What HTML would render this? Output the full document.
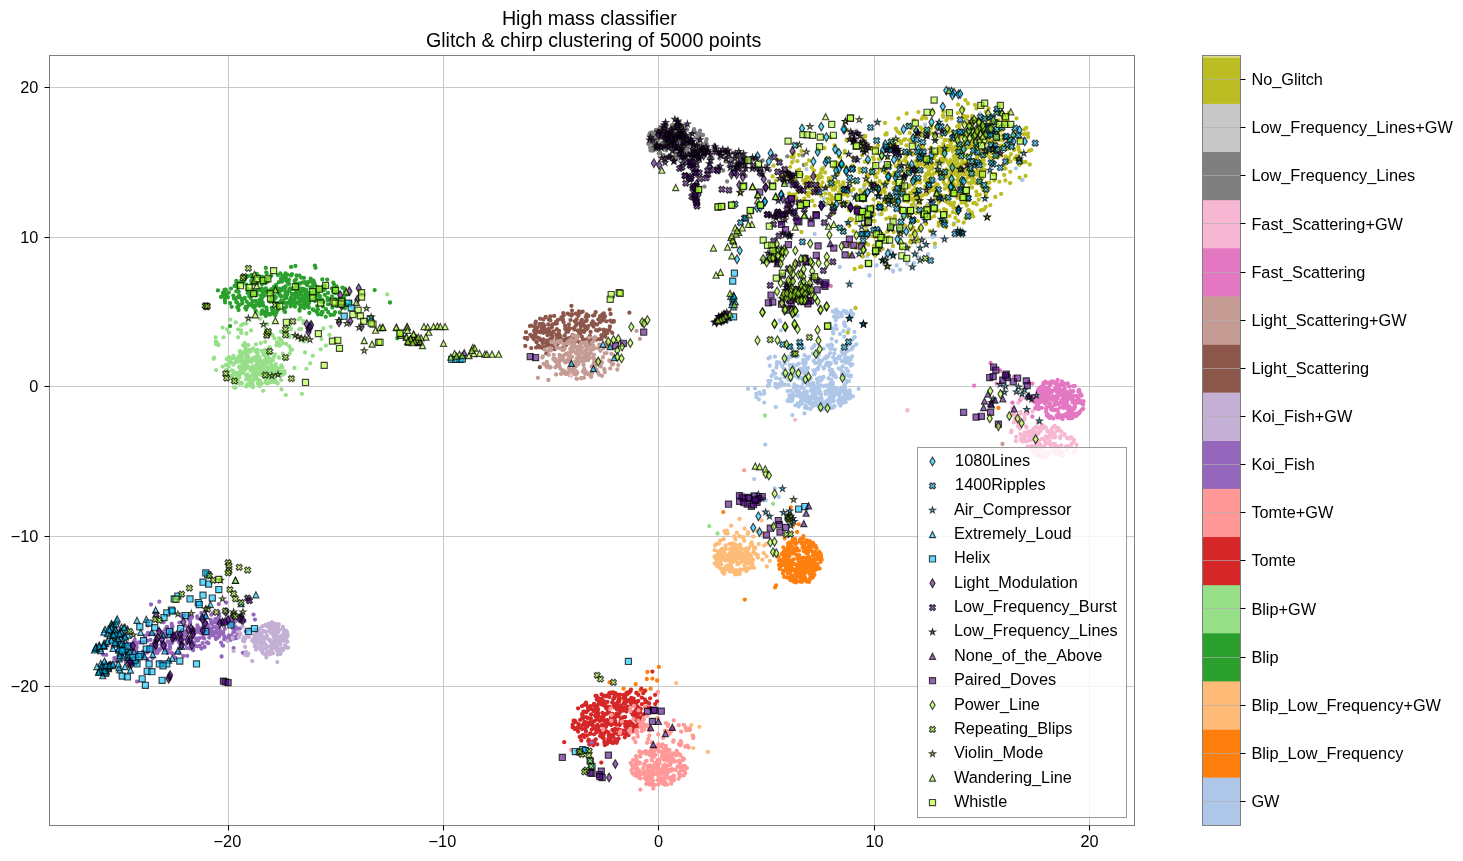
<!DOCTYPE html>
<html><head><meta charset="utf-8"><title>High mass classifier</title>
<style>html,body{margin:0;padding:0;background:#fff}svg{display:block;will-change:transform}text{font-family:"Liberation Sans",sans-serif;fill:#000}</style>
</head><body>
<svg width="1463" height="861" viewBox="0 0 1463 861">
<rect width="1463" height="861" fill="#fff"/>
<defs>
<path id="m0" d="M-0.00 4.31L2.59 -0.00L0.00 -4.31L-2.59 -0.00Z"/>
<path id="m1" d="M-1.52 3.05L0.00 1.52L1.52 3.05L3.05 1.52L1.52 -0.00L3.05 -1.52L1.52 -3.05L0.00 -1.52L-1.52 -3.05L-3.05 -1.52L-1.52 -0.00L-3.05 1.52Z"/>
<path id="m2" d="M0.00 -3.05L-0.69 -0.94L-2.90 -0.94L-1.11 0.36L-1.79 2.47L-0.00 1.17L1.79 2.47L1.11 0.36L2.90 -0.94L0.69 -0.94Z"/>
<path id="m3" d="M0.00 -3.05L-3.05 3.05L3.05 3.05Z"/>
<path id="m4" d="M-3.05 3.05L3.05 3.05L3.05 -3.05L-3.05 -3.05Z"/>
<clipPath id="ax"><rect x="49.5" y="55.5" width="1085.0" height="770.0"/></clipPath>
</defs>
<path d="M228.5 55.5V825.5M443.5 55.5V825.5M658.5 55.5V825.5M874.5 55.5V825.5M1089.5 55.5V825.5M49.5 87.5H1134.5M49.5 237.5H1134.5M49.5 386.5H1134.5M49.5 536.5H1134.5M49.5 686.5H1134.5" stroke="#c8c8c8" stroke-width="1" fill="none"/>
<g clip-path="url(#ax)" fill="none" stroke-linecap="round" stroke-width="4.3">
<path stroke="#aec7e8" d="M765.3 444.6h0M754.2 479.1h0M774.7 488.5h0M778.7 496.9h0M765.7 500.2h0M803.4 541.8h0M799.4 392.3h0M842.7 387.3h0M815.8 396.9h0M844 402.1h0M813.3 403.4h0M792.6 398.2h0M824.5 403.6h0M799.5 405.1h0M831.7 391.7h0M849.9 394.7h0M817.5 386.3h0M809.9 385.2h0M810.5 401h0M813.6 385.3h0M830.2 387.5h0M830.4 399.8h0M800.6 402.1h0M789.4 395.3h0M836.4 388.4h0M815.4 404.1h0M845.7 402h0M830.9 391.5h0M810.7 390.5h0M833.7 397h0M790.5 401.2h0M812.1 397.8h0M829.6 403.2h0M833.4 388.7h0M827.9 402.7h0M831.1 397.3h0M803.4 398.1h0M811.2 404h0M839.8 395h0M848.1 391.5h0M806.1 400.9h0M838.2 400.8h0M823 409h0M814.9 388.1h0M847.2 394.5h0M840.4 404.7h0M820.8 398.8h0M835.8 394.4h0M807.2 408.3h0M839.5 390.2h0M815.7 391.1h0M820.9 400.8h0M828.9 399.1h0M843.6 387.5h0M814.4 391.6h0M849.5 395.7h0M838.9 402.9h0M798.6 406.6h0M801.5 387.4h0M815.1 403.6h0M825.4 391.6h0M832.8 384h0M815.7 390.7h0M846 398.1h0M844.9 389.5h0M787.6 401h0M813.4 389h0M807.1 398.7h0M804.6 394.8h0M808 401.7h0M813 396h0M821 406.5h0M805.7 405.6h0M799.6 396.6h0M825.8 406.8h0M825.6 394.1h0M833 401.4h0M811.6 402.8h0M815.7 398.7h0M832.4 407h0M845.3 392.7h0M815.8 402.2h0M826.3 402h0M833.7 407.2h0M828.5 385.4h0M814.7 398.8h0M802.5 400.2h0M814.5 391.8h0M832.9 393.1h0M843.9 401.1h0M825 402.8h0M833.1 407.7h0M819 392.8h0M797.7 386.3h0M820.6 394.5h0M844.9 396.1h0M834.6 406h0M790 397.9h0M812.5 392.8h0M811.1 383.5h0M805.7 391.9h0M801.5 402.8h0M850.3 398.1h0M816 405.1h0M833.7 400.8h0M837.3 392.5h0M849.7 392.6h0M803.9 392.3h0M840.6 391.5h0M806.9 393.3h0M801.2 397.7h0M819.7 393.2h0M804.9 407.8h0M831.5 394.4h0M806.9 395.7h0M821.1 394.5h0M817.6 391.3h0M808.7 384.6h0M798.7 391h0M819.1 398.8h0M802 403.5h0M792.1 400.9h0M806.2 397.8h0M812.5 406.5h0M804.1 393.8h0M799.2 394.4h0M819.9 409h0M831.1 408h0M849.5 390.5h0M803.8 392.8h0M848 397.4h0M790.6 397.7h0M788.4 399.7h0M791.4 396.9h0M822.9 408.6h0M849.8 391.6h0M826.6 400.8h0M828.8 392.7h0M828.3 402.7h0M848.7 398.6h0M841.1 402.7h0M844.5 393.9h0M806.3 401.4h0M802 395.2h0M793.2 395.6h0M829.1 385.7h0M824.8 408.9h0M811.9 397.5h0M840.9 390.4h0M810.9 386.2h0M820.1 407h0M812.5 387.6h0M833.1 386.9h0M797.8 403.4h0M810 396.9h0M809.4 385.2h0M816.8 398h0M806.9 407.5h0M813.8 389.5h0M828.8 389.1h0M803.5 393.8h0M810.5 401.3h0M817 392.9h0M813.1 405.6h0M841.1 399.2h0M806.5 391.5h0M852.9 396.3h0M814.9 393.8h0M800.8 401.2h0M800.8 394h0M815 402.4h0M803.7 388h0M831.7 388.7h0M809.5 399.4h0M797.8 394h0M849.6 395.2h0M792.9 393.4h0M821.7 398.7h0M787.6 391.1h0M817 400.6h0M839.5 398h0M819.1 404.3h0M849 397.4h0M841.8 403.2h0M801.4 402.7h0M795.3 405.3h0M819.1 389.1h0M842.8 397.8h0M821.3 403.8h0M829.4 399.4h0M827.8 406.4h0M817.7 382.5h0M813.3 396.5h0M790.9 390.7h0M823.8 386.4h0M840.4 405.6h0M821.3 400.7h0M796.1 395.6h0M810.4 408.9h0M819 406h0M820.9 395.7h0M820.2 408.7h0M834.7 392.1h0M813.4 383.2h0M809.7 403.6h0M844.8 397h0M825.2 402.1h0M796 390.7h0M842.3 391.1h0M804 394.4h0M820 391.3h0M801.6 397h0M813.7 386h0M840.6 399.3h0M794 387.6h0M805.6 407.4h0M828.1 390.3h0M829.7 396.3h0M831.2 401.9h0M841.1 388.1h0M828.8 403.9h0M821.8 360.7h0M847.2 381h0M819.7 362.2h0M806.1 368.4h0M803.3 382.5h0M839.2 358.5h0M769.8 365.7h0M844.4 385.7h0M822.4 378.7h0M840.5 369.2h0M826.2 357.9h0M805.6 363.6h0M828.3 356.4h0M834.9 375.1h0M768.4 381h0M796.9 365.1h0M836.6 358.8h0M830.6 374.6h0M821 385.4h0M842.6 366.5h0M777.5 384.7h0M850.7 359.6h0M832.4 383.3h0M843.2 373.1h0M847.7 375.3h0M775.2 373.6h0M807.1 371.3h0M785.6 357.6h0M821.5 361h0M819.1 360.9h0M784.7 356.9h0M850.9 375.6h0M775.6 386.5h0M819.9 364.7h0M793.2 356.1h0M831.5 380h0M793 364.8h0M797.5 377.4h0M813.8 386.4h0M805 373.5h0M803.8 372h0M809.6 384.4h0M784.9 375.5h0M844.9 387.2h0M793.6 367.7h0M802 386.3h0M791.1 379.8h0M834.5 376.2h0M830.7 371.2h0M784.6 377.2h0M801.3 387.7h0M826.5 356.4h0M771.6 376.2h0M784.5 384.3h0M777 362.1h0M807.4 382.7h0M817.7 386.2h0M841.9 375.5h0M844.8 385h0M847 360.8h0M774.9 356.7h0M814 374.4h0M804.5 373.4h0M832.8 382.7h0M849.2 376.2h0M838.7 356.7h0M824.6 358.4h0M823.9 368.6h0M804.1 367h0M780.7 385.8h0M849 381.1h0M777.1 387.7h0M802.1 377.6h0M850.8 365.5h0M779.8 362.7h0M815.8 369.9h0M847.1 357.8h0M794.6 370.8h0M788.6 384.8h0M768.9 385.7h0M770.5 380.8h0M845.1 357.9h0M805.6 360.8h0M789.5 373.9h0M776.9 364.2h0M829.7 370.1h0M833.4 372.6h0M847.8 362h0M788.4 379.9h0M800.5 369h0M769.1 383.9h0M775.3 383.8h0M786.9 374.9h0M768.5 358.4h0M850.6 376.7h0M808 367.9h0M835.9 363h0M807 372.2h0M770 357.2h0M808.2 358.5h0M816.1 363.1h0M826.1 385.6h0M825.3 358.4h0M822.9 378.1h0M782.6 373.8h0M795 375.5h0M803 380.1h0M815.1 362.9h0M849.2 363.2h0M780.2 383.7h0M829.1 362.6h0M802.9 359.9h0M833.6 375.5h0M787.8 360.1h0M817.8 369.2h0M806.7 357.2h0M847 359.8h0M782.2 365.9h0M842.2 372.9h0M776.1 378.2h0M844.5 374.4h0M806.1 372.6h0M820.8 380.6h0M789 356.7h0M847.6 357.8h0M848.1 371.2h0M790.2 368.9h0M838.7 368.3h0M798.9 363.7h0M844.5 375.8h0M812.7 353.6h0M804.4 355.2h0M823.7 348.6h0M812 348.3h0M818.5 354.7h0M804 348.1h0M814.5 354h0M809 356.8h0M791.3 346h0M792.6 349.4h0M795.5 356.7h0M817.6 357h0M814.6 345.1h0M827.8 345.5h0M790.4 357.4h0M796.4 356.5h0M797.8 356.4h0M791.4 353.6h0M814 346.2h0M833.1 357.3h0M848.7 329.5h0M845.7 352.5h0M841.7 316h0M849.4 314.2h0M843.8 310.9h0M844.4 324.4h0M853.2 314.1h0M851.4 316.8h0M834.9 312.3h0M852.1 348.5h0M844.2 322.4h0M830.5 327.1h0M841.1 316.3h0M842.8 353.7h0M830.1 353.2h0M848.8 318.1h0M838 317.1h0M844.7 354.1h0M833.9 316.6h0M852.6 339.7h0M851.6 349.3h0M836.2 309.7h0M835.7 320.3h0M836.8 315.2h0M851.1 310.7h0M853.8 337.9h0M835 311.2h0M835.7 325.5h0M848.1 350.6h0M832.2 345.6h0M854.8 337.1h0M856.5 344.3h0M852.9 347h0M848.4 318.6h0M829.3 323.6h0M831.4 347.7h0M831.6 348.7h0M841.7 351.5h0M845.2 326.2h0M843.6 331h0M840 334h0M847.9 345.8h0M769.1 385.5h0M756.2 394h0M756.5 397.2h0M759.2 392.3h0M764 390.9h0M758.9 399.3h0M760.6 394.3h0M764.2 393.7h0M764.2 402.6h0M767.7 386.2h0M748.1 388.9h0M755 388.4h0M775.8 407.1h0M792.4 415.1h0M804.5 413.4h0M858.6 388.8h0M780.2 321.4h0M781 330.4h0M797.6 315.8h0M835.9 311.8h0M836.8 313.5h0M942.3 162.8h0M914.4 167.8h0M980.3 181h0M825.5 205.3h0M939.2 178.7h0M895.8 179.2h0M953.3 194.1h0M932.6 237h0M929.1 209.5h0M879.5 214.3h0M980 113.5h0M823.5 198h0M963 169.4h0M866.7 227.2h0M896.4 190.8h0M917.2 160.3h0M930.5 127.9h0M907.1 162.7h0M929.8 217.2h0M890.5 217.8h0M915.2 205.6h0M947.2 170.9h0M849.6 202.2h0M867.2 256.2h0M934.7 180.9h0M925.8 221.9h0M863.8 187.6h0M846.8 223h0M851.4 204.2h0M865.3 251.3h0M962.4 135h0M806.4 169.2h0M925 124.7h0M848 204.5h0M982.3 161.7h0M892.5 220.8h0M789.2 183.6h0M967.9 211.1h0M935.7 193.5h0M879.6 187h0M984.6 117.1h0M969.9 162.3h0M860.3 221.3h0M931.8 205.7h0M876.1 167.3h0M937.1 205.9h0M888.1 229.7h0M902.2 186.1h0M824.1 189.9h0M954.5 223.2h0M963 163.5h0M880 161.3h0M851.2 192.6h0M970.2 214.7h0M927.8 203.9h0M845 202.3h0M939.9 178h0M915 129.7h0M980.6 147.5h0M866.2 206.7h0M968.9 218.3h0M1022 180h0M934.9 235.4h0M934.9 247.1h0M890.5 250.6h0M876.6 265.4h0M893.1 271.5h0M900.1 269.7h0M896.6 265.4h0M869.6 275.5h0M914 262.8h0M928 254.1h0M907 263.6h0M886.1 256.7h0M917.5 256.7h0M814.6 234h0M839.8 267h0M869.4 275.5h0M838 312h0M842 316h0M846 313h0M836 318h0M1022.5 180h0M1016 168.4h0M814.6 234h0M839.9 267.1h0M869.5 275.5h0M876.4 265.4h0M893 270.6h0M900 269.7h0M779.7 320.3h0M789.3 286.3h0M848.5 358.5h0M843.2 353.8h0M831.2 344.3h0M840.4 356.6h0M834.6 360.5h0M845.5 357.4h0M845.5 362.7h0M833 332.7h0M855.8 344.6h0M836.7 329.1h0M841.9 361.2h0M832.8 311.4h0M832.9 328.7h0M840.9 313.1h0M846.5 311.6h0M843.6 361h0M834.3 353.7h0M849.7 316.7h0M852.4 364.3h0M836.3 362.6h0M830.2 348.6h0M834.9 349.6h0M831.7 339h0M836.4 341.5h0M844.3 336.6h0M830.8 363.5h0M832 369.8h0M854.4 332h0M833.4 333.4h0M852.1 356.3h0M784 368.8h0M833 373.6h0M784.9 363h0M803.2 363h0M772.1 375.4h0M819.7 377.7h0M826.1 365h0M805.5 362.8h0M789.5 364.9h0M846.4 368.7h0M830.2 383.4h0M795.4 387.7h0M781.5 381.9h0M780.1 378.8h0M776.4 367.4h0M830.9 372.1h0M807.8 385.2h0M814.8 373.6h0M826.9 362.8h0M773 370.9h0M823.4 376.9h0M831.1 372.7h0M794.3 384.5h0M843.4 378.8h0M836 377.2h0M813.7 360.7h0M799.6 378.3h0M826.8 363.4h0M813.5 370.3h0M801.6 370.1h0M843.2 372.1h0M828.5 378.3h0M823.4 367.6h0M781.3 382.9h0M829.2 366.3h0M816.9 379h0M810.7 378.5h0M818.1 367.9h0M825.5 385.7h0M846.4 382.5h0"/>
<path stroke="#ff7f0e" d="M658.9 666.9h0M647.4 672h0M646.8 679h0M652.4 678.6h0M657.1 680.5h0M635.7 684.2h0M623.6 688.7h0M645.5 690.5h0M650.6 688.7h0M620.8 699.1h0M605.4 706h0M583.1 715.8h0M640.3 690.5h0M793.6 542.1h0M803.1 538.3h0M788.8 572.4h0M803.9 547.2h0M789.1 551.1h0M784.1 562.1h0M791.7 579.9h0M792.9 553.6h0M821.7 559.8h0M799.9 539.8h0M808.1 565.7h0M802.6 564.9h0M803.2 560.1h0M796 582.4h0M801.1 560.8h0M802.2 571.4h0M803.7 579.4h0M821.2 557.1h0M796.9 554.8h0M812.3 551.5h0M817.2 554.9h0M816.8 569h0M804.2 574h0M810 573.7h0M794.1 581.5h0M809.1 581.9h0M799.4 576.9h0M790.3 577.9h0M810.5 576.2h0M791.5 575.3h0M803.8 545.8h0M793.5 541.4h0M815.7 569.7h0M796.4 581h0M787.8 573.7h0M804.6 559h0M786.2 563.3h0M786.4 559.3h0M800.8 565h0M817.5 566.1h0M781.1 565.8h0M785.9 568.9h0M811.8 546.2h0M797 548.4h0M781.8 564.1h0M815.3 564.4h0M803 557.7h0M803.2 580h0M784.3 565h0M785.1 557.8h0M788.5 557.1h0M783.4 547.3h0M807.7 552.1h0M802.8 577.3h0M806.3 559.8h0M792.6 564.3h0M806.1 553h0M795.1 540.2h0M794.7 550.6h0M807.3 581.4h0M810.2 549.3h0M812.5 570h0M796 570.8h0M810 569.6h0M797.6 572.2h0M810.5 545.4h0M807.7 550.3h0M809.8 541.1h0M802.2 564.7h0M798.5 560.8h0M791.1 547.6h0M818.1 554.2h0M792.9 563.3h0M786.6 550.8h0M787.2 577.7h0M809.4 544.4h0M815.6 546h0M813.4 555.9h0M812.9 555.1h0M806.6 564.9h0M799 550.6h0M780.3 566.9h0M815.2 552h0M783.1 570.6h0M807.6 566.7h0M788.9 557.2h0M804.5 563.7h0M796.6 576.6h0M808.7 560.2h0M813.3 560h0M795.5 544.1h0M779.3 564.6h0M820.6 561.8h0M791.6 577h0M799.2 564.6h0M782 554h0M785.1 557.1h0M795.8 548.1h0M792.8 540.4h0M790.1 552.4h0M788.5 544.2h0M814.4 574.9h0M812.6 565.8h0M793.6 576.9h0M789.5 545.4h0M812 564h0M793.6 548.9h0M800.5 541.6h0M808.8 544.5h0M783.5 551.6h0M786.6 560.8h0M792.9 569h0M805.4 547.6h0M813.1 542.9h0M784.1 557h0M805.2 542.9h0M788.8 563.8h0M806.7 541.8h0M806.8 540.3h0M816.6 548.4h0M788.4 555h0M809.1 556.8h0M814.7 552.4h0M793.8 577h0M803.5 569.5h0M799.4 558.5h0M783 573.6h0M814.3 546.7h0M814.2 562h0M802.5 566.7h0M809.9 574h0M812.9 567.4h0M817.5 564.1h0M811.3 561.2h0M810.9 567.9h0M817.2 564.4h0M783.8 570.8h0M790 560.8h0M796 574.6h0M780.8 561.2h0M814.3 570.9h0M808.1 559.9h0M798.8 574h0M802 542.2h0M798.7 565.4h0M821 558.4h0M804.2 580.3h0M812.1 563.4h0M797 566.6h0M818.7 568.3h0M806.5 561h0M816.8 559.4h0M799.8 581.4h0M804.6 562.7h0M807.9 541.6h0M802 560h0M820.5 553.7h0M810.5 549.2h0M783.1 559.9h0M809.1 580h0M779.5 568.8h0M804.6 568.7h0M799.2 555.3h0M788.1 543.4h0M789.6 564h0M803.8 545.5h0M791.1 542.8h0M809.8 579h0M787.5 571.5h0M792.7 539.4h0M779 565h0M803.7 551.2h0M820.3 556.7h0M816 558.8h0M791 560.8h0M788.4 568.5h0M788.3 555.8h0M789.9 542.5h0M820.6 558.7h0M793.5 552.4h0M803.3 547.8h0M803.4 560.4h0M797.5 558.3h0M806 550.3h0M793.1 563.4h0M780.1 565.8h0M784.3 576.9h0M806.8 571.5h0M800.3 566.2h0M809.8 558.6h0M795.2 579.1h0M800.7 574.2h0M796.7 543h0M790.5 552h0M789.5 568.8h0M794.1 570.2h0M809.9 579.5h0M810.8 567.1h0M805.1 562.8h0M795.6 579.2h0M782.3 559.7h0M788.4 561.7h0M793 540.8h0M803.1 557.9h0M778.6 556.7h0M794.3 576.4h0M805.2 559.4h0M805.5 572.7h0M788 547h0M806.9 581.6h0M785.6 553.1h0M820.1 558.7h0M811.7 574.2h0M808.1 553h0M801.5 563.2h0M801.5 543.6h0M788.7 571.6h0M785.3 560.2h0M795.8 564.3h0M814.9 552.5h0M779 560.4h0M785.4 550.2h0M793.5 559.4h0M785.8 566.6h0M802.1 581.3h0M790.6 579.7h0M805.6 550.1h0M785.1 562h0M782.8 565.1h0M795.5 550.7h0M804.4 559h0M801.7 581.9h0M806.8 551.4h0M807.7 547.8h0M800.9 578.4h0M801.1 563h0M821 555.1h0M798.5 570.8h0M817.4 568.5h0M812.8 577.6h0M797.2 568.2h0M817.4 565.7h0M790.3 571.6h0M789.5 555.8h0M802.6 547.6h0M810.7 547.1h0M812.7 546.4h0M819.4 551.9h0M789.7 567h0M804 543.6h0M789.3 549.1h0M808.8 563.1h0M804.5 574h0M801.7 568h0M803.1 577.2h0M801.7 569.4h0M794.9 571.8h0M805.2 578h0M800.2 567.2h0M800.6 565.7h0M788.3 545.3h0M794.6 581.7h0M809.7 570.9h0M813.4 552.1h0M791.1 567.8h0M817.7 558.4h0M796.6 554.9h0M802.7 572.1h0M808.1 569.9h0M806.8 551.9h0M794.7 582.1h0M819.7 568.6h0M791.7 546.2h0M805.7 561.7h0M810.7 566.7h0M801 539.4h0M796.3 577.6h0M801 538.9h0M789.6 554.3h0M816.1 568.2h0M808 556.8h0M790.3 580h0M794.9 539h0M788.9 546.9h0M787.8 572.2h0M814.9 545.3h0M809.6 565.3h0M793.5 581.4h0M805 558.2h0M804.2 574.2h0M723.3 512.1h0M744.8 599.6h0M775.1 587.4h0M776.2 585.3h0M790.8 507.3h0M798.8 524.3h0M792.9 525.7h0M803.4 536.2h0M797.1 532h0M784.6 538.3h0M998.4 408h0M609.5 682.3h0"/>
<path stroke="#ffbb78" d="M676.2 683.1h0M691.4 725.1h0M699.4 726.8h0M692.4 735.3h0M693.3 748.1h0M707.8 752h0M725.9 567.7h0M751.9 562.8h0M725 557.6h0M730.1 552.4h0M740.1 554.9h0M720.2 552.3h0M721.1 564.2h0M744.5 565.5h0M716.7 565.8h0M749.8 557.7h0M728.3 557.7h0M735.1 544.3h0M748.8 555.1h0M735.1 574.4h0M732.8 571.6h0M734.5 544.2h0M745.3 561.8h0M728.1 569.2h0M738.5 549.2h0M738.6 552.3h0M739.8 570.2h0M753.2 560h0M750.5 556.5h0M725.7 559.8h0M716.6 559.8h0M731.4 556.4h0M735.2 554h0M726.7 567.7h0M718.8 557.2h0M735.4 554.5h0M723.6 568.6h0M720.2 555.6h0M723.5 573h0M744.2 556.8h0M752.5 564.6h0M733 552h0M715.8 558.5h0M724.2 549.9h0M737 572.3h0M745.8 557.3h0M728.2 560.6h0M730.9 549.9h0M745.1 565.6h0M730 571.6h0M737.6 558.1h0M747.4 561.1h0M722.4 571.7h0M739.7 574h0M727.6 568.9h0M724 552.2h0M746.1 548.6h0M714.5 556.5h0M741.7 555.9h0M730.1 548.8h0M747.6 555.5h0M741.4 569.9h0M740.8 554.5h0M734.2 546.2h0M748.1 555.8h0M747.9 563h0M739.1 562.9h0M751.5 560.7h0M745.7 560.2h0M734.6 572.5h0M722.7 555.6h0M732.4 560.8h0M746.3 571h0M735 548.6h0M738.1 564.1h0M746.9 559.1h0M731 566.1h0M752 564.6h0M739.9 569.5h0M742 561.3h0M736.5 574.3h0M725.9 549h0M728 565.6h0M749.3 560.9h0M729.9 565.5h0M724.5 571.7h0M732.5 570h0M733 545.8h0M737.5 563.3h0M724.2 557.5h0M746.9 561.8h0M715.8 563.5h0M734.8 555.5h0M723.9 573.8h0M736.2 561.3h0M726.4 557.7h0M747.8 558.5h0M731.2 548.7h0M720.7 562.3h0M728.2 557.1h0M724.6 570.7h0M720.5 568.5h0M741.3 548.5h0M747.9 549.7h0M722.4 557.8h0M734 550.5h0M738.9 553.2h0M720.2 551h0M739.4 557.7h0M717.8 551.7h0M715.2 556.1h0M732.4 548.8h0M724.6 553.2h0M744 553.7h0M738.1 546h0M714.9 556.4h0M731.6 553.8h0M747.7 551.1h0M717.9 566.6h0M727.8 568.4h0M740.5 551.6h0M735.7 560.9h0M724.4 558.9h0M747.6 563.4h0M730.3 548.9h0M748.8 553.9h0M751.2 556.7h0M726 566.5h0M740.1 553.6h0M729.1 554.5h0M736 570.1h0M741 562.1h0M721 552.9h0M730.8 563.7h0M745.3 551h0M738.9 558.2h0M717.8 554.2h0M720.1 550.6h0M744.4 568.9h0M723.9 573.5h0M738.1 551.6h0M721.3 560.1h0M730.6 566.3h0M719.6 557.7h0M721.4 559.8h0M714.7 563.5h0M719.5 562.6h0M732.7 559.6h0M741.5 557.8h0M745.5 550.8h0M716.3 556.4h0M748.6 563.3h0M747.6 548.7h0M722.3 548.7h0M746.2 569.6h0M745.7 551h0M749 562.4h0M754.3 549.7h0M766.2 543.9h0M749.3 557.1h0M762.4 559.7h0M723.7 539.2h0M729.4 554.6h0M740.1 536.5h0M729.5 543.8h0M733 544.7h0M735.5 539.3h0M750.2 558.6h0M743.5 537.2h0M727.8 555.9h0M739.4 536.2h0M717.3 543.8h0M757.9 557.5h0M743.2 556.3h0M725.7 557.4h0M755.2 548h0M719.2 543.4h0M757.7 555h0M715.1 545.4h0M749.2 547.4h0M750.8 543.6h0M727.7 533.5h0M753.4 551.9h0M737.2 550.1h0M732.7 562h0M750 567.9h0M753.1 536.6h0M729.8 559.8h0M741.9 548.8h0M744.6 528.7h0M753.9 567.8h0M740.2 544.6h0M738.2 556.2h0M732.8 543.3h0M720.7 558.7h0M762.9 533.7h0M748.1 568.7h0M751.7 542.5h0M755.4 554h0M763.8 553.2h0M755 547.5h0M720.7 560.6h0M725.6 545.5h0M750.8 555.4h0M752 544.8h0M714.6 550.1h0M744.2 540.7h0M724.5 531.1h0M744.6 553.8h0M725.5 533.3h0M742.4 559.6h0M726.9 530.6h0M715.4 545h0M766.6 556.4h0M735.8 557.5h0M745.8 551.8h0M732.3 568.4h0M748.3 532.2h0M754.1 548.4h0M746 562.3h0M757.2 530.8h0M746.8 552.3h0M737.4 564.2h0M740.2 550h0M734.2 536.4h0M764.2 545.6h0M724.9 548.9h0M720.3 540.5h0M758.8 544.1h0M736.8 532.6h0M733.3 559.1h0M747.7 533.9h0M732.4 559.3h0M750 555.9h0M740.2 555.4h0M725.6 560.4h0M739.6 519h0M731.2 525.7h0M761.6 520.5h0M769.9 560.9h0M766.8 566.5h0"/>
<path stroke="#2ca02c" d="M281.4 290.3h0M228.8 292.6h0M302.9 296.3h0M282.5 275.9h0M319 299.3h0M288 279.6h0M306.1 293.6h0M266.4 289.6h0M284.6 302.8h0M253.6 307.2h0M310.4 287.5h0M227.9 297.2h0M255.5 283.8h0M271.2 289.1h0M291.7 300.4h0M296.5 275.4h0M290.1 288.5h0M290.5 305.1h0M225.8 289.6h0M270.7 296.9h0M269.2 277.5h0M320 296.1h0M249.8 294h0M281 278.4h0M266.7 273.4h0M285 298.1h0M289 280h0M275.9 312.6h0M285.7 277h0M239.1 295.4h0M283.4 301.4h0M268.1 279.3h0M281.9 281.7h0M261 280.5h0M299.9 290.2h0M270.9 314h0M276.5 312.8h0M288.2 302.7h0M236.2 291.3h0M252.4 301.1h0M252.3 305.8h0M244.8 298h0M266.5 311.5h0M300.9 293.3h0M240 297.6h0M265.9 312.3h0M242.9 299.2h0M314.4 283.5h0M280.7 301.4h0M244 280.8h0M252.5 283.9h0M266.4 307.7h0M233.9 298.4h0M306.2 289.9h0M255.5 305.9h0M271.7 293.4h0M279.1 288.7h0M246 308.9h0M306.9 291.8h0M242.8 282.2h0M223.3 295.6h0M262.5 276.9h0M263.2 296.3h0M265.5 283h0M266.8 310.5h0M292.1 288.9h0M224.5 290h0M275.3 315.2h0M230.1 303.2h0M297.8 284.2h0M287.3 274.7h0M255.8 295.3h0M256.7 303.8h0M249 304.9h0M314 290.3h0M297.9 302.7h0M284.7 288.8h0M289 283.9h0M276.7 305.5h0M257.2 303.7h0M255 291.1h0M281.5 280.8h0M302.4 288.6h0M315.3 291.5h0M264.1 313.3h0M284.9 308h0M239.5 296.2h0M231 288.6h0M245.5 277.8h0M303.8 304h0M244.7 279.5h0M314.1 282.4h0M279.3 291.8h0M315.3 285.4h0M293.6 288.2h0M304.1 289.3h0M314.3 298.4h0M307.6 283.5h0M270 301.7h0M255.5 310.4h0M260.9 295.7h0M299.1 289.6h0M236.4 283.2h0M253.5 305.7h0M245.9 306.7h0M306.3 282.4h0M291.1 275.6h0M300.4 307.4h0M272.1 295.5h0M250.8 304.6h0M279.3 307.8h0M262.6 292.6h0M278.4 309.3h0M237.9 287.6h0M313.2 284.8h0M299.5 275.7h0M285.2 297.7h0M278.3 303.2h0M238.4 304.3h0M261.8 288.6h0M255.6 300.9h0M272.2 310.2h0M261.7 301.2h0M285.1 312h0M301.1 277.6h0M269.4 290.9h0M242.3 303.3h0M257.8 276h0M223 293h0M247.7 293.1h0M259.6 300.6h0M225.7 297.1h0M319.2 290.5h0M276.1 285h0M286.5 281.1h0M302 305.9h0M226.4 295.1h0M259.6 300.6h0M306.2 302.1h0M237.3 307.2h0M304.4 300h0M274.1 302h0M274.3 290.6h0M261.9 284.3h0M257.2 276h0M280 295.6h0M273.9 295.3h0M300.4 294.7h0M281.1 296.5h0M286.3 298.1h0M278.1 293.1h0M299.2 283.5h0M284.2 310.9h0M271.7 307.8h0M288 291.7h0M247.2 289.8h0M247.1 307h0M224.9 300.1h0M265.8 315.9h0M252 289.6h0M271.3 292.2h0M227 293.6h0M291.9 274.2h0M297 302.5h0M237.1 283.6h0M318 291.1h0M295 306.7h0M225.7 296.3h0M267.5 292.1h0M259.6 303.6h0M296 290.8h0M256.5 295.2h0M225.1 298.4h0M277.9 291.9h0M312 294.4h0M279.8 289.9h0M292 302.4h0M249.9 304.2h0M252.5 295.3h0M237.5 297.5h0M306.5 296.6h0M261.5 305h0M246.2 309.5h0M289.5 291.2h0M289.4 289h0M247.4 288.6h0M298.6 287.8h0M285.5 286.5h0M238.6 310h0M305.9 306.1h0M260.4 290.4h0M259.6 305.8h0M294.4 293.8h0M304 291.2h0M296.1 291.1h0M238.6 291.7h0M236.3 281h0M257.2 283.2h0M307 285h0M235.3 298.6h0M234.6 285.9h0M273.7 298.6h0M274.7 312.6h0M223.9 292.7h0M277.5 310.3h0M296.8 295.2h0M245.3 308h0M271.3 275.8h0M265.9 311.4h0M283.1 287.8h0M256.8 273.8h0M243.6 277.4h0M296 284.6h0M305.8 300.2h0M275.8 297.2h0M313.4 280.7h0M309 281.8h0M306.6 300.9h0M277.9 275.1h0M291.9 294.2h0M289.6 302h0M290.1 299.9h0M262.3 310.3h0M261.9 298.2h0M311.5 281.6h0M242.1 300.6h0M295.1 303.1h0M270.2 300.4h0M312.6 293.3h0M316.1 295.9h0M237.1 302.4h0M249.1 294h0M272.7 313.3h0M259.6 299.7h0M308.3 304.7h0M251.4 281h0M252.5 301.6h0M290.7 306.3h0M233.3 295.6h0M278.5 303.9h0M260.7 313.8h0M294.4 302.8h0M280.3 273.4h0M264.4 313.9h0M285.4 291.8h0M239.8 304.8h0M287.1 303.1h0M259.5 276.3h0M267.8 278.5h0M295.5 283.5h0M304.4 308.1h0M274.4 289.5h0M294.6 280.9h0M263.3 305.5h0M264.4 295.3h0M240.3 282.2h0M273.6 310h0M303.9 277.9h0M259.6 278.7h0M288.7 283.9h0M225.1 302.4h0M256.8 293.7h0M275.5 298h0M256.1 311.6h0M267.8 281.5h0M299.5 289.8h0M299.4 309.8h0M297.8 296.8h0M315 301h0M236.2 302.1h0M278.8 282.2h0M273.8 298.5h0M249.2 296.2h0M223.1 293.6h0M287.5 282h0M281.6 300.6h0M297.6 294.2h0M224.9 294.8h0M260.8 300.8h0M261.2 312.9h0M274.1 286.7h0M251.5 275h0M302.7 300.7h0M263.5 293.1h0M285.5 273.3h0M295.7 286.4h0M314.1 292.6h0M283.9 279.2h0M285.1 295.1h0M265.8 288.4h0M257.5 290h0M289.4 291h0M265.2 291h0M280.5 295.4h0M248.1 276.1h0M271.8 299.9h0M288.5 280.2h0M287.2 294.8h0M262.7 302.8h0M252.2 277.7h0M299.6 310.7h0M251.6 283.2h0M271 292.8h0M266.2 272.3h0M278.5 290.9h0M246.8 301.7h0M294.7 305.4h0M269.7 314.7h0M237.9 307.8h0M308 298.4h0M263.8 281.5h0M314 300.2h0M315.5 299.7h0M313.9 284.1h0M285.8 276.3h0M271.9 300.1h0M258.3 304h0M287 280.3h0M246.5 284.6h0M268.5 313.9h0M250.6 297.9h0M296.1 279.3h0M301.1 293h0M315.4 291.6h0M253.2 291h0M286.2 306.8h0M276.2 287.8h0M291 297.7h0M231.7 306.8h0M248.1 289.7h0M321.5 288.6h0M344.6 288.7h0M297.6 297.6h0M319.3 290.6h0M328 304.3h0M315.6 296.9h0M301.2 301h0M310.8 299.8h0M328.2 312.2h0M304.7 282.9h0M311.3 279.9h0M316.7 292.6h0M322.8 287.1h0M303.8 298.7h0M333.9 290.1h0M306.2 290.4h0M337.5 291.3h0M299.2 304.1h0M318.6 287.5h0M326 309.2h0M336.5 306h0M332 296.4h0M304.6 306.9h0M338.7 303.8h0M303 282.3h0M347.4 294.2h0M324.8 289.5h0M335.7 299.2h0M346.8 294.5h0M300.7 299.1h0M322 299.6h0M342.3 307.1h0M317.9 309.4h0M306.3 282.7h0M344.7 292.1h0M350.4 302.2h0M334.1 284.6h0M327.2 279.6h0M317.9 288h0M332.3 307.5h0M327.7 300.2h0M322.3 279.4h0M316.1 291.6h0M305.9 306.4h0M308.8 307.6h0M347.5 305.3h0M339.7 300h0M328.1 292.9h0M339.6 298.5h0M324.8 294.9h0M306.8 298.5h0M336.8 287.1h0M323.4 302.2h0M310.6 278.7h0M321.7 312.2h0M309.1 302.7h0M342.4 287.7h0M312.7 299.8h0M335.4 293.2h0M300.3 283.5h0M317.1 306.2h0M318 314.4h0M329.4 299.2h0M304 289.2h0M336.3 286.4h0M322.8 306.6h0M305.9 297.2h0M343.5 299.6h0M303.3 304.8h0M332.2 296.7h0M331.9 288.4h0M292.2 294.5h0M312.6 288.5h0M344.9 308.3h0M309.9 295.4h0M325 285.3h0M322.6 312h0M342.5 305.7h0M345.9 304.5h0M333.9 314.7h0M321.6 314.5h0M333.3 282.7h0M294.5 298.9h0M306.7 293.4h0M309.4 313h0M313.9 310.3h0M309.1 293h0M322.8 290.4h0M330.6 315h0M299.9 301.2h0M318.2 293.8h0M344 297.4h0M320.8 301.5h0M307.1 303.4h0M303.1 289.1h0M335 312.2h0M314.4 292.2h0M327.4 298.2h0M316.8 312h0M295.3 296.4h0M339.7 312.5h0M305.4 294.4h0M344 298.4h0M298.7 290.3h0M325.8 316.8h0M312.8 309.4h0M304.5 282.1h0M333 291.1h0M309.3 298.7h0M306.8 296.5h0M374.7 290.1h0M390 302.3h0M217.9 290.4h0M221 297h0M230.1 326.1h0M295.4 266h0M291.1 266.9h0M314.9 265.7h0M315.5 267.8h0M265.8 267.9h0M390 302.5h0M397.2 338.3h0"/>
<path stroke="#98df8a" d="M273.6 379.9h0M260.2 372h0M233.2 381.4h0M268 377h0M256.5 357.8h0M231.9 377.5h0M264.9 374h0M247.7 362.6h0M257.5 359.2h0M238.2 379.8h0M262.8 368.2h0M242.3 358.1h0M254.4 359.4h0M271.1 359.3h0M251.6 361.8h0M231.9 358.6h0M237.6 383.2h0M254.6 378.1h0M270.1 372.3h0M263.9 355h0M229.6 362h0M252.5 371.9h0M271.7 378.8h0M247.4 384.5h0M255.3 351.3h0M258.2 379.8h0M280.4 373.5h0M237.8 377.3h0M247.7 374.5h0M248.9 359h0M232.2 363.1h0M232 370.3h0M281.2 365.5h0M268.4 354.9h0M263.2 373.9h0M254.2 379.4h0M230.4 376h0M272.2 373.4h0M254.7 359.6h0M257.4 349.8h0M248.7 379.8h0M267.5 362.4h0M233.7 363.7h0M256.6 377.7h0M243.1 361.6h0M242.5 354.6h0M248.5 351.6h0M272.6 365.9h0M263.7 364.4h0M236.4 374.5h0M236.9 372.8h0M273.4 369.8h0M241.7 372.3h0M265.9 382.8h0M263.4 373.4h0M256.1 365.1h0M279.2 370.1h0M272.1 379.7h0M246.8 360.6h0M243.2 365h0M233.3 374.1h0M264.5 351h0M255.1 376.9h0M259.9 381h0M239.1 367.2h0M274.6 378h0M246.4 356.4h0M270.7 363.6h0M263.3 354h0M270.1 358.9h0M265.5 371.5h0M237 373.4h0M278.8 357.4h0M268.9 353.9h0M236.2 360.7h0M240.1 355.5h0M252.9 374.5h0M252.2 379.6h0M280.6 375.3h0M264.1 363.6h0M246.6 386.2h0M282.3 367.2h0M279.2 368.7h0M259.5 357.5h0M245.8 367.2h0M269.3 370.5h0M240.4 354.2h0M248.3 356.7h0M245.4 352h0M249.6 360.3h0M241.8 352.6h0M257.1 350.6h0M235.1 378.9h0M266.5 365.9h0M240.5 368.9h0M253.2 372.2h0M260 367.8h0M249.2 383.8h0M234.5 372.7h0M245.4 352.5h0M258.6 358.9h0M247 377.7h0M282.4 371.9h0M226.7 359.1h0M246.6 365h0M250.5 351.6h0M252.5 381.7h0M254.7 367.1h0M257.6 353.6h0M263.9 360.8h0M254.7 357.3h0M239.8 351.5h0M229.2 362.6h0M257.9 365h0M257.8 383.2h0M252.6 366.5h0M261.6 350.8h0M257.6 353.9h0M270.5 378.7h0M252.7 369.8h0M261.2 366h0M257.3 354.8h0M264.3 377.2h0M226.4 369.8h0M259.8 359.2h0M265.9 359.1h0M244.4 367.3h0M271.1 375.7h0M259.8 386.2h0M268.8 369.4h0M267.8 382.4h0M264.6 370.6h0M245 351.1h0M247.5 355.5h0M244.7 370.1h0M273.9 356.7h0M271.6 382.1h0M257.7 374.2h0M246.7 364.2h0M239.7 366.4h0M269.5 377.2h0M279.1 357.8h0M233.4 355.9h0M241 361.6h0M250.5 370.2h0M235.7 359.2h0M274.6 374.1h0M249.5 376.3h0M238.3 357.3h0M229 357.1h0M243.4 366.9h0M269.5 371.3h0M241.7 383.6h0M265.2 367.3h0M263.4 365.8h0M259 361.5h0M278.7 374.4h0M262.9 370.7h0M255.9 372.9h0M265.3 355h0M261.6 383.7h0M258.1 384.1h0M252.7 380h0M250.9 350h0M243.2 366.8h0M266.7 358.7h0M269.9 373.1h0M275.1 372.3h0M261.1 361.7h0M262.4 372.2h0M247.3 349.6h0M241.3 362h0M259.6 380.5h0M252.1 386.1h0M253 358.2h0M271.7 369.5h0M275.7 364.2h0M260.8 369.2h0M256.1 370h0M238.6 356.6h0M267.5 375.2h0M261.7 367.9h0M239.8 371.9h0M277 374.5h0M267.6 382.1h0M233.4 364.6h0M263.3 362h0M252.8 385.2h0M243.5 372.7h0M229.9 361.2h0M247.5 362.5h0M249 349.9h0M241.8 382.7h0M239.4 377.4h0M267.7 359.4h0M273 360.2h0M232.6 375.5h0M276.5 367.7h0M265.5 381.9h0M257.6 363.5h0M270.1 361.6h0M229.6 361.6h0M247 356.7h0M282.3 374.9h0M266.1 356.8h0M247.4 358.9h0M228.4 359.6h0M237.2 362.2h0M265.9 379.5h0M267.9 355.8h0M226 364.8h0M243.8 363h0M267.9 383.5h0M238.2 357.9h0M255.3 378.9h0M255.3 357.6h0M284.2 371.2h0M275.4 381h0M259.4 381.2h0M239.9 374.2h0M275 354.4h0M257.2 368.1h0M248.5 366.8h0M274.3 370.9h0M237.2 377.7h0M253.4 369.1h0M260.3 374.5h0M246 368.6h0M246.1 375.4h0M253.1 375.4h0M231.8 376.7h0M238.1 337.3h0M281.1 380.1h0M243.4 370.2h0M277.6 383.4h0M265.1 341.8h0M258.2 313.5h0M245.2 344.3h0M248.4 351.6h0M265 350.2h0M250.1 385.6h0M246.4 333.5h0M270.9 362.8h0M227.1 329.3h0M254.4 358.5h0M282.8 353.7h0M274.4 338.3h0M248.9 367.8h0M292 349.7h0M241.2 330.3h0M241.2 333h0M235.8 322.4h0M290.8 350.2h0M255.2 370.9h0M266.9 350.9h0M234.1 387.3h0M274.8 366.6h0M279.1 338.3h0M275.3 367.5h0M214.2 357.6h0M265.9 329.4h0M245.9 386.3h0M246.4 323.6h0M244.6 343.2h0M241.2 325.4h0M274.7 382h0M243.1 324.1h0M266.1 330.8h0M256.2 357h0M286.1 343.8h0M277.1 344.5h0M242 372.6h0M276.5 345.3h0M277.1 342.2h0M270.1 367.5h0M251.1 330.4h0M279.7 345.7h0M256 344.3h0M265.4 366.1h0M228.7 366.5h0M215.6 337.3h0M233 370.9h0M228.4 371.6h0M284.6 373.5h0M289.7 353.6h0M239.8 383.7h0M222.7 366.6h0M223.5 337.3h0M269.6 347.2h0M265.1 359.8h0M246.3 359.7h0M260.8 343.1h0M267.1 324.1h0M277 372.2h0M248.4 345.1h0M284.5 371.5h0M278.3 343.1h0M250.1 381.3h0M243.1 345.3h0M213.7 358.8h0M240.1 351.2h0M256.3 369.9h0M233.9 373.2h0M246 379.6h0M229.1 332.6h0M216.1 370.1h0M245.4 347.9h0M218.4 344.5h0M238.1 329.3h0M289.4 346.5h0M218.4 345.2h0M215.7 341.6h0M222.6 327.6h0M216.5 341.6h0M239 359.7h0M252.8 381.3h0M216 344h0M252.9 387.2h0M230.2 319.6h0M272.5 335.1h0M253.2 348.4h0M260.1 318.8h0M257.1 372.5h0M285.3 358.8h0M254.7 360.5h0M310.7 323h0M280.9 331.5h0M289.8 336h0M300.2 318.1h0M300.3 340.1h0M285 331.7h0M266.4 331.6h0M321.5 339.1h0M303.5 323h0M290.4 327.2h0M304 341.5h0M285.5 333.5h0M282.6 343.1h0M330.8 326.8h0M291 329.5h0M323.4 328.4h0M298.8 319.3h0M303.3 321.2h0M289.3 337h0M301.1 329h0M281.3 340.2h0M299.1 329.3h0M387.2 294.4h0M329.4 334.9h0M325.9 345.5h0M320.7 349.3h0M312.8 355.8h0M305 352.5h0M310.2 363.3h0M306.4 368.8h0M294.5 368h0M301.9 393.8h0M285.8 395.1h0M281.5 389.4h0M263.2 390.8h0M235.3 387.7h0M773.1 503.8h0M709.3 526.2h0M717.6 533.5h0M765 415.5h0"/>
<path stroke="#d62728" d="M616.8 706.8h0M583.1 718.3h0M614.8 729.9h0M639.6 720.8h0M624 703.3h0M623.8 722.1h0M594.5 741.3h0M609.6 706.8h0M615 728.8h0M609.3 693.2h0M617.1 741.3h0M606.8 708.8h0M602.5 713h0M607.1 743.8h0M600.1 735.9h0M593 741.5h0M587.9 718h0M612.2 714h0M595.9 720.1h0M590.2 733.5h0M588.8 739.6h0M628.5 735.2h0M594.6 710.4h0M585.8 726.3h0M625.4 699.1h0M578.5 726h0M633.8 703.7h0M582.4 735.6h0M582.5 725.1h0M625.4 734.4h0M607.4 701.9h0M637.6 713.3h0M621.4 730.4h0M605.1 727.1h0M617.1 695.1h0M595.6 716.3h0M603.8 738.4h0M628.4 700.3h0M614.6 698.1h0M632.6 714.5h0M616.6 742.8h0M598 709.5h0M619.1 701.5h0M598.8 698.5h0M626.9 694.5h0M620.5 723.4h0M612.4 717.5h0M581.2 736.2h0M634.2 718.5h0M591.1 709.2h0M631.3 698h0M581.3 740.5h0M587.3 717.8h0M594 734.3h0M624.8 730.3h0M625.2 724h0M597.3 705.1h0M617.7 708.5h0M591.9 742.5h0M625.3 726.2h0M615.8 693.4h0M611.8 741.9h0M604.1 701.5h0M596.1 713.3h0M606.5 721.6h0M589.8 723.6h0M591.4 741.9h0M628.6 726h0M618.7 738.6h0M597.4 718.8h0M605.8 696.4h0M639.9 723h0M609.5 721.7h0M618.5 715.9h0M637.5 706.6h0M625.7 722.9h0M596.6 732.4h0M638.9 717.2h0M575 729.2h0M578.1 708.3h0M590.6 722.4h0M590.6 706.1h0M611.3 725.1h0M624.4 703.8h0M603.3 695.6h0M618 729.3h0M585.9 731.4h0M635 712.7h0M609.2 712.7h0M618.3 707h0M586.8 723.2h0M592.3 744h0M609.3 696.9h0M595.8 739.3h0M623 717.4h0M584.6 704.7h0M596.4 729.1h0M636.5 709h0M590 723.4h0M637 726.9h0M606.9 713.7h0M616.3 713.9h0M635.5 727.4h0M604.2 729.1h0M582.1 729h0M597.4 707.1h0M594 703.9h0M584.1 711.7h0M617.9 701.8h0M599.6 702.9h0M636.6 712.7h0M619.6 712.9h0M614.5 696.8h0M603.6 716.5h0M606.4 695.7h0M612.2 702.5h0M635.4 716.6h0M596.9 715.1h0M634.3 730.9h0M613.1 743.1h0M613.9 693.8h0M575.6 721.9h0M604.3 742h0M609.3 721.2h0M585.4 728.5h0M620.5 721.8h0M602.2 724.9h0M619.4 697.5h0M589.3 744.5h0M572.6 727.3h0M624.9 708h0M599.8 730.6h0M608.4 738.9h0M598.5 726.3h0M588.2 740.9h0M636.4 703.1h0M633.6 712.2h0M631.8 731.7h0M606.7 708h0M639 709h0M591.8 729.6h0M593.9 705.4h0M640.4 717.3h0M602.3 737.6h0M608.5 742.3h0M592.1 723h0M601.3 717.3h0M601.6 694.3h0M638.2 723.8h0M615.3 740.2h0M602.8 701.8h0M615.1 707.6h0M605.6 723.7h0M639 717.6h0M633.6 730h0M607.5 706.7h0M630.1 727.5h0M617.6 733.9h0M620.5 731.8h0M590.1 733.9h0M587.8 710.5h0M613.3 721.6h0M592.8 725.7h0M619.4 709.6h0M586.4 726.2h0M587.1 726.7h0M595.5 695.8h0M573.6 720.7h0M583.1 734.8h0M613.9 703.5h0M627.3 727.8h0M618.4 732.8h0M626.4 711.5h0M611.6 742.5h0M636.5 720.6h0M627.3 731.9h0M624.1 708h0M619.8 730h0M586.9 722.4h0M597.7 699.9h0M636.6 713.1h0M607.9 742.5h0M598.8 701.7h0M608.4 732.4h0M594.1 742.3h0M580.2 719.9h0M610.2 692.6h0M603.5 734.8h0M616.1 724.7h0M638.8 712.8h0M607.1 719.8h0M598.3 713.2h0M626.1 702h0M579 727.7h0M619.7 725.1h0M602.3 717.7h0M630.6 722.6h0M632.6 728.1h0M635 730.7h0M621.2 708h0M591.1 714.4h0M635.6 710.9h0M631.2 701h0M596.3 731.3h0M614.2 723.7h0M596.6 710.9h0M590.8 723.2h0M586.5 712.1h0M595.2 726.8h0M610.4 724.3h0M640.8 708.9h0M588 707.6h0M603.4 720.5h0M584.3 736.3h0M595.1 715.6h0M586.5 725.8h0M625.4 703.2h0M596.8 699.5h0M633.7 698.6h0M612.4 729.9h0M601.9 717.4h0M617 709.5h0M604.8 705h0M597.9 729.5h0M600.8 704h0M585.9 717.2h0M604.8 745.1h0M596.6 695.9h0M627.6 722.4h0M625.7 722h0M624.8 737.3h0M628.8 730.2h0M623.6 695h0M614.6 733.4h0M610.9 717.1h0M625.1 717h0M621.2 719.5h0M586.8 735.6h0M584.4 712.1h0M598.4 715.8h0M634.7 725.7h0M578.6 724.2h0M620.1 730.1h0M613.1 734.4h0M612.6 735.2h0M610 740h0M618.5 701.7h0M610.5 693.5h0M627.1 729.9h0M595 708.6h0M617.6 739.2h0M632.8 712.7h0M620.8 718.9h0M600.9 699.2h0M586 702.7h0M584 723.1h0M628.7 726.7h0M607.7 712.5h0M599.9 721h0M590.9 718.3h0M613.8 692.6h0M606 726.8h0M604 733.4h0M632.6 723.8h0M597.3 744.3h0M612.8 692.5h0M583.5 711.6h0M607.9 723.7h0M608.7 735.6h0M582 706.2h0M613.8 705.1h0M605.6 720.3h0M639.8 708.5h0M634.9 701.6h0M623.8 698.1h0M596.1 715.1h0M636.3 715.3h0M597.4 724.8h0M606.3 731.5h0M611.3 719.4h0M596.7 728.9h0M574.6 728.2h0M577.5 727.3h0M608.1 740.3h0M613.6 737.5h0M609.6 707.3h0M615.2 720.9h0M590.5 722h0M574.9 720.7h0M622.5 731h0M615.1 717.3h0M589.8 724.4h0M584.3 722h0M616.9 724.5h0M617.1 716h0M583.4 724.3h0M639.5 711.3h0M595.5 728.8h0M604.7 702.6h0M618 695.4h0M582.4 717.1h0M582.1 714.2h0M630.4 728.8h0M576.2 728.3h0M609 723.8h0M613.2 699.1h0M601.7 725.4h0M596.1 715.4h0M605.8 714h0M596 726.6h0M633 700.2h0M593.8 721.5h0M607.4 722.2h0M614.2 706.7h0M586.5 705h0M631.5 712.6h0M611.5 737.1h0M601.9 698.9h0M593.8 711h0M578.1 731.6h0M627.5 706.7h0M600.9 733.1h0M598.1 709.5h0M593.3 745.3h0M610.4 741.7h0M618.6 734.5h0M630 721.6h0M629.6 726.4h0M609.9 721.2h0M606.3 725.9h0M631.4 705.4h0M627.6 730.6h0M579.7 737h0M621.9 733.8h0M584.3 737h0M632.7 714.5h0M608.8 734.8h0M611.8 735.2h0M572.7 724.7h0M640.4 710h0M620.4 707.1h0M632.4 712.8h0M641.9 704.2h0M643.2 693.2h0M650.1 698.3h0M627.2 708.7h0M623.9 722.6h0M631 689.6h0M616.3 704.1h0M626.4 709.3h0M646.5 707.3h0M636.3 692.9h0M650.1 707.9h0M605.7 707.4h0M625.3 698.3h0M646.8 702h0M629.3 692.7h0M603.1 704.9h0M618.8 699.5h0M627.5 707.7h0M624.5 703.5h0M630.7 702.7h0M644.8 690.8h0M630.5 691.2h0M649.1 703.5h0M644.8 699.3h0M626.5 693h0M639.9 712.7h0M622.8 710.7h0M621 705.5h0M641.8 697.7h0M655.2 694.9h0M638.4 694.9h0M624.3 702.1h0M643.4 714.4h0M628.5 692.2h0M620 694.6h0M638.3 701h0M617.1 705h0M645.4 702.4h0M564.2 742.2h0M601.3 762.6h0M652.4 671.6h0M641.3 688.7h0M636.6 693h0M657.1 701.3h0M655.2 704.1h0"/>
<path stroke="#ff9896" d="M636.6 775.7h0M671 762.6h0M647.5 783.3h0M649.8 765.3h0M660.6 773.2h0M674.1 780h0M647.8 781h0M639.5 770.6h0M658.9 751.4h0M646.1 771.4h0M666.2 749.2h0M674.4 761.5h0M679.9 776.1h0M651.2 750h0M657.4 780.1h0M658.2 767.6h0M680.1 776h0M636.1 756.2h0M666.9 760.4h0M646.3 783.9h0M657.2 763.3h0M668.5 752.3h0M634.4 775.2h0M652.2 785h0M662.1 769.2h0M683.9 758.9h0M648.8 781.6h0M646.3 751.7h0M637.5 768.6h0M666.2 760h0M648.2 780.3h0M672.8 753.9h0M671.2 762.1h0M670.1 755.8h0M647.1 782h0M651 782.7h0M644 771.8h0M664 751.7h0M643.3 752.6h0M658.3 784.4h0M652 768h0M660.2 777h0M664.2 758.6h0M671.8 757.8h0M652.5 773.4h0M669.4 765h0M634.1 766.1h0M644.3 774.3h0M672.1 769h0M653.9 772.7h0M668.9 758.7h0M654 750.4h0M679.1 760.7h0M684.5 770.3h0M665.4 750.8h0M630.8 763h0M663.3 765.9h0M659.8 751.3h0M647.1 766.1h0M651.6 760h0M666 765.9h0M680.3 775.4h0M660.5 770.3h0M640.9 774.2h0M655.1 774h0M635.6 761.2h0M646.5 760.9h0M656.2 763.2h0M686.9 768.1h0M667.8 760.6h0M665.5 777.9h0M668.6 770.9h0M663.5 759.6h0M662.3 779.1h0M658.3 770.5h0M658.1 768.3h0M662.3 781h0M652.4 756.9h0M671.2 783.7h0M678.7 753.6h0M657.1 766.6h0M662 752.7h0M670.7 762.1h0M664.9 764.6h0M640.2 756.7h0M654.3 755.9h0M658.4 776.3h0M649.1 777.8h0M648.4 767h0M646.2 779.6h0M643.2 768.1h0M632.4 773.1h0M637.2 769.4h0M637.7 776.5h0M667 784.7h0M657 762.1h0M663.1 783.5h0M667.4 777.4h0M661.7 779.6h0M638.2 763.6h0M680.9 769.7h0M644.8 752.4h0M655.1 774.2h0M652.9 780.9h0M646.3 753.8h0M661.9 756.3h0M665.1 771.5h0M643 752.4h0M664.7 767.3h0M681.3 766.3h0M664.3 780.8h0M639.7 774.6h0M632.8 773.4h0M649.3 784.6h0M666.2 760.2h0M683 766.4h0M671.3 781.7h0M673.7 775.7h0M660.5 782.6h0M656.5 768.7h0M677.4 767h0M646.9 775.7h0M636.6 759.7h0M664.7 775.7h0M654.7 784.9h0M637.5 773.9h0M636 772.6h0M633.1 760.1h0M672.7 776.6h0M640 763h0M658.1 765.4h0M666.6 767h0M633.5 767h0M680.2 763.1h0M636 772.8h0M673.4 759.6h0M657.4 760.2h0M653.3 771.3h0M685.2 773.3h0M652 782.4h0M667.3 770.7h0M648 773.3h0M659.3 759.7h0M644.1 764.2h0M637.7 762.8h0M663.9 755.7h0M669.2 751.2h0M659.6 763h0M658.7 764h0M640.4 778.4h0M651.2 783.5h0M636.2 765.2h0M664.3 774.7h0M678.9 773h0M662.2 771.5h0M649.8 755.1h0M675.4 761.3h0M655.2 763.1h0M654.3 751h0M683.6 775.4h0M653.3 771.9h0M640.5 754.2h0M652.6 767.5h0M649.8 781.7h0M683 760h0M660.6 780.1h0M647.6 751.8h0M631.5 770.2h0M679.5 764.2h0M680.9 767.2h0M645.5 751.1h0M667.2 759.2h0M663 751.3h0M682.6 770.1h0M649 780.7h0M636 768.5h0M647.3 771.3h0M664.3 784.6h0M680.6 770.8h0M645.7 761.5h0M670.3 764.8h0M634.8 765.2h0M658.3 769.1h0M669.5 778.5h0M670.4 764.3h0M680.4 755.5h0M679.9 775h0M667.4 756.1h0M652.3 753.2h0M651.9 778.9h0M652.6 766h0M648.3 776.5h0M644.6 778.1h0M639.8 763.5h0M669.5 749.9h0M652.1 777h0M674 776.2h0M672.6 760.4h0M649.7 783.7h0M665.4 784.6h0M669.5 756.4h0M647.8 768.9h0M668.8 756.7h0M684.7 765.8h0M667.5 776.5h0M653.8 749.2h0M639.3 777.8h0M651.4 770.7h0M645.4 777h0M632.2 765.5h0M657.4 748.7h0M663.8 771.8h0M652.2 770.1h0M664.4 779.4h0M671.7 777.3h0M671.5 770.7h0M683.1 758.4h0M651.3 773.7h0M635.2 767.9h0M665.6 782.7h0M654.9 767.6h0M664.5 767.1h0M638.1 762.2h0M657.9 772.6h0M649.7 771h0M678.6 778.8h0M655.7 754.8h0M675.6 769.9h0M685.3 773h0M671.9 758.3h0M651.9 760.4h0M643 772.8h0M650.6 755.4h0M633.1 767.5h0M650.3 783.2h0M667.3 772.7h0M644 774h0M664.3 749h0M668 772.4h0M670.1 770h0M669.7 757.6h0M678.8 725.2h0M658.9 746.4h0M653 748.1h0M639.4 751.4h0M678.9 744.1h0M653.5 757.2h0M672.6 753.3h0M666.9 731h0M649.7 730.6h0M679.8 744.5h0M671.5 731h0M641.7 722.5h0M653.1 757.3h0M633.5 738.4h0M689.7 728.4h0M680.8 741.1h0M662.6 744.4h0M688.6 747.6h0M688.4 729.7h0M655.7 749.3h0M671.2 729.1h0M641.6 752.8h0M667.8 726.1h0M651.7 742.4h0M647 742.8h0M635.4 742h0M637.3 732.2h0M648.2 739.2h0M661.3 746.6h0M680.2 745.4h0M681.3 743.4h0M658.2 734.3h0M669.6 733.8h0M683.8 724.8h0M644.1 729.6h0M663.2 737.9h0M636.3 730h0M644.2 726.6h0M686.1 730.3h0M643.3 723.9h0M665.9 745.8h0M647.8 726.5h0M656.2 747.9h0M665.8 723.1h0M649.3 735.6h0M689.9 730h0M657.6 718.2h0M646.2 725h0M676.7 751h0M693.2 736.2h0M672.5 754.6h0M668 724.3h0M673.4 728.4h0M666.1 755.3h0M685.3 746.5h0M688 746.8h0M672.7 758.3h0M674.4 754h0M679.8 754.6h0M681.2 731.7h0M687.5 745.7h0M658.4 744.2h0M676.3 755.3h0M664.9 730.9h0M673.1 741.8h0M637.8 736.5h0M641.9 731.2h0M651.1 753.8h0M658.1 745.7h0M673.8 720.4h0M648.6 727.4h0M685.5 727.3h0M693.3 738h0M673.6 740.5h0M619.7 733.2h0M611.4 720.8h0M638.6 710.3h0M647.5 715.5h0M644 719.5h0M638.3 720.9h0M641.8 728.8h0M633.5 719.1h0M635.7 731.6h0M640.8 727.2h0M630.4 728.9h0M621.9 721.6h0M611.4 715h0M630.3 707.8h0M620.4 731.3h0M637 732.9h0M643.7 728.5h0M640.1 725.1h0M645 706.9h0M630.4 732.5h0M640.6 722.9h0M628.9 730.6h0M630.5 711h0M643.8 718.4h0M634 706h0M571.2 750h0M610.6 708.7h0M603.2 729.2h0M658 692h0M640.3 789.6h0M653.3 788.6h0M744.2 470.3h0"/>
<path stroke="#9467bd" d="M151.7 649.4h0M169.9 648.7h0M227.2 638.6h0M167 627h0M116.8 651.3h0M122.8 636.9h0M161.3 632h0M204.6 647h0M169 642h0M121.9 654.3h0M149.1 634.5h0M117.4 642.6h0M177.3 639.5h0M186.7 635.1h0M147.3 652.6h0M179.4 622.6h0M231 618.2h0M205.7 615.1h0M133.9 643.9h0M155.1 652.7h0M120.8 654.6h0M142.8 651.6h0M182.4 630.2h0M253.5 614.6h0M211.3 614.7h0M172.6 639h0M180.7 632.7h0M154.9 634.7h0M170.1 647h0M255 619.6h0M213.7 632.4h0M203.6 634.9h0M167.2 636.8h0M193.1 649.3h0M208.3 643.2h0M133.2 652.2h0M192.6 637.6h0M103 654.6h0M136.6 652h0M167.7 641.5h0M158.9 630.3h0M161.1 648.5h0M191.4 644.6h0M143.5 656.7h0M180.7 638.1h0M221.1 623.5h0M188.8 640h0M203 637.6h0M224.7 628.8h0M178.8 640.6h0M147.8 625.5h0M152.4 645.2h0M197.7 631.9h0M209.2 637.6h0M213.5 627.2h0M181.7 634.3h0M152.7 658h0M136.3 648.7h0M182 616.2h0M204.3 626.5h0M186.4 631.9h0M126.9 653.9h0M185.6 644.5h0M191.8 617.7h0M219.6 632.9h0M207.3 633.5h0M156.5 648.6h0M168.6 629.7h0M171.4 652.8h0M231.2 625.2h0M164.2 648.1h0M144.8 636h0M211.3 623h0M198 631.8h0M208.7 629.6h0M110.4 663.2h0M165.4 649.3h0M187 648.1h0M163.6 622.3h0M169.8 644.6h0M166.6 636.3h0M230.2 621h0M216.4 627.8h0M127.2 643.2h0M169.4 642.7h0M147.9 632.8h0M143.1 642.5h0M147.4 640.7h0M244.6 620.9h0M151.1 645h0M235.6 626.9h0M172.5 626.2h0M119.7 650.9h0M171.7 624h0M132.9 649.9h0M178.9 642.3h0M192.8 642.4h0M236.1 629.1h0M175.4 658h0M240 628.4h0M152.3 648.5h0M106.2 654.9h0M215.2 626.9h0M235.6 620.9h0M182.5 633.3h0M198.1 631.4h0M225.5 639h0M190 623.5h0M202.7 643.1h0M203.3 633h0M215.9 639h0M208.1 633.4h0M161.5 644.4h0M197.5 618h0M206.3 630.1h0M232.7 628.2h0M174.3 639.1h0M202.8 631.8h0M197.4 625.3h0M135.6 644.4h0M128.8 644.4h0M188.5 619.3h0M139.5 655.5h0M161.9 642.1h0M134.8 640.2h0M173.8 654.1h0M191.4 618h0M198 640.5h0M201.1 619.5h0M183.2 656h0M148.7 649.1h0M151.1 633.4h0M167.8 650.1h0M218.2 617.8h0M161.7 633.9h0M109.9 662.8h0M237.9 634.4h0M167.5 653h0M217.3 623.2h0M179.3 633.8h0M193.2 650.2h0M145.5 635.8h0M210.9 628.8h0M112.6 646.9h0M150.5 639.9h0M194.3 642.3h0M175.5 639.8h0M157.5 653.1h0M226.6 621.3h0M160.3 662.2h0M210.7 620h0M121.6 651.1h0M221 620.3h0M171.2 635.1h0M207 642.5h0M136.7 646.9h0M172.6 633.5h0M141.7 655.9h0M188.3 641.6h0M232.7 618.7h0M198.9 628h0M178.9 640.7h0M171.8 625.4h0M233.8 623.2h0M182 642.8h0M219 636.5h0M169.7 646.3h0M128.2 653.5h0M211.5 622.5h0M176 639.4h0M189.8 648.4h0M147.2 659.2h0M136.4 643.5h0M154.2 643.8h0M165.3 646h0M187.2 655.8h0M194.1 630.9h0M195.8 638.3h0M172 629.1h0M153.9 646.4h0M211.4 632.8h0M179.7 642.6h0M164.9 644h0M233.3 632.4h0M227.4 620.2h0M185.9 626.1h0M212 624.1h0M134.3 645.7h0M184.5 615.3h0M134.6 659.5h0M184.4 635.5h0M129.4 666.6h0M218.5 632.8h0M144.1 652.9h0M219.9 622.7h0M171.3 635.3h0M201.3 628.9h0M166.5 627.5h0M125.9 661.5h0M237.7 628.7h0M228.8 618.1h0M180.2 640.6h0M179.4 653h0M133.6 645.1h0M167.1 634.2h0M205.2 611.3h0M222.5 633.4h0M195.4 645.8h0M207.3 633.1h0M198 627.4h0M157.8 649.3h0M165.6 650.1h0M207.9 625.1h0M194.3 634h0M179.6 648.1h0M183.6 638.5h0M116 661.3h0M131 647.8h0M165.1 629.9h0M194.6 629.5h0M190.2 621.9h0M224.3 639.2h0M129.9 644.5h0M159.6 650.1h0M114.4 658.2h0M172 632.3h0M201.4 613h0M132.6 643.7h0M205.6 626.8h0M154.5 649.2h0M163.8 636.1h0M172.4 642.8h0M191.4 632.8h0M177 652.6h0M210.8 635h0M164.7 634h0M192 631.5h0M164.4 648.3h0M139.2 642.5h0M209.8 628.3h0M225.9 621.8h0M226.5 623.2h0M236.3 638.2h0M223 645.7h0M221.3 624.1h0M239.4 633.9h0M234.4 631.9h0M233.6 621.8h0M197.2 616.4h0M227.6 610.9h0M189.5 616.3h0M219.7 634.9h0M204.1 638.4h0M221.1 642.6h0M230.5 623.7h0M219.3 628.9h0M223.3 632.6h0M216.8 637.7h0M217.3 637.9h0M216.9 629h0M230.2 640.1h0M235 636.9h0M213.3 632.5h0M218.8 613.1h0M199.7 645.9h0M214.7 632.2h0M233.3 638.7h0M213.6 635.4h0M229 635.4h0M206.4 632.5h0M218.4 633.5h0M200.8 633.2h0M216.4 632.9h0M219.3 616.2h0M229.1 638h0M196.1 629.5h0M203.5 625.9h0M231.1 635.7h0M245.7 631.3h0M199.3 631.5h0M219.8 634.7h0M218 621.7h0M213.9 622.3h0M208 633.3h0M197.5 646.3h0M199.4 638.2h0M205.7 617.4h0M220.9 631.4h0M211.6 629h0M205.6 633.8h0M207.6 629.7h0M231.3 616.3h0M206.1 622.6h0M202.6 615.9h0M210.3 630.8h0M212.7 613.3h0M224.4 636.2h0M215.3 619.2h0M201.4 648.5h0M239.8 633.8h0M151 604.5h0M159.3 601.7h0M222.5 645.3h0M221.6 656.5h0M233.6 648.1h0M242.9 652.8h0M137 681.6h0M218.8 604.1h0M226.2 602.6h0M591.7 742.7h0"/>
<path stroke="#c5b0d5" d="M288 647.7h0M269.5 640h0M271.2 624.9h0M261.9 645.1h0M267.5 625.1h0M277.5 629h0M277.5 625.6h0M272.9 646.4h0M286.1 630.6h0M261.2 634.7h0M277.8 654.6h0M273.6 631.2h0M270.8 646h0M265.8 648.7h0M257.8 647.3h0M252.9 639.4h0M277.1 650.8h0M277.1 632h0M278.8 624.3h0M265.6 654.4h0M283.1 637.8h0M285 645.2h0M277.4 645.9h0M272.3 627.8h0M271.5 650.9h0M273.3 648h0M276 640.7h0M267 647h0M286 647.2h0M260.4 628.2h0M283.1 640.4h0M254.7 646.5h0M276.2 635.7h0M256.3 634h0M263.1 653.6h0M274.3 642.6h0M287.8 635.3h0M287.4 641.8h0M258.5 640h0M262.3 649h0M272.7 626.7h0M260.3 633.5h0M274.6 638.6h0M282.4 636.6h0M268.5 623.6h0M257.7 641.9h0M262.4 638.2h0M286.7 631.7h0M270 628.8h0M270.9 632.9h0M284.3 635h0M265.9 644.9h0M278.1 627.8h0M271.4 625.5h0M265.3 644.9h0M271.3 630.5h0M282.1 648.4h0M279.2 640.9h0M283 628.5h0M286.8 637.8h0M264.3 642.8h0M260.1 648.6h0M273 653.1h0M281.2 636h0M270 654.3h0M263.7 631h0M275.9 629.4h0M260.1 643.1h0M284.5 636.5h0M270.7 640.3h0M273.4 626.6h0M272.3 645.5h0M262.6 640.9h0M265.6 624.8h0M270.8 648h0M278.3 628h0M279.3 636.9h0M266.4 657.4h0M252.2 640.7h0M281.3 641h0M256.1 649.7h0M256.2 630.2h0M275.2 646.4h0M282 638.5h0M274.4 646.4h0M262.6 639.7h0M284.3 640.7h0M267.1 651.8h0M275.1 629h0M264.5 644h0M279.4 630h0M278.8 624.2h0M261.1 644.1h0M279.6 652.2h0M274.1 632.5h0M285.3 632.7h0M271.5 653.3h0M287.1 647.8h0M273.6 636.3h0M259.3 631h0M270.3 651.2h0M276.2 649.2h0M260.6 640.2h0M287.1 632.5h0M275.4 647.3h0M268.4 626.2h0M271 642.4h0M255.4 630.4h0M255.2 645.4h0M256.8 634.1h0M279.7 649.4h0M278.1 632.2h0M283 638.9h0M255.9 640.3h0M260.2 647.1h0M275.5 623.6h0M276 648.4h0M286.8 647.1h0M268.9 630.9h0M264.7 638.2h0M266.9 635.7h0M280 641.6h0M282.8 627h0M262.7 626.2h0M283.2 649.8h0M265.7 632h0M279.1 639h0M270.5 650.3h0M285.3 635h0M277.8 638.3h0M278.3 629.4h0M260.1 640.7h0M255.6 645.1h0M261.4 650.8h0M272.5 633.8h0M276.8 647.7h0M254.5 636.7h0M254 635.1h0M282.9 634.8h0M285.4 631.2h0M263 640.8h0M261.6 633.7h0M267 626.4h0M268.5 639.3h0M268.2 652.4h0M280.4 653.9h0M263.6 637.1h0M269.5 640.6h0M269.1 654.1h0M262.5 651.9h0M279.4 642.2h0M261.3 636.7h0M280.4 644.6h0M274.8 642.8h0M273.2 624.8h0M277.3 644.9h0M265.8 625.2h0M256 640.9h0M271.2 645.2h0M256.4 633.4h0M264.5 639.1h0M283.8 632.4h0M275.5 639h0M257.2 642.9h0M263 648.7h0M259.6 633.5h0M283.3 650h0M255.2 637.4h0M273.8 641.9h0M269.9 646.6h0M272 622.2h0M272.5 628.6h0M254.1 642.3h0M284.3 637.1h0M280.5 652.7h0M249.6 629.6h0M259.1 637.1h0M245 639.3h0M238.9 637h0M247.5 636.4h0M232.5 638h0M242.6 626.6h0M248.9 636.9h0M248.4 653.7h0M245.1 646.9h0M239 637.3h0M227.5 641.1h0M244.8 654.8h0M245.9 651.9h0M240.5 634.5h0M243.2 639.9h0M233.6 650.9h0M244 637.4h0M244.2 641.5h0M247.6 655.4h0M252.2 661.1h0M277.3 662.1h0M242.9 640.7h0M239.2 632.3h0"/>
<path stroke="#8c564b" d="M531.9 336.6h0M538.1 331.3h0M587.6 328.2h0M578.6 315.1h0M535.5 329.3h0M604.2 333.2h0M575.7 325.8h0M563.6 322.1h0M598.3 319.4h0M550.3 316.5h0M549.1 332.4h0M578.9 311.5h0M542.8 348h0M558.9 333.4h0M547.4 345.4h0M558.3 341.7h0M584.4 326h0M549.6 332.2h0M543.3 332.8h0M566.5 331.9h0M553.8 345.8h0M575.1 341.7h0M594.3 323.7h0M563.2 313.2h0M524.8 337.8h0M544.3 326h0M581.9 320h0M547.1 343.4h0M565.7 341.9h0M527 337.8h0M547.5 335.2h0M576.7 323.8h0M573.5 328.4h0M580.5 323.1h0M565 325.7h0M526 332.2h0M588.9 341.5h0M600.7 320.3h0M595.7 312.1h0M534.4 332h0M569.1 314.3h0M583.2 324.3h0M563.2 339.9h0M537.2 327.5h0M610.3 320.6h0M575 338.8h0M588.9 337.7h0M591.7 324.3h0M585.9 321.2h0M603.6 329.7h0M529.9 326.1h0M540.1 318.7h0M561.3 317.4h0M565.3 328.9h0M548.3 329.1h0M540 324.2h0M535.8 321.7h0M584 331.9h0M591.2 342.7h0M562.3 348.3h0M580.9 326.4h0M527.2 339h0M542.4 324h0M611.3 321.5h0M601.4 335.2h0M585.1 342.6h0M563.6 348.2h0M604.1 317.8h0M562.9 319.4h0M589.8 335.8h0M612.3 332.9h0M581.8 336.6h0M592.8 321.5h0M556.3 334.8h0M586.7 320.2h0M588.4 316h0M588.3 326.1h0M541.5 330.4h0M566.5 344.8h0M542.4 332.4h0M600.1 316.1h0M600.2 322h0M550.6 338.6h0M531.2 336.1h0M578.4 315.8h0M546.9 340.3h0M572 336.8h0M563.8 349.4h0M552.4 333.1h0M573.4 340.9h0M571.5 315.6h0M545.7 317h0M591.5 323.3h0M569 324.3h0M533.7 339h0M590.7 344.4h0M574.3 341.8h0M603.8 313.4h0M552.6 324.4h0M605.4 336.8h0M568.7 330.2h0M572 314.4h0M582.7 311.6h0M581.4 320.6h0M605 316.4h0M535.2 335.9h0M556.5 322.8h0M577.6 330.6h0M548.8 319.6h0M542.8 332.3h0M579.3 342.2h0M570.6 337.8h0M568.3 328.1h0M572.6 334.9h0M551.4 344.8h0M559.8 335.6h0M570.5 320.1h0M584 341.7h0M590.6 331.9h0M584 339.9h0M561.9 319.6h0M609.2 330.4h0M542.8 329.4h0M546.7 332.6h0M539.1 347.3h0M560.5 337.1h0M534.1 330.8h0M604.1 331.3h0M559.6 340.9h0M536.7 342.2h0M596.7 339.5h0M539.1 331.8h0M562 340.6h0M583.2 330.7h0M601.5 338.9h0M550.3 349.2h0M556.8 323.5h0M576.6 319.5h0M533.6 335.8h0M609.5 330h0M535.4 323.4h0M602.3 316.8h0M606.4 330.5h0M550.8 344.4h0M574.5 329.6h0M541.4 327.5h0M601.8 335.8h0M592.1 323.7h0M552.5 337h0M548.3 324.5h0M555.6 343.8h0M568.2 331.6h0M609.9 326.3h0M594.4 315.2h0M568.5 338.5h0M571.3 338.7h0M559.3 337h0M582.8 339.2h0M554.7 349.2h0M566 341.7h0M613.8 321.7h0M582.4 323.2h0M566.7 338.9h0M585.7 316.9h0M586.2 329.6h0M556.9 329.2h0M593.1 315.6h0M576.6 339.6h0M591.9 340.6h0M574.7 321.3h0M555.3 323.7h0M612.9 321.8h0M590.2 339.4h0M579.3 333.7h0M597.7 330.6h0M564.7 335.5h0M580.2 330h0M543.2 324.1h0M582.3 331.4h0M551.1 334.6h0M559 330.9h0M582.3 331.4h0M557.9 320h0M587.3 327.5h0M551.8 338.7h0M540.5 332.3h0M557.3 337.1h0M585.3 327.3h0M579 323.5h0M613.8 321h0M551.1 339.3h0M559.1 342.7h0M609.9 326.8h0M607.2 333.2h0M606.3 321.3h0M531.1 325.7h0M539.4 338.3h0M580.2 334.7h0M602.3 320.5h0M599.6 329.4h0M543.3 319.4h0M552 327.1h0M563.7 315.4h0M569.7 328.5h0M556.2 321.6h0M545 329.5h0M558.6 333.5h0M581.4 312.3h0M599.8 339.1h0M566.6 339.2h0M575.8 313.7h0M602.4 314.4h0M550.4 320.3h0M596.1 330.2h0M586.7 314.4h0M597.2 324.4h0M537.2 337.5h0M542.5 343.1h0M556.7 339.4h0M539.7 324.2h0M586.9 339.5h0M594.5 337.7h0M593.5 326.6h0M530.3 334.8h0M553.6 331.4h0M543.2 339.5h0M556.8 345.7h0M531.2 348.1h0M544.7 346.6h0M552.2 325.6h0M549.7 342.7h0M546.7 342.8h0M548.2 343.6h0M540.1 339.8h0M552.3 343.1h0M536.3 341.8h0M542 347.6h0M538.3 345.6h0M533.3 338.2h0M533.6 338.5h0M534.2 326.8h0M550.3 341.6h0M543 342.8h0M569.4 340.9h0M540.5 346.9h0M525.3 346h0M535.7 333.5h0M546.3 353.4h0M536.1 347.6h0M549.5 328.9h0M571.4 305.8h0M572 310.6h0M609.7 309.6h0M629.4 312.7h0M610.6 314h0M539.8 367.2h0M567.6 313.6h0M554.2 315.9h0"/>
<path stroke="#c49c94" d="M559.7 355.3h0M560.8 341h0M595.4 365.1h0M560.2 360.7h0M550.7 367.3h0M573.8 365.5h0M591.9 373.6h0M593.9 347.7h0M577.5 351.3h0M550.9 350.4h0M573.8 373.6h0M570.9 352.4h0M557 364.6h0M602.9 357.2h0M555.3 344.3h0M570.2 349.2h0M604.8 353.3h0M595.4 337.5h0M581.4 358.1h0M565.1 373.7h0M598.5 360.4h0M601.2 363.1h0M559.5 359.4h0M584.3 370.9h0M602 362.6h0M552.7 341.9h0M609.1 347.3h0M594.6 338.2h0M613.2 364.1h0M571.3 369.6h0M610.2 361.5h0M546.7 366.9h0M588.7 354.3h0M589.2 374.3h0M574.6 340.9h0M562.4 357.2h0M548.7 354.9h0M593.4 341.5h0M566.7 373.1h0M577 358.2h0M575.2 336h0M591.6 366.6h0M604.3 369.1h0M566.5 361.2h0M555.4 367.3h0M575.4 361.3h0M577.3 372.9h0M599.9 345.2h0M559 364h0M566.5 374.1h0M583.8 342.8h0M582.4 353.3h0M576.1 353.5h0M585.2 356h0M593 365.5h0M543.5 363.8h0M585.7 345.9h0M611.5 353.8h0M587.6 373.4h0M576.8 338.9h0M585.2 373.9h0M565.4 362.5h0M578.2 336.6h0M581 343.5h0M612.3 364.5h0M577.9 359.2h0M589.3 355.5h0M566.6 353.9h0M549.9 348.3h0M577.6 363.4h0M555.2 361.2h0M574.5 372.1h0M595.1 368.6h0M573.8 368h0M544.8 349.7h0M553.7 354.9h0M563.6 355.7h0M562.7 370.3h0M567.5 359.6h0M599.4 344.4h0M590.7 353h0M606.5 344.6h0M578.9 362.4h0M564.8 348.3h0M579.8 347.6h0M564.9 371.3h0M555.1 358.9h0M593.2 345.8h0M570.9 343.5h0M573.7 340.4h0M594 362.1h0M597.3 360.8h0M571.3 347.3h0M566.2 353.6h0M592 371.9h0M614.6 357.6h0M581.3 377.8h0M551.3 341.9h0M570.7 362h0M559.5 342.2h0M583.2 361.3h0M557.8 341.2h0M604.4 369.9h0M598.1 348.1h0M576.5 378.8h0M602.9 357.4h0M586.5 342.1h0M569 367.9h0M549.4 367.6h0M595.1 369.6h0M585.5 371.4h0M558.9 365.1h0M569.7 375.2h0M569.1 356.8h0M574.8 374h0M569.7 359h0M594.1 358.7h0M572.2 356.9h0M556.6 347.9h0M607.6 344.3h0M574.5 347.8h0M588.1 360.1h0M560.4 368.6h0M578.3 354.4h0M573.8 344.9h0M601 361.7h0M587.2 358h0M542.4 357.5h0M556.8 361.2h0M596.4 369.5h0M576.9 363.6h0M556.1 374.5h0M581.4 348.6h0M576.5 371.4h0M581.4 351.6h0M585.4 350.3h0M578.3 364.3h0M591.5 346.6h0M586.7 359.8h0M559.5 366.7h0M600.5 366.4h0M571.2 364.9h0M571.2 375.6h0M578.7 351.7h0M591.8 342.9h0M561 373.9h0M562.6 371.3h0M579.9 356.8h0M582.8 361.5h0M571.1 357.7h0M567.7 353.1h0M563.4 344.1h0M599.2 374.7h0M569 368.6h0M597.9 372.5h0M578.8 346.3h0M572.7 335.5h0M587.8 345.3h0M564 360.8h0M593.2 358h0M587.3 353.1h0M585.5 360.4h0M583.9 377.8h0M609.2 360.5h0M567.6 361.7h0M568.1 341.4h0M600.5 350.8h0M569.5 355.5h0M610.2 368.4h0M590.8 350.4h0M600.8 366.4h0M584.2 369h0M582.8 371.6h0M606.5 342.6h0M550.3 367.2h0M587.6 348.7h0M548.6 350.7h0M553.3 359h0M582 347.3h0M584.7 372.5h0M575.7 366.8h0M606.8 346.6h0M562.6 350.2h0M570.2 361.2h0M553.9 342.3h0M577.9 348.7h0M570.6 339.3h0M542.9 356.3h0M555.3 344h0M581.1 378.3h0M559.6 358.2h0M594.4 348.4h0M603.4 348.2h0M589.6 357.9h0M577 378.8h0M575.8 374.5h0M563.6 372.7h0M568.7 372.4h0M572.9 371.8h0M562.8 358.5h0M578.6 363.4h0M575.8 346.7h0M583.3 357.6h0M606.5 353.1h0M583.6 365h0M606.6 344h0M573.2 351.1h0M593.2 349.2h0M545.9 365h0M564.9 372.1h0M560 348.3h0M588.7 374.4h0M557.8 363.3h0M564.8 354.9h0M604.8 372.2h0M589.2 337.6h0M546.9 361.8h0M559.5 354.8h0M566.7 343.3h0M586 353.6h0M582.1 359.8h0M591.2 376.9h0M594.8 366.6h0M594 354.8h0M547.7 365.1h0M636.5 330.9h0M639.9 338.9h0M618.3 365.1h0M617.3 369.5h0M602 375.8h0M537.9 377.8h0M548.4 380h0M1002.5 444h0"/>
<path stroke="#e377c2" d="M1051.2 383.1h0M1074 400.6h0M1048.7 399h0M1057.3 392.8h0M1056.4 409.7h0M1063.1 396h0M1072.5 402.4h0M1056 396.5h0M1032.3 400.7h0M1072.2 417.8h0M1072.9 396.9h0M1046.7 407.7h0M1068 394.1h0M1065.8 402.9h0M1037 406.4h0M1063.3 392.3h0M1070.1 418.4h0M1072.9 408.4h0M1051.2 409.7h0M1056.8 385.9h0M1036.9 405.3h0M1044.8 387.5h0M1056 391.1h0M1078 413.7h0M1065.4 414.3h0M1049.9 403.1h0M1060 417.3h0M1057.4 397.3h0M1051.4 409.6h0M1048.9 388.9h0M1057.7 398.1h0M1061.1 390h0M1073.3 386.1h0M1050.1 385.2h0M1049.5 405.8h0M1064.8 402.5h0M1046.9 413.6h0M1056.1 387.7h0M1067 400.8h0M1082.2 409.5h0M1060 407.5h0M1071.9 416.1h0M1070 414.3h0M1058.9 403.4h0M1043.4 397.1h0M1038.2 408.1h0M1078.5 401.3h0M1066 402.4h0M1065.7 394.3h0M1043.4 391.2h0M1057.2 404.2h0M1064.7 391.6h0M1078.3 399.5h0M1062.5 401.1h0M1080.8 401.3h0M1074.3 408.7h0M1071.8 416h0M1039.3 407.6h0M1068.1 411.9h0M1056.9 402.7h0M1050.6 392.5h0M1066.7 394.7h0M1056.7 415.5h0M1072.3 391.7h0M1068.8 398.9h0M1054.9 403.1h0M1054.6 383.1h0M1069 417.9h0M1051.2 417h0M1069.6 386.6h0M1067.2 404.6h0M1060.2 394.2h0M1080.5 402.7h0M1060.9 385.3h0M1064 392.3h0M1074.9 407.1h0M1077.8 414.3h0M1049.9 399h0M1040.9 390.4h0M1061.8 381.3h0M1053.9 410.3h0M1083.2 408.8h0M1046.5 402.3h0M1067.9 394.9h0M1053.3 400.2h0M1067.4 407.3h0M1048.1 387.6h0M1046.6 388.8h0M1032.6 396.5h0M1070.9 398.7h0M1065.8 399h0M1074.8 405.6h0M1070.6 390.9h0M1056 397.7h0M1056 383.4h0M1053.3 418.5h0M1066.6 391.6h0M1077.5 402.7h0M1043.7 382.9h0M1074.3 414h0M1049.9 385.7h0M1065.2 398h0M1065.1 394h0M1043.3 394.9h0M1062.1 415.5h0M1063.6 408.1h0M1052.9 396.3h0M1076.3 416h0M1034.6 401h0M1078.5 397.5h0M1037.9 390.7h0M1046.8 415.4h0M1062.6 419h0M1058.5 393h0M1067.9 406.5h0M1072.5 418h0M1046.1 390h0M1066.7 402.5h0M1070.4 414.6h0M1074.2 396h0M1052 390.6h0M1068.7 408.9h0M1068.9 386.4h0M1070.1 396.9h0M1071.6 417.3h0M1048.7 396.5h0M1034.4 397.5h0M1046.4 401.3h0M1045.1 381.6h0M1056.9 397.6h0M1063.4 407.5h0M1054.5 401.1h0M1043.1 384.4h0M1059.7 389.2h0M1048.4 388.8h0M1048.5 393.1h0M1047.5 391.5h0M1083.5 401.3h0M1040.9 387.8h0M1070.6 407.9h0M1058 397.2h0M1054.8 404.9h0M1071.3 395.3h0M1069.2 406.5h0M1064 385.3h0M1037.9 399.3h0M1065.8 396.2h0M1058.6 413.8h0M1064.6 383.7h0M1056.8 403.7h0M1059.5 388.9h0M1048.9 406.2h0M1047.2 415.2h0M1042.7 391.7h0M1038.2 389.9h0M1062.9 417h0M1053.2 381.6h0M1045.2 397.6h0M1037.1 405.3h0M1074.3 413.6h0M1061.2 400.6h0M1064.6 388.2h0M1068.2 415.2h0M1077 395.9h0M1083.1 404.5h0M1046 397.1h0M1036.6 396.7h0M1060.6 384.8h0M1045.6 388.6h0M1038.4 406.6h0M1057.8 411.1h0M1041 388.5h0M1075.6 402.8h0M1071.8 396.6h0M1051.6 406.9h0M1071.9 411.7h0M1081.5 395.7h0M1049 394.5h0M1077.9 413.1h0M1054.5 404.1h0M1074.7 386h0M1072.3 409.1h0M1041.9 401.6h0M1074.6 415.1h0M1065.3 397.8h0M1062.5 403.4h0M1082.2 401.2h0M1048.9 393.8h0M1042.9 400.6h0M1038.7 409.2h0M1058.5 384.4h0M1038.8 389h0M1035.2 408.2h0M1047.5 395.3h0M1042.6 392.3h0M1056.4 401.7h0M1080.8 394.3h0M1067.8 383.4h0M1036.1 402.9h0M1051.8 392.2h0M1037.6 392.2h0M1071 391.3h0M1046.1 408.8h0M1041.2 400h0M1057 398h0M1050.1 403.6h0M1062.7 399.2h0M1038 390.4h0M1036.6 408.3h0M1067 399.5h0M1046.7 383h0M1067.1 396.4h0M1064.6 404.4h0M1055 410h0M1048.8 382.7h0M1062.8 404h0M1065.9 395.7h0M1034.5 401.7h0M1064.7 401h0M1051.8 381.5h0M1073.5 416.4h0M1041.9 407.8h0M1046.4 392.8h0M1046 411.5h0M1066.6 416.3h0M1065.9 397.2h0M1051.4 398.6h0M1047.4 389.7h0M1040.5 391.7h0M1036.1 408.6h0M1067.7 384h0M1058.1 416.3h0M1078.3 391.5h0M1055.1 388.2h0M1080 411.5h0M1055.7 382.3h0M1045 403.5h0M1073.2 391.2h0M1046.6 407.4h0M1064.2 390.4h0M1079.2 413.3h0M1040.7 387.1h0M1070.1 412.6h0M1079.5 391.8h0M1048.3 416.9h0M1061.3 395h0M1059.7 394.5h0M1049.7 418h0M1049.2 403.5h0M1072.6 401.1h0M1038.9 397.7h0M1066.7 407.8h0M1079 389.8h0M1057.7 386.5h0M1059.9 384.7h0M1068.2 418.2h0M1041.9 396.1h0M1048.8 415.5h0M1057.6 379.9h0M1059.7 417.6h0M1077.5 399.3h0M1057.4 417.4h0M1055.7 397.1h0M1032.1 397.6h0M1078.6 398.4h0M1057.3 395.6h0M1041.1 400.3h0M1039 403.2h0M1052.2 407.8h0M1061.5 394h0M990.6 363h0M974.1 385.7h0M996.7 383.6h0M1012.4 402.7h0M1020.2 400.1h0M1000.2 370.5h0M1014.1 376.6h0M1028.9 381.8h0M1032.4 383.6h0M1027.2 413.2h0M1032.4 416.7h0M870 185h0M881 205h0M818 259h0M830.8 286h0"/>
<path stroke="#f7b6d2" d="M570.8 375.3h0M1037.3 435h0M1071.3 437.2h0M1040.3 445.5h0M1027.5 446.7h0M1035.8 427.1h0M1029.5 431.6h0M1059 448.6h0M1058.9 429.2h0M1064.6 434.2h0M1055.5 448.8h0M1045.2 457.9h0M1058.2 430.7h0M1061.4 431.7h0M1040.9 447.3h0M1046 436.4h0M1038.9 450.1h0M1057.8 428.1h0M1035.8 436h0M1027.9 431.9h0M1045.5 443.1h0M1073.9 440h0M1022.5 441.5h0M1052 443.8h0M1067.3 450.3h0M1048.9 453.7h0M1039.7 455.8h0M1038.5 433.3h0M1054.7 433.2h0M1054.6 435.4h0M1049.8 436.5h0M1066.2 446.4h0M1068.8 446.1h0M1042.6 455.7h0M1031 431.7h0M1063.6 455.8h0M1054.7 452h0M1025.2 433.4h0M1042.3 438.7h0M1040.1 456.2h0M1040.8 445.2h0M1049.7 432h0M1049.7 441.1h0M1036.1 447.7h0M1046.2 438.2h0M1025.6 435.7h0M1047.3 431.2h0M1029 432.9h0M1056.9 429.5h0M1062.4 452.3h0M1044.4 446.6h0M1060.3 438.1h0M1075.9 449.3h0M1028.3 440.6h0M1039.3 440.3h0M1038.3 427.6h0M1051.4 429.3h0M1076.5 444.8h0M1041.6 447.9h0M1052.5 437.2h0M1044.8 452.4h0M1054.5 449.5h0M1020.7 439.9h0M1070.8 446.7h0M1042.3 424.9h0M1067.8 438.4h0M1033.2 451.6h0M1073.3 452.3h0M1024.5 432.7h0M1054.8 426h0M1049.9 436.4h0M1044.5 440.2h0M1053.4 437.5h0M1029.6 446.7h0M1045.9 427.6h0M1050.3 451.9h0M1037.4 444h0M1073.8 441.4h0M1039.9 454.5h0M1056.9 453.5h0M1021.2 438.2h0M1040.3 447.4h0M1030.2 431.4h0M1038.9 442h0M1031 440.3h0M1047.2 438.2h0M1049.8 435.8h0M1069.5 438.5h0M1044.1 457h0M1039.3 448.8h0M1036 455.1h0M1036 432.5h0M1059.1 451.6h0M1043.2 428.2h0M1073.9 452.3h0M1036.7 453.3h0M1032.7 450.5h0M1053.2 427.2h0M1060.3 438.1h0M1060.1 453.8h0M1049.7 433.2h0M1067.1 438h0M1060.3 436.2h0M1047.8 453.9h0M1033.3 437.1h0M1034.6 433.2h0M1060.3 456.1h0M1040.7 455.3h0M1035.3 451.8h0M1040.5 430.9h0M1032.2 445.9h0M1051.2 436.8h0M1061.7 452.2h0M1033.1 432.2h0M1029.6 439.7h0M1064.3 434.8h0M1025.9 441.4h0M1037.1 427.9h0M1055.5 437.1h0M1049.5 432.9h0M1075.5 449.8h0M1049.2 443.4h0M1024.4 437.9h0M1036.8 433h0M1028.8 436.7h0M1038.4 432.2h0M1025.8 435.2h0M1051.8 431h0M1044.1 426.5h0M1038.9 444.1h0M1061.3 445.3h0M1057.9 427.8h0M1033.5 428.8h0M1040.3 451.8h0M1034.5 448.9h0M1054.3 447.7h0M1059.8 452.7h0M1041.8 425.3h0M1029.5 434.7h0M1040.7 430.6h0M1035.7 442.4h0M1033.1 436.2h0M1073.5 440.5h0M1031.6 432.6h0M1036.1 445.2h0M1031.5 435.8h0M1040.9 427.5h0M1054.9 444h0M1050.6 445.4h0M1046.2 457.1h0M1064.3 435h0M1037.9 443.1h0M1033.3 452.2h0M1035.1 447.8h0M1046.9 443h0M1041.7 456.2h0M1056.1 453.7h0M1071.8 443.6h0M1057.7 446.4h0M1051.9 433.2h0M1034.9 432.7h0M1020 428.5h0M1018.6 417h0M1025.7 413.7h0M1024.7 415.1h0M1013.2 413.2h0M1037.7 422.6h0M1017.4 421.8h0M1014.2 415.1h0M1018.3 402.7h0M1020.2 424.4h0M1024.7 418.4h0M1032.7 411.5h0M1033.2 429.8h0M1024 435.4h0M1013.8 422.4h0M1020.4 412.1h0M1018.6 424h0M1026 426.3h0M1015.2 418.9h0M1020.7 413.2h0M1021.8 398.3h0M1010.1 414.8h0M1018.1 426.4h0M1016.2 436.9h0M1012.3 408.3h0M1014.3 413.5h0M1018.8 415.1h0M1026.4 427.6h0M1011.1 432.2h0M1024.3 419.8h0M907.3 410.6h0M1011.5 430.6h0M1015.9 441.1h0M1020.2 434.1h0M795 419.8h0M907.4 410.2h0"/>
<path stroke="#7f7f7f" d="M694.2 129.2h0M685.1 128.9h0M687.7 152.8h0M694.7 152.9h0M667.9 156.1h0M682.3 144.1h0M689.6 140.5h0M673.2 143.3h0M698.4 134.8h0M669.1 141.8h0M657.8 141.1h0M705.5 147.9h0M666.2 150.4h0M665.7 131.6h0M660.2 127h0M680.1 154.6h0M697.1 145.6h0M663.4 155.1h0M685.5 126.1h0M675.5 133.6h0M680.6 129.1h0M673.5 129h0M655.2 139.5h0M702.9 146.8h0M682.5 150.9h0M662.4 130.3h0M667.8 147.1h0M682.9 158h0M677.4 140.1h0M684.3 128.4h0M664.7 148h0M682.9 157.5h0M669.1 139.8h0M696.6 146.2h0M669.7 142.5h0M689.5 142.8h0M677 129.7h0M669.8 155.2h0M673.6 151.7h0M675.7 135.5h0M697.1 134.2h0M661.5 144.7h0M676.1 154.4h0M706 141.6h0M688.5 137.4h0M682.9 129.8h0M684.2 130.9h0M654.8 148.4h0M672.5 130.6h0M675.8 155.6h0M653.1 148h0M671.2 128h0M666.8 131.7h0M678.4 125.7h0M659 132.4h0M703.8 149.9h0M669 144.4h0M684.5 130.7h0M657.7 145.6h0M649.8 140.7h0M658.3 144.4h0M676.4 158.7h0M685.6 141.8h0M685.8 126.7h0M706.6 139.2h0M656 149.7h0M671.9 135.5h0M653.2 133.1h0M657.8 135.5h0M655.6 138.9h0M679.6 128.1h0M660.7 127.9h0M683.4 135h0M706.1 149.6h0M674.7 134.2h0M693.6 154.8h0M676.5 130.6h0M676.1 125.3h0M666.9 142.4h0M694 144.7h0M686.5 139.4h0M689.1 144.8h0M656.3 132h0M683.3 148.5h0M672.8 125.1h0M673 156.7h0M686.2 142.6h0M692.9 152h0M699.9 136.5h0M661.4 127.1h0M698.8 153.2h0M695.5 149.9h0M690.8 144.8h0M691 134h0M682.5 125.6h0M686.2 136.8h0M668.2 139.6h0M699.1 138h0M659.6 130.5h0M660.3 152.9h0M705.1 149.7h0M693.2 145.5h0M681.4 135.8h0M675.1 149.3h0M686.5 143.1h0M658.7 153.6h0M679 136.8h0M699.7 131.3h0M696.3 138.1h0M678.9 130.7h0M655.2 133.4h0M698.7 143h0M698.9 140.8h0M671.6 147.1h0M676.4 156.7h0M686.8 137.5h0M698.3 145.2h0M683.6 138.6h0M687.2 154.1h0M649.9 133.2h0M687.9 146.1h0M696 154.4h0M666.9 157.1h0M674.7 142.9h0M685.5 145.9h0M685.2 135.6h0M700.9 134.4h0M679.8 157.1h0M695 132.2h0M706.7 144.1h0M678.6 152.2h0M670.7 136.3h0M678.9 154.6h0M672.2 125.2h0M693.6 144.5h0M687.1 129.7h0M686.9 149.7h0M680.8 150.5h0M684.9 142.4h0M703.1 135h0M686.3 139.9h0M703.5 144.4h0M654 137.2h0M680.6 136.4h0M666.8 138.4h0M666.2 133.2h0M703.1 135.1h0M676.2 157.2h0M674.8 131.6h0M707.9 146.6h0M761.3 161.5h0M726.3 157.7h0M729.6 157.2h0M766.3 168.8h0M729.9 156.5h0M709.2 158.4h0M744.5 159h0M713.5 151.9h0M743.4 158.7h0M745.8 166.8h0M744.8 165.5h0M736.3 156.5h0M714.6 145.5h0M725.9 161.7h0M736.4 154.3h0M753.2 158.8h0M714.9 149.2h0M722.9 156.5h0M714.4 145.4h0M742.5 163.4h0M742.6 166.3h0M733.4 170h0M731.2 158.7h0M758.3 168.1h0M732 159.1h0M712.4 158.2h0M730.3 161.4h0M758.2 170.3h0M739.2 163.3h0M735 169.8h0M700.8 148.8h0M719.4 158.6h0M731.4 159.7h0M769.9 170.3h0M751.2 161.7h0M724 151.4h0M762.7 160.5h0M723.3 170.5h0M742.1 162.1h0M732.6 152.7h0M740.7 167.4h0M719.5 153.4h0M765.9 165.6h0M745.8 176.1h0M719.6 155.8h0M700.1 130.6h0M704.5 186.7h0M727.1 181.5h0M690.5 179.8h0M787.2 156.3h0M803.8 165h0M822.1 169.3h0M762.8 175.4h0M768.9 181.5h0M802.9 155.4h0M649.3 134.7h0M649.8 140.2h0M659.7 138.7h0M658.3 133.4h0M656.7 141.7h0M650.1 147.7h0M652.9 150.7h0M660.1 137.9h0M650.7 134.6h0M652.6 132.9h0M657.4 140.9h0M654.1 144.8h0M649.8 137.4h0M662.2 138.1h0M648.3 143.9h0M652.1 143.8h0M658 147.5h0M650.5 150.4h0M662.3 143h0M658.1 146.3h0M651.9 132.4h0M649.9 136.9h0M656 130h0M659 138.8h0M659.4 131.8h0M657.4 143.2h0M655.9 143.7h0M653.9 143.9h0"/>
<path stroke="#c7c7c7" d="M793.3 160.3h0M650.5 139.7h0"/>
<path stroke="#bcbd22" d="M855.6 307.9h0M847.8 332.7h0M965 171.3h0M968.3 168.8h0M991.3 153h0M983.6 160.8h0M956.8 149.8h0M919.4 164.7h0M970.2 187.3h0M926.3 174h0M954.2 155.5h0M1002.4 130.1h0M932.2 167.4h0M1002.8 140.3h0M976.4 108.5h0M993.8 123.6h0M925.1 176.9h0M916.6 179.7h0M944.8 188.7h0M997.9 157.5h0M888.3 163.7h0M950.5 160.1h0M971.6 142h0M933.4 190.1h0M999.5 105h0M987.1 182.8h0M951.8 167.5h0M947.6 198.4h0M993.6 174.2h0M943.4 149.9h0M925.8 180.9h0M953.5 205h0M948 145.9h0M946.4 174.6h0M968.7 123.2h0M935.8 164.1h0M937.5 171.2h0M927.3 174.8h0M967.4 174.6h0M967.5 165.9h0M953.4 150.4h0M928.3 133.3h0M972.8 146.2h0M1028 133.4h0M966.3 123.4h0M969.2 175.9h0M976.4 174.7h0M955.2 158.3h0M1007.8 148.7h0M982.4 149.8h0M988 138.5h0M998.2 120.5h0M921.6 129h0M939.4 173.8h0M962.1 183.4h0M944.8 133.1h0M950.9 143.5h0M948.9 128.3h0M943.4 111.4h0M971.1 144.7h0M953.6 134.9h0M967.5 155.2h0M914.4 200.6h0M967 163.1h0M921.9 145.9h0M959.1 127.4h0M954.1 202.6h0M963.1 163.2h0M1019.4 164.8h0M920.3 182.7h0M1007.5 161.3h0M939.8 152h0M975.8 147.9h0M950.5 142.2h0M961.1 145.9h0M971.1 132.2h0M926.7 157.4h0M971.4 176.8h0M932.7 111h0M994.9 150.5h0M988 187.7h0M932.1 187.1h0M981.5 185.2h0M974.9 121h0M941.1 195.2h0M923.1 163.9h0M1010.1 183.1h0M961.5 202.6h0M988.7 142.8h0M979.2 133.5h0M916.4 199h0M972.4 132.6h0M960.3 169.4h0M979.5 121.5h0M1001.2 130.4h0M931.7 164.5h0M983 175.2h0M933 188.4h0M970 124.5h0M967.6 194.2h0M1002.7 118.8h0M963.5 162.8h0M977 158h0M1006.8 116h0M974.3 160.2h0M953.6 156.8h0M974.6 133.6h0M925.9 164.5h0M991.6 161.8h0M948.6 177.3h0M1024.5 129.5h0M1000.8 148.2h0M984.3 118.3h0M1019 139.6h0M950.3 190.6h0M1031.2 150h0M955.6 146.3h0M1003.8 138.4h0M943 153.3h0M956.4 170.4h0M945.7 159.7h0M966.1 162.8h0M978.7 128.1h0M962 150.8h0M959.5 149.1h0M1028.2 137h0M1007.2 120.2h0M943.4 181.9h0M972.4 182.6h0M905.1 139.2h0M957.8 113.1h0M953.1 147.7h0M944.3 174.3h0M951.6 118h0M953.1 183.1h0M931 174.7h0M1014.1 149.2h0M910.2 192.8h0M907.9 125h0M962.9 109.4h0M972.2 181h0M986.9 137.6h0M1002.4 135.5h0M1008.4 161h0M948.3 202.9h0M963.4 153.6h0M971.5 140.7h0M956.9 169.1h0M950.2 170.5h0M988.4 125h0M960.9 167h0M972.6 164.1h0M961.8 143.7h0M962.4 160.4h0M945.8 149.6h0M933.5 153.1h0M1019.9 152.2h0M930.9 128.7h0M987.1 153.3h0M926.6 174.2h0M989.3 157.1h0M954.2 169.3h0M970 171.1h0M982.8 159.3h0M965.3 144.2h0M984.5 164.7h0M957.6 163.9h0M910.3 151.6h0M957.1 154.8h0M981.4 106.5h0M1004.2 164.9h0M965.4 142h0M980.7 142.2h0M1005.4 180.5h0M966.3 118.6h0M1029 150.8h0M1023.6 134.1h0M1019.6 177.6h0M959.2 137.8h0M1016.5 118.4h0M1004.1 119.3h0M954.2 164.4h0M972.2 128.3h0M984.7 118.8h0M941.3 148h0M976.1 150.9h0M976.7 146.9h0M1011 154.2h0M954.8 160.4h0M992.5 158h0M984 134.4h0M958.2 157.1h0M976.2 119.2h0M929.7 158h0M965.7 134.6h0M945.5 140h0M961.8 136h0M971.6 153.6h0M1010.3 171.8h0M1005.7 156.6h0M1004.2 175h0M920.3 170.2h0M944.8 184.2h0M994.3 180.6h0M972.2 144h0M955.3 137h0M895.9 183.2h0M948.9 147.7h0M928.9 171.1h0M934.2 173.2h0M957 147.1h0M915.4 183.5h0M998.3 132.8h0M953.8 173h0M992.2 127.7h0M1026.4 134h0M973.1 122.3h0M959.9 155.5h0M988.4 127.7h0M950 189.3h0M982 168.6h0M966.3 135.2h0M1009.1 145.7h0M1008.3 125.8h0M963.8 116h0M961.3 148.7h0M972.2 187.5h0M995.2 154.3h0M1008.9 113h0M981.1 124.8h0M961.3 151.1h0M899.9 133.2h0M930.2 182.1h0M883.9 168.5h0M956.3 175h0M957.1 126.4h0M949.4 165.2h0M1009.8 137.7h0M961.4 146.2h0M955 165.3h0M1014.6 158.7h0M958.1 104.7h0M940.6 158.9h0M965.6 118.3h0M966.1 169.6h0M945 152.6h0M936.7 127.1h0M952.5 151.3h0M986.7 120.1h0M915.4 161.4h0M941.4 177h0M931.6 125.5h0M988.7 138.1h0M978.1 155.6h0M996.6 112.2h0M990.9 141h0M968.7 146.9h0M952.9 162.4h0M975.5 164.2h0M925.1 166.4h0M979.4 175.4h0M950 203.3h0M925 160.3h0M933 133.4h0M921 156.2h0M951.9 141.1h0M976.6 195.4h0M958.7 167.7h0M943.7 148.8h0M983.7 169.4h0M943.3 144h0M951.6 118.5h0M1009 157.7h0M1018.3 146.8h0M944.1 154.8h0M937.2 172.4h0M1005.5 168.7h0M942.9 158.9h0M992.5 163.1h0M994.3 131.3h0M962.6 185.8h0M945.8 176.6h0M995.4 141.8h0M942.5 147.4h0M948.7 112.7h0M939.2 147.1h0M961.5 163.2h0M1014.1 134.6h0M1001.4 155.6h0M980.4 162.1h0M945.1 196h0M999.6 140h0M964.4 174.3h0M936.6 184.4h0M979.2 181.1h0M975 104.8h0M916.7 160.3h0M1025.6 162h0M964.2 163.7h0M1022.8 162.3h0M964.8 149.7h0M1018.7 157.8h0M955.6 174.2h0M942.2 154.2h0M982.9 157.9h0M965.4 202.1h0M976.2 146.8h0M990.3 123.3h0M902.9 171.1h0M948.1 150.2h0M951.1 173.7h0M1007.5 118.6h0M1010.2 140.8h0M911.4 141.1h0M981.6 172.6h0M914.2 120.1h0M1015.6 158.8h0M971.6 177.6h0M951.1 148.4h0M999.6 113.3h0M970.4 183.1h0M1016.5 156.1h0M940.3 175.3h0M957.7 180h0M994.9 157.1h0M964.9 156.2h0M981.2 139.2h0M971.6 123.8h0M909.8 133h0M972.9 170.8h0M965.4 100.2h0M984.7 144.3h0M840.3 157.4h0M918.4 112.1h0M908.7 247.5h0M895.6 144.1h0M873.7 245.8h0M842.9 194.7h0M832.3 213.4h0M880.9 233.6h0M846 194.2h0M945.6 159.5h0M907.8 201.6h0M921.8 118.8h0M954.8 187.7h0M907.6 216.1h0M946.6 201.8h0M848.7 209.9h0M917.4 192.7h0M846.7 201.9h0M847.1 194.5h0M913.3 204.3h0M935.4 211.5h0M887 147.8h0M893.1 174.9h0M812.4 200.9h0M927.6 215.3h0M873.1 148.1h0M884.2 168h0M936 127.7h0M930.9 167.6h0M904.2 160.6h0M919 180.6h0M873.9 159.3h0M846.5 140.4h0M915.1 171.4h0M942.9 115.4h0M972.2 176.1h0M881.6 214h0M821.6 169.6h0M913.9 233.2h0M918.3 230.4h0M877.5 172.9h0M959.7 197.3h0M910.3 235.7h0M858.7 243.7h0M881.4 204.8h0M903.6 194.2h0M938.6 225.7h0M961.1 167.9h0M887.4 158h0M983.2 190h0M871.7 207.7h0M956 141.2h0M909.7 185.5h0M885.7 198.3h0M878.7 202.8h0M898.4 118.5h0M865.5 190.9h0M835.8 165h0M826.5 186.9h0M906.3 194.8h0M950.9 161.9h0M929.3 133h0M907.8 197.2h0M847.2 202h0M868.4 254.2h0M925.2 180.1h0M934.9 199.1h0M840.2 163.9h0M815 175.8h0M946.1 210.1h0M946.4 120.3h0M910.8 229h0M971.1 147.5h0M873.9 184.7h0M925.3 207.7h0M933.9 158.1h0M948.2 132.1h0M941.4 221.7h0M951.6 184h0M878.3 194.9h0M855.2 181.9h0M866.2 243.3h0M835 189.5h0M961.6 178.6h0M930.8 217.9h0M850.7 218.6h0M982.3 174h0M916.9 130.6h0M926.5 194.3h0M868.8 174.6h0M840.1 185.4h0M886 181.8h0M980.9 170.7h0M902.6 217.7h0M911.8 179.9h0M884.8 192.1h0M888.5 180.7h0M913.8 232.6h0M849.4 226.1h0M932.1 175h0M913.3 227.9h0M889.4 217.7h0M927.1 187.7h0M920.6 213.6h0M951.9 131.3h0M938.1 151.1h0M863.3 213h0M886.6 133.1h0M967.2 147.7h0M935.8 191.3h0M928.5 183h0M915.1 188.2h0M899.2 232.8h0M911.8 199.5h0M867.1 181.4h0M890 143.6h0M959.1 153.6h0M879.7 181.2h0M912.6 205.1h0M923 157.5h0M848.9 206.8h0M884.9 170.2h0M941.1 136.8h0M872.5 236.2h0M879.3 191.9h0M845.7 167.2h0M844.7 150.8h0M934.1 187h0M981 154.4h0M887.1 231.9h0M887.9 231.3h0M853.7 143.1h0M879.1 187.1h0M915.4 167.3h0M912.1 193.7h0M845.5 171.5h0M844.5 153.1h0M909 208.9h0M875.1 176.1h0M853.5 231.2h0M873.5 199.5h0M908.5 199.7h0M885.9 209.5h0M885.7 171.7h0M940.2 171.9h0M904.6 190.5h0M875.5 183h0M866.6 175.4h0M884.1 167.4h0M868.2 244.6h0M872.4 205.9h0M886.5 134.5h0M916.4 212.9h0M853.6 189.2h0M867.8 176.2h0M873 183.8h0M886.4 195.6h0M923.1 195.3h0M888.2 165.4h0M926.6 205.8h0M897.1 176.3h0M925.1 186.3h0M917.9 165.5h0M906.4 145.4h0M890.6 165.7h0M895.9 128.7h0M884.3 202.2h0M882.5 183.9h0M861.3 195.8h0M951.6 147.4h0M828.7 181.4h0M886.2 218.8h0M894.3 218.4h0M944.6 139.9h0M902.3 177.4h0M945.8 199h0M898.9 149.9h0M880.2 193.5h0M884.9 172.8h0M911.8 199h0M899.8 161.2h0M864.8 161.8h0M871.9 221.2h0M884.4 188.5h0M934.1 154.5h0M878 145.7h0M932.1 169h0M938.6 199.7h0M900.4 207.5h0M827.4 198.9h0M938.6 222.6h0M972.1 214.2h0M869.7 148.6h0M934.1 216.2h0M936.3 194.7h0M868.7 161.9h0M923.1 147.4h0M973.8 178.7h0M925.4 179.4h0M812.6 193.1h0M921.7 135.7h0M862.9 256.5h0M947.6 185.4h0M848.9 244.8h0M917.1 162.7h0M917.1 189.7h0M901.3 188.8h0M929 179.7h0M885 208.3h0M881.5 239.9h0M906.7 113.5h0M882.5 191.5h0M899.5 206.5h0M971.8 212.4h0M905.6 158.1h0M869.4 184h0M941.9 151.7h0M883.4 209.9h0M960.1 143.8h0M899.1 163.2h0M925.9 137h0M917.8 195.9h0M893.8 232.1h0M977.1 157.9h0M913 190.4h0M957.2 194.6h0M899 186.8h0M860.4 195.3h0M917.6 241.3h0M888.8 236.8h0M923.2 116.3h0M910.8 240.4h0M860.2 190.1h0M887.3 157.1h0M944.1 177.3h0M896 166.1h0M936.9 161.2h0M859.1 198.9h0M831.2 195.7h0M856.7 206.2h0M914.5 197.3h0M885.3 134.6h0M847.6 130.3h0M930.9 190.4h0M912 128.2h0M837 171h0M839.6 157.1h0M917 208h0M908.9 187.2h0M909.6 172.6h0M797.1 170.7h0M775.8 180.6h0M838.3 199.3h0M817.9 183.8h0M808.6 196.2h0M819 178.2h0M806.8 193.9h0M804.3 198.3h0M794.9 196.9h0M835.1 162.4h0M843.7 183.8h0M827.8 203.3h0M823.1 168.1h0M837 198.1h0M804.5 183.6h0M805.9 179.6h0M839.1 156.8h0M809.9 181.3h0M839.3 196.3h0M831.2 200.2h0M843.1 188.6h0M833.8 198.1h0M796.7 171.8h0M842.7 193.4h0M859.7 172.1h0M852.3 165.7h0M809.7 177.7h0M797.4 161.2h0M786.3 176.9h0M795.4 186.6h0M821 195.7h0M817.8 183.7h0M828.7 178.2h0M808.7 192.8h0M794.7 194.6h0M814.6 205.6h0M830.8 185.6h0M838.4 181.8h0M827.1 158.7h0M797.9 174.8h0M832.9 189.7h0M852.9 157.7h0M795.6 179.2h0M831.5 180.6h0M806.1 164.2h0M809.2 186.4h0M825.3 193.6h0M837.6 174.8h0M809.9 188.3h0M787.3 171.2h0M830.2 178.4h0M833.5 167h0M838.9 192.4h0M812.1 200.9h0M864.5 185h0M840.4 198.4h0M831.1 182.5h0M831.7 198h0M829.4 194h0M807.5 187.3h0M860 267.1h0M934.9 243.6h0M999.4 181.7h0M1001.1 193.9h0M973.3 216.6h0M963.7 222.7h0M1025.6 176h0M801.5 232h0M854.6 269h0M861.6 266.8h0M855.5 308h0M856 248h0M850 255h0M887.6 174.7h0M906.4 155.2h0M925.6 136.7h0M930.4 178.6h0M843.9 229.7h0M967.5 160.8h0M958.2 184.3h0M911.7 204.8h0M985.9 111.7h0M928 159.1h0M909.6 167.8h0M899.5 189.7h0M894.2 199.4h0M879.8 169.7h0M976 183.3h0M953.8 186.5h0M915.3 144.6h0M949.4 181.2h0M943.2 162.1h0M898.4 160.5h0M971.5 131h0M936 155.1h0M861.4 192.7h0M847.6 195.8h0M903.9 153h0M901.6 189.8h0M901.1 143.3h0M913.2 154.4h0M872.2 188.1h0M907.7 211.5h0M917.9 161.2h0M883 234.5h0M863.3 198.4h0M917.9 221.2h0M904.2 200.8h0M926 224h0M950.7 193.5h0M903 181.2h0M920.4 197.2h0M893 246h0M874.4 214.4h0M930.9 147.8h0M865.2 197.5h0M947.4 118.2h0M895.5 146.3h0M893.3 189h0M894.9 216.4h0M985.9 196.2h0M907.6 166.8h0M965.8 198h0M894 188.1h0M917.3 208h0M957.5 197.8h0M939.1 202.3h0M900.5 141.4h0M929.7 158.3h0M874.9 237.2h0M945.2 170.8h0M890 175.3h0M949.8 190.7h0M965 203h0M910.1 242.3h0M948.5 187.7h0M962.7 116.2h0M964.5 142.9h0M928.3 192.8h0M948.1 162.7h0M957 207.8h0M949.6 215.9h0M885 122.9h0M913.9 180.6h0M897.4 131.3h0M850.8 190.6h0M915.9 172h0M980.3 173.5h0M927.5 167h0M852.6 219.5h0M909.4 196.5h0M1004.4 145.1h0M1005.4 123.9h0M878.9 159.1h0M935.5 188.8h0M957.9 176.6h0M963 187.2h0M925.4 187.8h0M893.6 183h0M972.1 116h0M980.9 183.9h0M827.4 157.7h0M897.6 201.8h0M909.6 209.7h0M892.7 141h0M951.6 194.9h0M903.6 176.9h0M865.2 230.6h0M996.7 151.4h0M837.3 163h0M898.8 140.3h0M877.2 152.9h0M909.2 140.1h0M981 210.1h0M967.9 103.5h0M981.3 169.4h0M954.1 184.5h0M958.4 180.9h0M929.1 174h0M904.9 225.7h0M910.7 170.7h0M966.3 178.8h0M914.2 181.7h0M818 179.5h0M905.1 195.4h0M921 134h0M898.7 195.4h0M948.6 140.1h0M862.1 155.3h0M918.6 190.2h0M960.3 153.6h0M962.1 164.7h0M913.2 136.7h0M994.9 141.6h0M982.5 178.2h0M896.8 166.8h0M945.5 147.5h0M871.7 169.3h0M872.1 173.3h0M985.7 155.2h0M974.9 172.4h0M907.6 170.7h0M873.5 208.3h0M855.3 182.6h0M968.7 209.9h0M903.7 190.2h0M935.7 209.5h0M920 228h0M789.1 193.4h0M915.9 182.3h0M920.5 127.4h0M865.9 226.1h0M875.1 255.8h0M946.4 169.4h0M916.3 193.3h0M947.4 129.8h0M924.5 131.1h0M882.7 249.1h0M967.4 116.7h0M875.3 164.4h0M1029.8 164.5h0M824.4 148h0M940.5 162.4h0M877.7 251.4h0M931.7 163.3h0M840 197.1h0M937.3 168.3h0M876.5 177.3h0M904 139.9h0M863.4 233.6h0M917.7 166.6h0M865.3 135.9h0M864.2 137.7h0M879.1 191.4h0M900.1 192.4h0M830.2 137.4h0M906.5 161.8h0M937.9 184.6h0M832.5 203.6h0M849.4 139.5h0M861 266.3h0M966.8 205.5h0M981.9 186.7h0M843.3 165.8h0M875.9 184.2h0M907.9 174.3h0M912.7 167.7h0M869.2 209h0M963.6 108.8h0M957.2 160.6h0M988.6 108.4h0M773.5 165.7h0M984.5 170.7h0M895.3 198.1h0M937.4 153.4h0M840.2 203.1h0M926.5 130.3h0M796.4 197.9h0M920.4 160.3h0M840.4 188.8h0M901.7 248.7h0M874.4 148.1h0M954.4 134h0M1013.9 132.8h0M802.6 201.2h0M886.4 183.5h0M859.5 169h0M834.5 145.5h0M917.2 237.6h0M960.3 135.6h0M809 160.4h0M943.3 116.8h0M930 231h0M1014.1 150h0M953.5 180.1h0M936.1 140.4h0M968.5 177.1h0M818.4 175.6h0M944.7 147.9h0M963.6 194.4h0M822.6 182.3h0M821.8 177.1h0M857.9 198.5h0M917.8 152.3h0M825.1 172.5h0M888.3 178.4h0M875.3 187.8h0M1018.8 149.7h0M953.4 207.8h0M983.8 209.5h0M840.1 165.8h0M919.7 196.3h0M1000.7 145.7h0M1010.5 161.6h0M951.4 176.2h0M1026.2 127.9h0M995.4 174.5h0M926.1 118.3h0M955.2 167h0M919.7 203.4h0M959.6 123.7h0M894.4 172.6h0M864.1 225.4h0M772.6 176.5h0M876.6 147.9h0M892.7 200.5h0M874.5 220.8h0M792.5 194.7h0M873 157.3h0M818.3 150.6h0M856 222.8h0M832.2 183.9h0M917.1 134h0M968.1 200.3h0M955.4 217.9h0M946.5 221.2h0M960.2 174.1h0M976.7 204.4h0M953.9 207.1h0M974.9 202.8h0M965.5 218.5h0M952.9 212.2h0M989.3 188.7h0M962.1 201.1h0M940.6 219.5h0M950.7 204.9h0M955.7 193.9h0M946.2 212.2h0M946 227.3h0M975.4 182.6h0M949.4 180.7h0M989.4 182.5h0M939 210.6h0M985.8 193.4h0M980.7 177.3h0M981 210.3h0M985.7 207h0M968.5 182.8h0M995.3 197h0M973.3 203.2h0M958.3 221.1h0M953.6 224.5h0M944 209.2h0M928.6 207.4h0M961.4 192.1h0M950.3 203.2h0M990.3 205.2h0M966.8 216.7h0M977.6 171h0M979.9 194.7h0M976.3 191.7h0M978.8 199.7h0M956.7 213.3h0M791.3 156.9h0M811.7 167.3h0M838.3 173.3h0M810.9 182.7h0M803 180.4h0M797.7 192.4h0M821 185.7h0M828.2 157.9h0M820.8 172.9h0M831.1 186.9h0M813.7 170.4h0M843.3 182.5h0M792 162.4h0M799 155h0M821.1 187.2h0M793.6 157h0M835.6 183h0M835.7 187h0M790.2 166.8h0M815.7 189.2h0M785.8 175.8h0M806.6 177.1h0M814.1 170.6h0M778.1 159.9h0M801.9 174.9h0M781.9 176.9h0M805.7 180.9h0M799.3 169.6h0M801.5 151h0M793.9 153.2h0"/>
</g>
<g clip-path="url(#ax)" stroke="#000" stroke-opacity=".72" fill-opacity=".6" stroke-width="1.15" stroke-linejoin="miter">
<g fill="#00bfff"><use href="#m0" x="758.4" y="516.3"/><use href="#m0" x="753.2" y="527.8"/><use href="#m0" x="759.5" y="532"/><use href="#m0" x="757.6" y="156.3"/><use href="#m0" x="770.7" y="153.3"/><use href="#m0" x="768.9" y="161.5"/><use href="#m0" x="802" y="128.4"/><use href="#m0" x="821.2" y="126.6"/><use href="#m0" x="844.7" y="129.2"/><use href="#m0" x="813.4" y="161.5"/><use href="#m0" x="817.7" y="151.9"/><use href="#m0" x="826.4" y="137.1"/><use href="#m0" x="825.6" y="162.4"/><use href="#m0" x="835.2" y="149.3"/><use href="#m0" x="841.3" y="164.1"/><use href="#m0" x="846.5" y="170.2"/><use href="#m0" x="781.1" y="194.6"/><use href="#m0" x="764.6" y="201.6"/><use href="#m0" x="760.2" y="207.7"/><use href="#m0" x="946.3" y="90.6"/><use href="#m0" x="951.5" y="91.8"/><use href="#m0" x="954.1" y="92.7"/><use href="#m0" x="958.5" y="94.4"/><use href="#m0" x="960.2" y="94"/><use href="#m0" x="952.4" y="95.3"/><use href="#m0" x="942.8" y="106.6"/><use href="#m0" x="931.5" y="122.3"/><use href="#m0" x="937.6" y="126.6"/><use href="#m0" x="1019.5" y="130.1"/><use href="#m0" x="1013.4" y="135.3"/><use href="#m0" x="1013.4" y="141.4"/><use href="#m0" x="1024.7" y="141.4"/><use href="#m0" x="963.7" y="149.3"/><use href="#m0" x="952.4" y="167.6"/><use href="#m0" x="951.5" y="178.9"/><use href="#m0" x="951.5" y="186.7"/><use href="#m0" x="962" y="180.6"/><use href="#m0" x="958.5" y="209.4"/><use href="#m0" x="914.1" y="178.9"/><use href="#m0" x="931.5" y="155.4"/><use href="#m0" x="913.2" y="138"/><use href="#m0" x="885.3" y="144.1"/><use href="#m0" x="894" y="159.7"/><use href="#m0" x="881.8" y="155.4"/><use href="#m0" x="867.9" y="159.7"/><use href="#m0" x="843.5" y="129.2"/><use href="#m0" x="841.7" y="164.1"/><use href="#m0" x="846.1" y="171.1"/><use href="#m0" x="888.8" y="176.3"/><use href="#m0" x="878.3" y="189.4"/><use href="#m0" x="898.4" y="200.7"/><use href="#m0" x="878.3" y="188.7"/><use href="#m0" x="950.6" y="187"/><use href="#m0" x="958.4" y="210.5"/><use href="#m0" x="898.3" y="201.8"/><use href="#m0" x="906.2" y="231.4"/><use href="#m0" x="897.5" y="239.2"/><use href="#m0" x="867.8" y="234"/><use href="#m0" x="781.5" y="194.8"/><use href="#m0" x="764.9" y="201.8"/><use href="#m0" x="757.1" y="207.9"/><use href="#m0" x="739.7" y="250.6"/><use href="#m0" x="737" y="259.3"/><use href="#m0" x="898.8" y="156.2"/><use href="#m0" x="879.9" y="233.3"/><use href="#m0" x="888" y="176.8"/><use href="#m0" x="867.4" y="192.2"/><use href="#m0" x="916.2" y="131.1"/><use href="#m0" x="838.9" y="152.9"/><use href="#m0" x="890.6" y="198.8"/><use href="#m0" x="863" y="197.9"/><use href="#m0" x="903.8" y="215.7"/><use href="#m0" x="904.6" y="176.9"/><use href="#m0" x="838.8" y="169.2"/><use href="#m0" x="913" y="181.2"/><use href="#m0" x="890" y="196.8"/><use href="#m0" x="864.4" y="195.2"/><use href="#m0" x="963.7" y="181.5"/><use href="#m0" x="836.2" y="170.4"/><use href="#m0" x="856.8" y="197.1"/><use href="#m0" x="903.6" y="129.2"/><use href="#m0" x="836.4" y="204.4"/><use href="#m0" x="882.8" y="150.4"/><use href="#m0" x="944.6" y="153.4"/><use href="#m0" x="887.9" y="253.5"/><use href="#m0" x="895.6" y="177.3"/><use href="#m0" x="911.6" y="164.4"/><use href="#m0" x="918.5" y="149"/></g>
<g fill="#00bfff"><use href="#m1" x="782.8" y="344.5"/><use href="#m1" x="789.7" y="346.6"/><use href="#m1" x="799.7" y="342.3"/><use href="#m1" x="800.2" y="346.6"/><use href="#m1" x="848.5" y="341.9"/><use href="#m1" x="844.3" y="347.2"/><use href="#m1" x="795.1" y="145.3"/><use href="#m1" x="844.7" y="189.4"/><use href="#m1" x="852.6" y="168.4"/><use href="#m1" x="735" y="204.2"/><use href="#m1" x="744.5" y="218.1"/><use href="#m1" x="870.5" y="127.5"/><use href="#m1" x="908.8" y="126.1"/><use href="#m1" x="876.6" y="140.6"/><use href="#m1" x="887.9" y="149.3"/><use href="#m1" x="886.2" y="146.7"/><use href="#m1" x="905.3" y="151.9"/><use href="#m1" x="917.5" y="151.9"/><use href="#m1" x="922.8" y="142.3"/><use href="#m1" x="926.3" y="135.3"/><use href="#m1" x="960.2" y="119.7"/><use href="#m1" x="962" y="132.7"/><use href="#m1" x="980.3" y="117"/><use href="#m1" x="984.6" y="118.8"/><use href="#m1" x="989.9" y="117"/><use href="#m1" x="1005.5" y="137.1"/><use href="#m1" x="1007.3" y="144.9"/><use href="#m1" x="1011.6" y="146.7"/><use href="#m1" x="1035.2" y="143.2"/><use href="#m1" x="1005.5" y="161.5"/><use href="#m1" x="1019.5" y="161.5"/><use href="#m1" x="1000.3" y="167.6"/><use href="#m1" x="993.3" y="164.1"/><use href="#m1" x="977.7" y="162.4"/><use href="#m1" x="979.4" y="165"/><use href="#m1" x="968.9" y="157.1"/><use href="#m1" x="958.5" y="151.9"/><use href="#m1" x="969.8" y="168.4"/><use href="#m1" x="971.6" y="173.7"/><use href="#m1" x="979.4" y="181.5"/><use href="#m1" x="941.9" y="177.2"/><use href="#m1" x="928.9" y="185"/><use href="#m1" x="920.2" y="170.2"/><use href="#m1" x="919.3" y="158.9"/><use href="#m1" x="923.6" y="151.9"/><use href="#m1" x="916.7" y="139.7"/><use href="#m1" x="908.8" y="172.8"/><use href="#m1" x="897.5" y="174.5"/><use href="#m1" x="895.8" y="192"/><use href="#m1" x="897.5" y="188.5"/><use href="#m1" x="902.7" y="193.7"/><use href="#m1" x="880.1" y="207.7"/><use href="#m1" x="872.2" y="171.9"/><use href="#m1" x="864.4" y="170.2"/><use href="#m1" x="852.2" y="169.3"/><use href="#m1" x="844.4" y="189.4"/><use href="#m1" x="856.6" y="180.6"/><use href="#m1" x="968.1" y="198.1"/><use href="#m1" x="995.1" y="122.3"/><use href="#m1" x="996.8" y="129.2"/><use href="#m1" x="1002" y="127.5"/><use href="#m1" x="991.6" y="131"/><use href="#m1" x="1009.9" y="139.7"/><use href="#m1" x="1003.8" y="148.4"/><use href="#m1" x="1018.5" y="135.3"/><use href="#m1" x="982.2" y="126.3"/><use href="#m1" x="973.5" y="150.6"/><use href="#m1" x="983.5" y="127.9"/><use href="#m1" x="977.3" y="152.4"/><use href="#m1" x="984.5" y="126"/><use href="#m1" x="1014.9" y="128.2"/><use href="#m1" x="954.9" y="132.8"/><use href="#m1" x="988.5" y="125.9"/><use href="#m1" x="983.1" y="155"/><use href="#m1" x="995.2" y="134.3"/><use href="#m1" x="960.2" y="131.8"/><use href="#m1" x="988" y="135.8"/><use href="#m1" x="1006.4" y="136.3"/><use href="#m1" x="996.8" y="137.7"/><use href="#m1" x="995.1" y="145.7"/><use href="#m1" x="972" y="161.3"/><use href="#m1" x="992.5" y="118.4"/><use href="#m1" x="997" y="149.4"/><use href="#m1" x="976.3" y="144.3"/><use href="#m1" x="989.6" y="149.4"/><use href="#m1" x="988.2" y="127.7"/><use href="#m1" x="996.2" y="136.5"/><use href="#m1" x="986.1" y="129.2"/><use href="#m1" x="959.4" y="144.4"/><use href="#m1" x="952.6" y="138.1"/><use href="#m1" x="991" y="144.7"/><use href="#m1" x="996.7" y="112.6"/><use href="#m1" x="997.1" y="109"/><use href="#m1" x="990.3" y="134.6"/><use href="#m1" x="896.9" y="196.6"/><use href="#m1" x="879.2" y="207"/><use href="#m1" x="913.1" y="219.7"/><use href="#m1" x="900.9" y="221.8"/><use href="#m1" x="943.6" y="222.3"/><use href="#m1" x="955" y="233.7"/><use href="#m1" x="961.9" y="233.7"/><use href="#m1" x="930.6" y="260.5"/><use href="#m1" x="968" y="198.3"/><use href="#m1" x="928.8" y="185.2"/><use href="#m1" x="862.6" y="234"/><use href="#m1" x="912.3" y="220.9"/><use href="#m1" x="959.3" y="232.3"/><use href="#m1" x="745.8" y="218.3"/><use href="#m1" x="740.5" y="222.7"/><use href="#m1" x="802.4" y="241.9"/><use href="#m1" x="843.3" y="231.4"/><use href="#m1" x="839.9" y="227.9"/><use href="#m1" x="861.6" y="234"/><use href="#m1" x="844.2" y="189.6"/><use href="#m1" x="879.9" y="207"/><use href="#m1" x="866.9" y="234"/><use href="#m1" x="846.8" y="190.5"/><use href="#m1" x="968.9" y="130.7"/><use href="#m1" x="819.3" y="192"/><use href="#m1" x="875.1" y="252.3"/><use href="#m1" x="932.5" y="203.4"/><use href="#m1" x="995.6" y="155.6"/><use href="#m1" x="960.6" y="190"/><use href="#m1" x="865" y="216"/><use href="#m1" x="944.8" y="172"/><use href="#m1" x="863.2" y="240.8"/><use href="#m1" x="869.9" y="214.9"/><use href="#m1" x="831.2" y="183.2"/><use href="#m1" x="943.8" y="133.1"/><use href="#m1" x="833.7" y="208.3"/><use href="#m1" x="891.2" y="149.9"/><use href="#m1" x="938.4" y="189.5"/><use href="#m1" x="944.7" y="224.6"/><use href="#m1" x="900.1" y="229.7"/><use href="#m1" x="891.1" y="141.8"/><use href="#m1" x="827.9" y="160.1"/><use href="#m1" x="822.1" y="203.9"/><use href="#m1" x="913.1" y="170.4"/><use href="#m1" x="941.1" y="126.6"/><use href="#m1" x="876.7" y="229.4"/><use href="#m1" x="961.3" y="156"/><use href="#m1" x="849.8" y="177.8"/><use href="#m1" x="968" y="216.1"/><use href="#m1" x="874.5" y="187.4"/><use href="#m1" x="873.7" y="230.2"/><use href="#m1" x="918.9" y="190.5"/><use href="#m1" x="890.7" y="228.4"/><use href="#m1" x="948.1" y="197.5"/><use href="#m1" x="888.3" y="166.7"/><use href="#m1" x="931.9" y="180.2"/><use href="#m1" x="986" y="189.4"/><use href="#m1" x="967.2" y="142.6"/><use href="#m1" x="896.6" y="208.7"/><use href="#m1" x="918.1" y="178"/><use href="#m1" x="930.1" y="160.8"/><use href="#m1" x="899.9" y="168.9"/><use href="#m1" x="920.3" y="157.3"/><use href="#m1" x="991.2" y="162.5"/><use href="#m1" x="919.7" y="210.1"/><use href="#m1" x="939.2" y="197.4"/><use href="#m1" x="927" y="129.9"/><use href="#m1" x="984" y="185"/></g>
<g fill="#00bfff"><use href="#m2" x="782.5" y="488.7"/><use href="#m2" x="783.5" y="512.6"/><use href="#m2" x="789.8" y="511.1"/><use href="#m2" x="794" y="521.6"/><use href="#m2" x="769.5" y="516.3"/><use href="#m2" x="765.7" y="512.1"/><use href="#m2" x="758.4" y="494.4"/><use href="#m2" x="761.6" y="498.6"/><use href="#m2" x="788.7" y="515.3"/><use href="#m2" x="792.9" y="518.4"/><use href="#m2" x="790.8" y="525.7"/><use href="#m2" x="1000.2" y="384.4"/><use href="#m2" x="1005.4" y="386.2"/><use href="#m2" x="1004.5" y="392.3"/><use href="#m2" x="1018.5" y="387"/><use href="#m2" x="1016.4" y="391.9"/><use href="#m2" x="1022" y="394"/><use href="#m2" x="1024.6" y="389.7"/><use href="#m2" x="1028.9" y="397.5"/><use href="#m2" x="1031.6" y="399.2"/><use href="#m2" x="1036.4" y="395.4"/><use href="#m2" x="1026.7" y="409.4"/><use href="#m2" x="1039.4" y="421"/><use href="#m2" x="993.2" y="399.2"/><use href="#m2" x="991.5" y="402.7"/><use href="#m2" x="1029.3" y="396.1"/><use href="#m2" x="849.5" y="318.2"/><use href="#m2" x="863.4" y="324.3"/><use href="#m2" x="877.5" y="122.3"/><use href="#m2" x="918.4" y="133.6"/><use href="#m2" x="953.3" y="136.2"/><use href="#m2" x="935" y="140.6"/><use href="#m2" x="944.5" y="148.4"/><use href="#m2" x="916.7" y="193.7"/><use href="#m2" x="888.8" y="204.2"/><use href="#m2" x="878.3" y="195.5"/><use href="#m2" x="871.4" y="190.2"/><use href="#m2" x="937.6" y="169.3"/><use href="#m2" x="960.2" y="169.3"/><use href="#m2" x="989.9" y="170.2"/><use href="#m2" x="1019.5" y="158.9"/><use href="#m2" x="939.3" y="163.2"/><use href="#m2" x="883.6" y="169.3"/><use href="#m2" x="857.4" y="159.7"/><use href="#m2" x="878.3" y="196.6"/><use href="#m2" x="916.6" y="193.9"/><use href="#m2" x="944.5" y="239.2"/><use href="#m2" x="960.2" y="231.4"/><use href="#m2" x="926.2" y="244.5"/><use href="#m2" x="920.1" y="248"/><use href="#m2" x="914.9" y="254.1"/><use href="#m2" x="920.1" y="260.2"/><use href="#m2" x="893.1" y="254.9"/><use href="#m2" x="882.7" y="260.2"/><use href="#m2" x="912.3" y="267.1"/><use href="#m2" x="907" y="248"/><use href="#m2" x="921.9" y="240.1"/><use href="#m2" x="863.5" y="324.3"/><use href="#m2" x="962.8" y="232.3"/><use href="#m2" x="957.6" y="230.5"/><use href="#m2" x="849.4" y="284.2"/><use href="#m2" x="849.4" y="318.5"/><use href="#m2" x="863.4" y="323.8"/><use href="#m2" x="861.6" y="226.7"/><use href="#m2" x="790.2" y="234.5"/><use href="#m2" x="882.5" y="260.2"/><use href="#m2" x="893" y="255.8"/><use href="#m2" x="859" y="254.1"/><use href="#m2" x="763.2" y="261"/><use href="#m2" x="885.2" y="261"/><use href="#m2" x="864" y="197.1"/><use href="#m2" x="974.5" y="166.1"/><use href="#m2" x="909.8" y="153.1"/><use href="#m2" x="941.9" y="199.1"/><use href="#m2" x="941.3" y="219.2"/><use href="#m2" x="904.2" y="177.2"/><use href="#m2" x="939.2" y="198"/><use href="#m2" x="993.6" y="147.7"/><use href="#m2" x="933.2" y="232.3"/><use href="#m2" x="1023.8" y="153.3"/><use href="#m2" x="958.9" y="208.9"/><use href="#m2" x="871.4" y="183.3"/><use href="#m2" x="984.9" y="198.6"/><use href="#m2" x="885.1" y="184.8"/><use href="#m2" x="834.7" y="176.8"/><use href="#m2" x="960.5" y="188.1"/><use href="#m2" x="887.6" y="156.5"/><use href="#m2" x="870.1" y="217.1"/><use href="#m2" x="848.2" y="222.5"/><use href="#m2" x="926.8" y="162.4"/><use href="#m2" x="884.7" y="199.1"/><use href="#m2" x="939.1" y="122.2"/><use href="#m2" x="925.2" y="220.2"/><use href="#m2" x="922.4" y="154.4"/><use href="#m2" x="855" y="197.1"/></g>
<g fill="#00bfff"><use href="#m3" x="603" y="344.3"/><use href="#m3" x="610.2" y="346.6"/><use href="#m3" x="614.4" y="357.5"/><use href="#m3" x="571.4" y="363.4"/><use href="#m3" x="593.4" y="368.6"/><use href="#m3" x="111.4" y="624.1"/><use href="#m3" x="111.5" y="626.4"/><use href="#m3" x="107.3" y="633.6"/><use href="#m3" x="116.5" y="631.6"/><use href="#m3" x="121.6" y="627.2"/><use href="#m3" x="111.6" y="623.7"/><use href="#m3" x="125.5" y="642.3"/><use href="#m3" x="124.9" y="627"/><use href="#m3" x="125.1" y="636.1"/><use href="#m3" x="120.8" y="638.4"/><use href="#m3" x="113.6" y="632.4"/><use href="#m3" x="105.1" y="629.4"/><use href="#m3" x="114.2" y="624.6"/><use href="#m3" x="116.5" y="644"/><use href="#m3" x="112.4" y="626.1"/><use href="#m3" x="109.9" y="635.3"/><use href="#m3" x="128" y="635.1"/><use href="#m3" x="116.2" y="623.9"/><use href="#m3" x="118.2" y="638.8"/><use href="#m3" x="113" y="633.6"/><use href="#m3" x="111.2" y="639.7"/><use href="#m3" x="125.2" y="636.9"/><use href="#m3" x="119.4" y="634.3"/><use href="#m3" x="111.4" y="627.7"/><use href="#m3" x="113" y="634.8"/><use href="#m3" x="115.8" y="641.9"/><use href="#m3" x="121" y="645.7"/><use href="#m3" x="121.3" y="631.9"/><use href="#m3" x="116.6" y="620.9"/><use href="#m3" x="127.5" y="629.2"/><use href="#m3" x="113" y="648.4"/><use href="#m3" x="108.4" y="628.9"/><use href="#m3" x="115.5" y="629.3"/><use href="#m3" x="116.5" y="635.8"/><use href="#m3" x="120.3" y="633"/><use href="#m3" x="120.7" y="631.2"/><use href="#m3" x="120.2" y="643.3"/><use href="#m3" x="103.9" y="632.1"/><use href="#m3" x="117.2" y="618.9"/><use href="#m3" x="111.4" y="640.2"/><use href="#m3" x="115.9" y="633.8"/><use href="#m3" x="113.5" y="634.7"/><use href="#m3" x="109.6" y="629.8"/><use href="#m3" x="121.4" y="631.9"/><use href="#m3" x="119.5" y="633.8"/><use href="#m3" x="102.3" y="665.6"/><use href="#m3" x="108.1" y="666.1"/><use href="#m3" x="105.8" y="663.5"/><use href="#m3" x="105.3" y="670.3"/><use href="#m3" x="100.8" y="663.3"/><use href="#m3" x="103.2" y="669.3"/><use href="#m3" x="101.3" y="666.6"/><use href="#m3" x="108.5" y="668.6"/><use href="#m3" x="101.9" y="671.9"/><use href="#m3" x="103.8" y="666.5"/><use href="#m3" x="108.3" y="667.7"/><use href="#m3" x="108.5" y="666.6"/><use href="#m3" x="105.5" y="673.3"/><use href="#m3" x="106.2" y="670.7"/><use href="#m3" x="106.2" y="671.9"/><use href="#m3" x="104.4" y="670.5"/><use href="#m3" x="102.8" y="675.7"/><use href="#m3" x="99.6" y="671.8"/><use href="#m3" x="99.1" y="670.8"/><use href="#m3" x="110.5" y="665.2"/><use href="#m3" x="112.7" y="665.6"/><use href="#m3" x="99.9" y="670.1"/><use href="#m3" x="98.5" y="672.4"/><use href="#m3" x="96.9" y="666.5"/><use href="#m3" x="106" y="665.3"/><use href="#m3" x="97.1" y="648.8"/><use href="#m3" x="96" y="647.8"/><use href="#m3" x="94.5" y="649.9"/><use href="#m3" x="105.6" y="643.6"/><use href="#m3" x="103.7" y="645.2"/><use href="#m3" x="104.1" y="643"/><use href="#m3" x="96.2" y="646.6"/><use href="#m3" x="104.1" y="646.3"/><use href="#m3" x="95.8" y="647.8"/><use href="#m3" x="100.2" y="648.4"/><use href="#m3" x="99.2" y="645.1"/><use href="#m3" x="100.9" y="650.6"/><use href="#m3" x="130.2" y="647.3"/><use href="#m3" x="109.6" y="665.2"/><use href="#m3" x="119.7" y="653.1"/><use href="#m3" x="126.9" y="650.1"/><use href="#m3" x="125.1" y="666.6"/><use href="#m3" x="119.8" y="669.9"/><use href="#m3" x="128.5" y="657.3"/><use href="#m3" x="134.1" y="662.1"/><use href="#m3" x="135.1" y="659.2"/><use href="#m3" x="119" y="667.7"/><use href="#m3" x="123.3" y="648.2"/><use href="#m3" x="133.6" y="659.9"/><use href="#m3" x="124.5" y="655.4"/><use href="#m3" x="130.5" y="670"/><use href="#m3" x="124" y="644.9"/><use href="#m3" x="119.2" y="658.8"/><use href="#m3" x="122.8" y="649.6"/><use href="#m3" x="132" y="660.6"/><use href="#m3" x="122.7" y="657.1"/><use href="#m3" x="118.5" y="650"/><use href="#m3" x="121.4" y="644"/><use href="#m3" x="128.1" y="654.1"/><use href="#m3" x="119.7" y="655.6"/><use href="#m3" x="126" y="648.8"/><use href="#m3" x="118.8" y="648.4"/><use href="#m3" x="155.6" y="610"/><use href="#m3" x="137" y="620.3"/><use href="#m3" x="146.3" y="619.3"/><use href="#m3" x="255.9" y="594.8"/><use href="#m3" x="235.5" y="580.3"/><use href="#m3" x="210.4" y="604.5"/><use href="#m3" x="205.8" y="615.6"/><use href="#m3" x="202.1" y="616.5"/><use href="#m3" x="169.5" y="634.2"/><use href="#m3" x="163" y="635.1"/><use href="#m3" x="151.9" y="632.3"/><use href="#m3" x="181.6" y="646.3"/><use href="#m3" x="177.9" y="650.9"/><use href="#m3" x="172.3" y="658.3"/><use href="#m3" x="168.6" y="660.2"/><use href="#m3" x="164.9" y="650.9"/><use href="#m3" x="152.8" y="654.6"/><use href="#m3" x="129.6" y="651.8"/><use href="#m3" x="134.2" y="651.8"/><use href="#m3" x="112.9" y="663.9"/><use href="#m3" x="104.5" y="661.1"/><use href="#m3" x="118.4" y="663.9"/><use href="#m3" x="122.2" y="649.1"/><use href="#m3" x="114.7" y="642.5"/><use href="#m3" x="107.3" y="641.6"/><use href="#m3" x="99.5" y="646.3"/><use href="#m3" x="103.6" y="645.3"/><use href="#m3" x="124" y="627.7"/><use href="#m3" x="140.7" y="632.3"/><use href="#m3" x="144.5" y="656.5"/><use href="#m3" x="241.1" y="603.5"/><use href="#m3" x="732.5" y="301.6"/><use href="#m3" x="730.7" y="296.3"/><use href="#m3" x="733.6" y="295.3"/><use href="#m3" x="735.3" y="301.9"/><use href="#m3" x="731.9" y="304.6"/><use href="#m3" x="733.6" y="306.8"/><use href="#m3" x="732.7" y="298"/><use href="#m3" x="734" y="296.1"/><use href="#m3" x="728.3" y="317.7"/><use href="#m3" x="724.8" y="319.4"/></g>
<g fill="#00bfff"><use href="#m4" x="348.6" y="303.1"/><use href="#m4" x="351.2" y="307.8"/><use href="#m4" x="344.2" y="316.2"/><use href="#m4" x="370.3" y="318.8"/><use href="#m4" x="451.8" y="359.4"/><use href="#m4" x="455.6" y="359.4"/><use href="#m4" x="460" y="359.4"/><use href="#m4" x="462.3" y="359"/><use href="#m4" x="207.6" y="574.7"/><use href="#m4" x="203" y="582.2"/><use href="#m4" x="208.6" y="584"/><use href="#m4" x="218.8" y="589.6"/><use href="#m4" x="203" y="595.2"/><use href="#m4" x="212.3" y="598"/><use href="#m4" x="198.3" y="602.6"/><use href="#m4" x="199.3" y="604.5"/><use href="#m4" x="190" y="598.9"/><use href="#m4" x="174.2" y="598.9"/><use href="#m4" x="177.9" y="596.1"/><use href="#m4" x="171.4" y="610"/><use href="#m4" x="166.8" y="612.8"/><use href="#m4" x="185.3" y="615.6"/><use href="#m4" x="164" y="617.5"/><use href="#m4" x="149.1" y="623"/><use href="#m4" x="139.8" y="626.8"/><use href="#m4" x="154.7" y="627.7"/><use href="#m4" x="180.7" y="628.6"/><use href="#m4" x="169.5" y="631.4"/><use href="#m4" x="205.8" y="631.4"/><use href="#m4" x="230.9" y="624.9"/><use href="#m4" x="248.5" y="631.4"/><use href="#m4" x="254.5" y="628.6"/><use href="#m4" x="143.5" y="640.7"/><use href="#m4" x="127.7" y="646.3"/><use href="#m4" x="122.2" y="650.9"/><use href="#m4" x="140.7" y="654.6"/><use href="#m4" x="146.3" y="649.1"/><use href="#m4" x="149.1" y="663.9"/><use href="#m4" x="159.3" y="663.9"/><use href="#m4" x="166.8" y="663.9"/><use href="#m4" x="179.8" y="661.1"/><use href="#m4" x="137" y="663.9"/><use href="#m4" x="135.2" y="660.2"/><use href="#m4" x="147.2" y="671.3"/><use href="#m4" x="151.9" y="671.7"/><use href="#m4" x="122.2" y="676"/><use href="#m4" x="127.4" y="676.9"/><use href="#m4" x="142.2" y="678.8"/><use href="#m4" x="145.4" y="685.3"/><use href="#m4" x="162.1" y="680.3"/><use href="#m4" x="205.8" y="572.9"/><use href="#m4" x="172.3" y="611"/><use href="#m4" x="138.9" y="656.5"/><use href="#m4" x="132.4" y="657.4"/><use href="#m4" x="150" y="649.1"/><use href="#m4" x="196.5" y="663.9"/><use href="#m4" x="163" y="665.8"/><use href="#m4" x="628.4" y="661.4"/><use href="#m4" x="575.3" y="751.5"/><use href="#m4" x="582.7" y="749.6"/><use href="#m4" x="585.5" y="750.6"/><use href="#m4" x="590.2" y="760.8"/><use href="#m4" x="592" y="766.3"/><use href="#m4" x="798.6" y="509"/><use href="#m4" x="804.8" y="506.5"/><use href="#m4" x="734.4" y="273.2"/><use href="#m4" x="732.7" y="281.1"/><use href="#m4" x="733.6" y="316.8"/></g>
<g fill="#4b0082"><use href="#m0" x="358.7" y="288.3"/><use href="#m0" x="349.4" y="291.3"/><use href="#m0" x="340.2" y="295.3"/><use href="#m0" x="357.3" y="299.7"/><use href="#m0" x="341.6" y="305.8"/><use href="#m0" x="306.7" y="324.1"/><use href="#m0" x="311.1" y="324.9"/><use href="#m0" x="308.5" y="328.4"/><use href="#m0" x="308.5" y="331.9"/><use href="#m0" x="339" y="322.3"/><use href="#m0" x="350.3" y="321.4"/><use href="#m0" x="361.6" y="326.7"/><use href="#m0" x="310.2" y="327.5"/><use href="#m0" x="225.8" y="612.1"/><use href="#m0" x="189.8" y="639.9"/><use href="#m0" x="157.9" y="637.6"/><use href="#m0" x="159" y="631.5"/><use href="#m0" x="222.6" y="622.4"/><use href="#m0" x="156.4" y="639.9"/><use href="#m0" x="192.7" y="630.7"/><use href="#m0" x="163.6" y="645.2"/><use href="#m0" x="161.9" y="639.6"/><use href="#m0" x="191.1" y="628.4"/><use href="#m0" x="188.5" y="629.8"/><use href="#m0" x="205.1" y="623.2"/><use href="#m0" x="155.2" y="643.3"/><use href="#m0" x="176.5" y="635.3"/><use href="#m0" x="187.6" y="640.1"/><use href="#m0" x="191.8" y="645.2"/><use href="#m0" x="233.6" y="615.8"/><use href="#m0" x="172.4" y="638"/><use href="#m0" x="241.4" y="616.6"/><use href="#m0" x="181.6" y="645.1"/><use href="#m0" x="180.3" y="635.1"/><use href="#m0" x="202.8" y="630.4"/><use href="#m0" x="202.6" y="619.6"/><use href="#m0" x="219.8" y="623.5"/><use href="#m0" x="192.8" y="634.1"/><use href="#m0" x="132.8" y="645.8"/><use href="#m0" x="155.7" y="645.2"/><use href="#m0" x="228" y="620"/><use href="#m0" x="183.4" y="622"/><use href="#m0" x="174" y="636.3"/><use href="#m0" x="180.9" y="639.9"/><use href="#m0" x="225" y="622.3"/><use href="#m0" x="241.1" y="619.3"/><use href="#m0" x="242.9" y="620.3"/><use href="#m0" x="239.2" y="618.4"/><use href="#m0" x="128.7" y="663"/><use href="#m0" x="131.5" y="663.9"/><use href="#m0" x="130.2" y="662.1"/><use href="#m0" x="169.5" y="676.9"/><use href="#m0" x="168.6" y="678.8"/><use href="#m0" x="170.1" y="675.1"/><use href="#m0" x="615.3" y="764.1"/><use href="#m0" x="609.1" y="777.5"/><use href="#m0" x="653.9" y="163.2"/><use href="#m0" x="659.2" y="165"/><use href="#m0" x="666.1" y="136.2"/><use href="#m0" x="658.3" y="134.5"/><use href="#m0" x="703.6" y="155.4"/><use href="#m0" x="718.4" y="169.3"/><use href="#m0" x="731.5" y="174.5"/><use href="#m0" x="736.7" y="174.5"/><use href="#m0" x="742.8" y="177.2"/><use href="#m0" x="763.7" y="178.9"/><use href="#m0" x="765.5" y="187.6"/><use href="#m0" x="739.3" y="185"/><use href="#m0" x="696.6" y="184.1"/><use href="#m0" x="698.4" y="194.6"/><use href="#m0" x="792.5" y="151"/><use href="#m0" x="813.4" y="176.3"/><use href="#m0" x="850.8" y="207.7"/><use href="#m0" x="821.2" y="205.9"/><use href="#m0" x="782.9" y="198.9"/><use href="#m0" x="680.1" y="136.2"/><use href="#m0" x="709.7" y="166.7"/><use href="#m0" x="850.5" y="207.7"/><use href="#m0" x="914.9" y="170.2"/><use href="#m0" x="721.5" y="320.8"/><use href="#m0" x="721.2" y="318"/><use href="#m0" x="716.6" y="322.3"/><use href="#m0" x="720.6" y="320.4"/><use href="#m0" x="719.2" y="319.8"/><use href="#m0" x="723.9" y="319.8"/><use href="#m0" x="724.1" y="314.6"/><use href="#m0" x="725.4" y="316"/><use href="#m0" x="765.8" y="187.3"/><use href="#m0" x="850.3" y="207"/><use href="#m0" x="821.6" y="206.1"/><use href="#m0" x="787.6" y="200.9"/><use href="#m0" x="791.9" y="203.5"/><use href="#m0" x="789.3" y="206.1"/></g>
<g fill="#4b0082"><use href="#m1" x="247.6" y="598"/><use href="#m1" x="249.4" y="600.7"/><use href="#m1" x="156.2" y="614.7"/><use href="#m1" x="682" y="167.2"/><use href="#m1" x="707.6" y="170.6"/><use href="#m1" x="700" y="178.9"/><use href="#m1" x="690.1" y="165.4"/><use href="#m1" x="693.2" y="167.8"/><use href="#m1" x="694.5" y="173.6"/><use href="#m1" x="679.6" y="168.5"/><use href="#m1" x="713.8" y="169.7"/><use href="#m1" x="696.2" y="172.5"/><use href="#m1" x="687" y="162.2"/><use href="#m1" x="717.6" y="170.6"/><use href="#m1" x="685.1" y="175.7"/><use href="#m1" x="691.1" y="164.9"/><use href="#m1" x="690" y="162.4"/><use href="#m1" x="685" y="175.8"/><use href="#m1" x="696.1" y="168.8"/><use href="#m1" x="707.9" y="174.6"/><use href="#m1" x="691.1" y="161.7"/><use href="#m1" x="689.7" y="178"/><use href="#m1" x="685.8" y="183.2"/><use href="#m1" x="692.9" y="162.3"/><use href="#m1" x="690.5" y="179"/><use href="#m1" x="691.9" y="196.7"/><use href="#m1" x="695.9" y="191.8"/><use href="#m1" x="696.8" y="201.6"/><use href="#m1" x="696.1" y="185.8"/><use href="#m1" x="694.6" y="198.2"/><use href="#m1" x="696.4" y="203.6"/><use href="#m1" x="694.6" y="194.8"/><use href="#m1" x="697.1" y="188.9"/><use href="#m1" x="693" y="186.2"/><use href="#m1" x="692.9" y="188.5"/><use href="#m1" x="695.1" y="194.2"/><use href="#m1" x="694.8" y="186.9"/><use href="#m1" x="721.9" y="189.4"/><use href="#m1" x="728.9" y="190.2"/><use href="#m1" x="730.6" y="164.1"/><use href="#m1" x="737.6" y="167.6"/><use href="#m1" x="742.8" y="172.8"/><use href="#m1" x="753.3" y="165.8"/><use href="#m1" x="760.2" y="172.8"/><use href="#m1" x="774.2" y="157.1"/><use href="#m1" x="779.4" y="162.4"/><use href="#m1" x="784.6" y="169.3"/><use href="#m1" x="777.7" y="171.9"/><use href="#m1" x="795.1" y="183.3"/><use href="#m1" x="800.3" y="190.2"/><use href="#m1" x="807.3" y="185"/><use href="#m1" x="814.2" y="192"/><use href="#m1" x="816" y="185"/><use href="#m1" x="767.2" y="214.6"/><use href="#m1" x="777.7" y="212"/><use href="#m1" x="784.6" y="214.6"/><use href="#m1" x="793.3" y="212.9"/><use href="#m1" x="691.4" y="176.3"/><use href="#m1" x="706.2" y="178"/><use href="#m1" x="699.2" y="172.8"/><use href="#m1" x="741.1" y="160.6"/><use href="#m1" x="734.1" y="172.8"/><use href="#m1" x="696.1" y="200.9"/><use href="#m1" x="697" y="206.1"/><use href="#m1" x="767.5" y="214.5"/><use href="#m1" x="778" y="212.2"/><use href="#m1" x="817.2" y="189.6"/><use href="#m1" x="810.2" y="184.4"/><use href="#m1" x="824.2" y="222.7"/><use href="#m1" x="832.9" y="211.4"/><use href="#m1" x="770.2" y="285.4"/><use href="#m1" x="798" y="263.6"/><use href="#m1" x="832.9" y="261.9"/><use href="#m1" x="823.3" y="270.6"/><use href="#m1" x="777.1" y="214"/><use href="#m1" x="782.4" y="214.8"/><use href="#m1" x="773.6" y="224.4"/><use href="#m1" x="778.9" y="235.8"/><use href="#m1" x="773.6" y="241"/><use href="#m1" x="794.5" y="211.4"/><use href="#m1" x="787.6" y="204.4"/><use href="#m1" x="803.3" y="190.5"/><use href="#m1" x="796.3" y="185.2"/><use href="#m1" x="793.1" y="184.9"/><use href="#m1" x="873.4" y="185.6"/><use href="#m1" x="902.2" y="186.3"/><use href="#m1" x="843.7" y="204.6"/><use href="#m1" x="854.9" y="159.2"/><use href="#m1" x="798.8" y="188.4"/><use href="#m1" x="809.6" y="290.4"/><use href="#m1" x="788.3" y="268.6"/><use href="#m1" x="816.8" y="280.1"/><use href="#m1" x="798.6" y="292.9"/><use href="#m1" x="806.8" y="262.3"/><use href="#m1" x="782.6" y="275.7"/><use href="#m1" x="789.6" y="290.1"/><use href="#m1" x="819.2" y="281.7"/><use href="#m1" x="786.9" y="209.8"/><use href="#m1" x="778.8" y="216.1"/><use href="#m1" x="783.3" y="214.5"/><use href="#m1" x="798.9" y="202.5"/><use href="#m1" x="804.3" y="209.4"/><use href="#m1" x="795.9" y="218"/></g>
<g fill="#4b0082"><use href="#m2" x="674.9" y="119.3"/><use href="#m2" x="688.3" y="155.1"/><use href="#m2" x="671.1" y="145.6"/><use href="#m2" x="675.3" y="127.8"/><use href="#m2" x="672" y="133.4"/><use href="#m2" x="660.7" y="147"/><use href="#m2" x="670.9" y="129.2"/><use href="#m2" x="676.2" y="147.9"/><use href="#m2" x="693.4" y="154"/><use href="#m2" x="664.3" y="128.1"/><use href="#m2" x="689.2" y="142.3"/><use href="#m2" x="673.8" y="161.5"/><use href="#m2" x="665.6" y="122.4"/><use href="#m2" x="673.8" y="141.6"/><use href="#m2" x="692.3" y="133.7"/><use href="#m2" x="683.7" y="143.9"/><use href="#m2" x="658" y="131.9"/><use href="#m2" x="674.1" y="160.8"/><use href="#m2" x="666" y="145.7"/><use href="#m2" x="656.8" y="145.1"/><use href="#m2" x="670.6" y="156.9"/><use href="#m2" x="665.4" y="126"/><use href="#m2" x="678.1" y="124.7"/><use href="#m2" x="664.2" y="146.2"/><use href="#m2" x="681.4" y="149.9"/><use href="#m2" x="661.7" y="134.3"/><use href="#m2" x="679" y="153.7"/><use href="#m2" x="680.6" y="125.8"/><use href="#m2" x="666.6" y="134.4"/><use href="#m2" x="696.5" y="145.6"/><use href="#m2" x="664.2" y="124.8"/><use href="#m2" x="668.3" y="133.5"/><use href="#m2" x="664.9" y="158.7"/><use href="#m2" x="677.9" y="121"/><use href="#m2" x="690.6" y="141.3"/><use href="#m2" x="669.5" y="133.7"/><use href="#m2" x="678.8" y="145.5"/><use href="#m2" x="682.5" y="142.2"/><use href="#m2" x="680.9" y="133.5"/><use href="#m2" x="666.2" y="131.7"/><use href="#m2" x="677.6" y="125.3"/><use href="#m2" x="657" y="147"/><use href="#m2" x="682.4" y="162.9"/><use href="#m2" x="685.2" y="156.5"/><use href="#m2" x="692.8" y="157.4"/><use href="#m2" x="673.3" y="138.4"/><use href="#m2" x="677.8" y="148.2"/><use href="#m2" x="675.6" y="139"/><use href="#m2" x="678.6" y="135.6"/><use href="#m2" x="699.3" y="159.2"/><use href="#m2" x="649.6" y="139.9"/><use href="#m2" x="667.5" y="136.6"/><use href="#m2" x="672.4" y="150.8"/><use href="#m2" x="674.4" y="145.3"/><use href="#m2" x="665" y="162.7"/><use href="#m2" x="679.2" y="135"/><use href="#m2" x="661.1" y="136.2"/><use href="#m2" x="670.2" y="142.2"/><use href="#m2" x="685.8" y="135.2"/><use href="#m2" x="679.8" y="137.1"/><use href="#m2" x="671.9" y="131"/><use href="#m2" x="676.2" y="135.5"/><use href="#m2" x="669.5" y="136.2"/><use href="#m2" x="655.8" y="147.7"/><use href="#m2" x="684.8" y="143.1"/><use href="#m2" x="683.3" y="136.4"/><use href="#m2" x="683.4" y="130.2"/><use href="#m2" x="674.8" y="143.7"/><use href="#m2" x="668.8" y="147.4"/><use href="#m2" x="666.3" y="139.8"/><use href="#m2" x="680.2" y="150.5"/><use href="#m2" x="668.9" y="157.4"/><use href="#m2" x="682.3" y="152.9"/><use href="#m2" x="667.5" y="139.8"/><use href="#m2" x="661.5" y="158"/><use href="#m2" x="683.4" y="138.3"/><use href="#m2" x="681.3" y="157.2"/><use href="#m2" x="668.8" y="141.5"/><use href="#m2" x="680.7" y="132.6"/><use href="#m2" x="664.7" y="139.2"/><use href="#m2" x="688.4" y="139.5"/><use href="#m2" x="650.5" y="137.2"/><use href="#m2" x="675.6" y="137.4"/><use href="#m2" x="661.3" y="148"/><use href="#m2" x="679.4" y="130.5"/><use href="#m2" x="666.4" y="133.6"/><use href="#m2" x="661.5" y="130.6"/><use href="#m2" x="685.5" y="156.4"/><use href="#m2" x="683.3" y="156.8"/><use href="#m2" x="676.2" y="147"/><use href="#m2" x="653.1" y="140.3"/><use href="#m2" x="682.2" y="148.3"/><use href="#m2" x="683" y="134.7"/><use href="#m2" x="677" y="126.6"/><use href="#m2" x="671.5" y="138.1"/><use href="#m2" x="691.8" y="154.1"/><use href="#m2" x="691.7" y="149"/><use href="#m2" x="702.2" y="149.7"/><use href="#m2" x="704.3" y="153.9"/><use href="#m2" x="693.9" y="155.9"/><use href="#m2" x="697.5" y="152.9"/><use href="#m2" x="692.4" y="141.6"/><use href="#m2" x="697" y="163.1"/><use href="#m2" x="690.9" y="139.3"/><use href="#m2" x="693.9" y="145.1"/><use href="#m2" x="698.5" y="155.9"/><use href="#m2" x="697.3" y="152.7"/><use href="#m2" x="701.4" y="147"/><use href="#m2" x="694.7" y="151.1"/><use href="#m2" x="699.1" y="157.9"/><use href="#m2" x="702.1" y="150.1"/><use href="#m2" x="691.2" y="142.2"/><use href="#m2" x="702.8" y="153.1"/><use href="#m2" x="716.3" y="152.2"/><use href="#m2" x="706.2" y="151.9"/><use href="#m2" x="683.6" y="137.1"/><use href="#m2" x="703.2" y="149.1"/><use href="#m2" x="691.9" y="154"/><use href="#m2" x="697.6" y="151.1"/><use href="#m2" x="708" y="150.3"/><use href="#m2" x="743.9" y="158.1"/><use href="#m2" x="710.6" y="160.3"/><use href="#m2" x="752.3" y="168.8"/><use href="#m2" x="720.8" y="155.6"/><use href="#m2" x="718.6" y="152.1"/><use href="#m2" x="735" y="158.5"/><use href="#m2" x="752.5" y="157.5"/><use href="#m2" x="725.4" y="152.4"/><use href="#m2" x="709.3" y="163.7"/><use href="#m2" x="756.8" y="168.3"/><use href="#m2" x="739.9" y="165"/><use href="#m2" x="695.5" y="153.8"/><use href="#m2" x="744.7" y="164.7"/><use href="#m2" x="737" y="164.7"/><use href="#m2" x="720.1" y="166.2"/><use href="#m2" x="728.8" y="154.5"/><use href="#m2" x="761.3" y="168"/><use href="#m2" x="735.8" y="166.9"/><use href="#m2" x="767.1" y="168.5"/><use href="#m2" x="735.2" y="153.8"/><use href="#m2" x="730.3" y="167.9"/><use href="#m2" x="720.6" y="152.5"/><use href="#m2" x="706" y="147"/><use href="#m2" x="710.6" y="154.7"/><use href="#m2" x="738.8" y="151.5"/><use href="#m2" x="737.2" y="167.8"/><use href="#m2" x="746.4" y="159.7"/><use href="#m2" x="745.7" y="160.8"/><use href="#m2" x="715.5" y="148.7"/><use href="#m2" x="708.2" y="152.3"/><use href="#m2" x="743.6" y="153.8"/><use href="#m2" x="697.9" y="157.3"/><use href="#m2" x="739.8" y="154.7"/><use href="#m2" x="745.7" y="168.5"/><use href="#m2" x="704.5" y="151.8"/><use href="#m2" x="755.8" y="158.1"/><use href="#m2" x="738.3" y="163.2"/><use href="#m2" x="761.8" y="174"/><use href="#m2" x="727" y="151.4"/><use href="#m2" x="726" y="158.9"/><use href="#m2" x="789.8" y="174.2"/><use href="#m2" x="784.3" y="180.9"/><use href="#m2" x="787.6" y="173"/><use href="#m2" x="791.2" y="176.5"/><use href="#m2" x="789.8" y="180.7"/><use href="#m2" x="783.9" y="177"/><use href="#m2" x="795.9" y="174.2"/><use href="#m2" x="790.8" y="178.5"/><use href="#m2" x="793" y="176"/><use href="#m2" x="782.7" y="172.4"/><use href="#m2" x="790.1" y="174.8"/><use href="#m2" x="788.2" y="173.9"/><use href="#m2" x="779.7" y="178.4"/><use href="#m2" x="783.8" y="182.2"/><use href="#m2" x="857.8" y="133.5"/><use href="#m2" x="852.1" y="134.4"/><use href="#m2" x="860" y="136.1"/><use href="#m2" x="849.6" y="139.2"/><use href="#m2" x="854" y="139.2"/><use href="#m2" x="856" y="132.9"/><use href="#m2" x="854.2" y="138.9"/><use href="#m2" x="853.8" y="141.3"/><use href="#m2" x="852.9" y="141.6"/><use href="#m2" x="850.8" y="131.8"/><use href="#m2" x="866.3" y="150.4"/><use href="#m2" x="862.8" y="148.3"/><use href="#m2" x="860.4" y="143"/><use href="#m2" x="864.1" y="152.3"/><use href="#m2" x="862.9" y="141.3"/><use href="#m2" x="866.3" y="144.9"/><use href="#m2" x="864.6" y="143.7"/><use href="#m2" x="868.9" y="147.4"/><use href="#m2" x="677.5" y="122.3"/><use href="#m2" x="687.4" y="124"/><use href="#m2" x="728" y="150.2"/><use href="#m2" x="722.8" y="149.3"/><use href="#m2" x="657.4" y="145.8"/><use href="#m2" x="700.1" y="139.7"/><use href="#m2" x="714.9" y="146.7"/><use href="#m2" x="897.8" y="151.6"/><use href="#m2" x="898.3" y="149.3"/><use href="#m2" x="894.8" y="153.7"/><use href="#m2" x="893.5" y="149.5"/><use href="#m2" x="895.3" y="146.5"/><use href="#m2" x="894.4" y="148.1"/><use href="#m2" x="899.5" y="154.9"/><use href="#m2" x="895.8" y="150"/><use href="#m2" x="896.2" y="152.1"/><use href="#m2" x="914.1" y="169.3"/><use href="#m2" x="917.5" y="132.7"/><use href="#m2" x="941.9" y="131"/><use href="#m2" x="967.2" y="165"/><use href="#m2" x="962" y="169.3"/><use href="#m2" x="992.5" y="149.3"/><use href="#m2" x="985.5" y="151"/><use href="#m2" x="1000.3" y="153.6"/><use href="#m2" x="926.3" y="190.2"/><use href="#m2" x="726.7" y="316.5"/><use href="#m2" x="721.8" y="315.4"/><use href="#m2" x="720.6" y="318"/><use href="#m2" x="714.5" y="322.6"/><use href="#m2" x="721.3" y="316.9"/><use href="#m2" x="720.5" y="318.9"/><use href="#m2" x="726.8" y="316.5"/><use href="#m2" x="720.7" y="317.9"/><use href="#m2" x="721" y="320.7"/><use href="#m2" x="723" y="316.3"/><use href="#m2" x="728.2" y="316.6"/><use href="#m2" x="719.3" y="320.7"/><use href="#m2" x="723.3" y="318.3"/><use href="#m2" x="724.7" y="315.9"/><use href="#m2" x="719.1" y="317.1"/><use href="#m2" x="723.3" y="317.2"/><use href="#m2" x="715.3" y="321.7"/><use href="#m2" x="723.9" y="317.5"/><use href="#m2" x="721.7" y="319.9"/><use href="#m2" x="718.5" y="316.5"/><use href="#m2" x="726.8" y="312.3"/><use href="#m2" x="725" y="320.5"/><use href="#m2" x="903.8" y="175.9"/><use href="#m2" x="901.6" y="165.6"/><use href="#m2" x="927" y="135.9"/><use href="#m2" x="848.6" y="154.2"/><use href="#m2" x="931" y="200.6"/><use href="#m2" x="847.7" y="187.8"/><use href="#m2" x="887" y="150.2"/><use href="#m2" x="829.1" y="216.7"/><use href="#m2" x="935.9" y="134.2"/><use href="#m2" x="825.5" y="187.9"/><use href="#m2" x="790.5" y="307.2"/><use href="#m2" x="809.5" y="290.1"/><use href="#m2" x="800.2" y="301.1"/><use href="#m2" x="795.4" y="295"/><use href="#m2" x="786.5" y="284.9"/><use href="#m2" x="805.9" y="295.1"/><use href="#m2" x="784.2" y="296.3"/><use href="#m2" x="786.5" y="287.5"/><use href="#m2" x="795.8" y="298"/><use href="#m2" x="809.8" y="285.6"/><use href="#m2" x="776.5" y="260.8"/><use href="#m2" x="771.4" y="258.7"/><use href="#m2" x="773.4" y="258.9"/><use href="#m2" x="767.4" y="259.9"/><use href="#m2" x="774.6" y="258.8"/><use href="#m2" x="786.5" y="214.2"/><use href="#m2" x="785" y="235"/><use href="#m2" x="771" y="215.7"/><use href="#m2" x="789.2" y="235.3"/><use href="#m2" x="781.3" y="222.8"/><use href="#m2" x="785" y="219.9"/><use href="#m2" x="778.3" y="200.9"/><use href="#m2" x="781.2" y="248.9"/><use href="#m2" x="775.8" y="217.8"/><use href="#m2" x="789.7" y="236.5"/><use href="#m2" x="810.8" y="219.6"/><use href="#m2" x="789.9" y="211.5"/><use href="#m2" x="774" y="216.4"/><use href="#m2" x="783" y="232.8"/><use href="#m2" x="772.3" y="254.6"/><use href="#m2" x="771" y="253.4"/><use href="#m2" x="768" y="253.3"/><use href="#m2" x="769.7" y="259.3"/><use href="#m2" x="781.6" y="255.1"/><use href="#m2" x="773.8" y="259"/><use href="#m2" x="781.7" y="298.7"/><use href="#m2" x="792" y="291.9"/><use href="#m2" x="786" y="297.5"/><use href="#m2" x="785.3" y="290.4"/><use href="#m2" x="786.7" y="283.1"/><use href="#m2" x="812.3" y="278.4"/><use href="#m2" x="812.7" y="276.3"/><use href="#m2" x="809.2" y="292.6"/></g>
<g fill="#4b0082"><use href="#m3" x="464.2" y="352.7"/><use href="#m3" x="419.2" y="342.7"/><use href="#m3" x="658.4" y="721.4"/><use href="#m3" x="650.6" y="727.7"/><use href="#m3" x="672.3" y="727.3"/><use href="#m3" x="665.4" y="733.5"/><use href="#m3" x="653.3" y="744.6"/><use href="#m3" x="808.6" y="505.9"/><use href="#m3" x="806.1" y="513.2"/><use href="#m3" x="803.8" y="523.6"/><use href="#m3" x="988" y="394"/><use href="#m3" x="984.5" y="401"/><use href="#m3" x="983.6" y="407.6"/><use href="#m3" x="1002.8" y="398.9"/><use href="#m3" x="1014.1" y="408.8"/><use href="#m3" x="995" y="400.1"/><use href="#m3" x="1028.1" y="395.8"/><use href="#m3" x="990.6" y="403.6"/><use href="#m3" x="991.5" y="404.8"/><use href="#m3" x="777.1" y="263.6"/><use href="#m3" x="778" y="261.9"/><use href="#m3" x="806.7" y="258.4"/><use href="#m3" x="852" y="254.9"/><use href="#m3" x="830.3" y="243.6"/><use href="#m3" x="803" y="301.2"/><use href="#m3" x="808.7" y="300.3"/><use href="#m3" x="798.2" y="299.2"/><use href="#m3" x="804.7" y="301.2"/></g>
<g fill="#4b0082"><use href="#m4" x="418.3" y="342.4"/><use href="#m4" x="643.7" y="332.2"/><use href="#m4" x="623.4" y="343.3"/><use href="#m4" x="615.4" y="345.6"/><use href="#m4" x="530.2" y="356.5"/><use href="#m4" x="535.6" y="357.5"/><use href="#m4" x="223.4" y="681.2"/><use href="#m4" x="225.3" y="681.8"/><use href="#m4" x="228.1" y="682.5"/><use href="#m4" x="647.4" y="711.2"/><use href="#m4" x="653.7" y="710.6"/><use href="#m4" x="654.3" y="710.2"/><use href="#m4" x="661.3" y="711.2"/><use href="#m4" x="652.4" y="721.4"/><use href="#m4" x="562.3" y="757.4"/><use href="#m4" x="608.4" y="755.2"/><use href="#m4" x="601.3" y="771"/><use href="#m4" x="599.5" y="774.7"/><use href="#m4" x="602.2" y="777.5"/><use href="#m4" x="592" y="773.4"/><use href="#m4" x="590.2" y="772.9"/><use href="#m4" x="599.8" y="776.6"/><use href="#m4" x="739.5" y="495.5"/><use href="#m4" x="747.2" y="504.1"/><use href="#m4" x="749" y="497.3"/><use href="#m4" x="762.2" y="496.5"/><use href="#m4" x="758.2" y="498.7"/><use href="#m4" x="743.9" y="498.6"/><use href="#m4" x="754.2" y="495.9"/><use href="#m4" x="751.4" y="506.3"/><use href="#m4" x="757.1" y="502.3"/><use href="#m4" x="748.4" y="498.2"/><use href="#m4" x="755.3" y="500.2"/><use href="#m4" x="753.6" y="504.6"/><use href="#m4" x="742" y="497"/><use href="#m4" x="755.6" y="500.1"/><use href="#m4" x="728.5" y="504.2"/><use href="#m4" x="739.6" y="501.3"/><use href="#m4" x="743.8" y="502.7"/><use href="#m4" x="778.3" y="520.5"/><use href="#m4" x="779.3" y="524.7"/><use href="#m4" x="785.6" y="527.4"/><use href="#m4" x="770.3" y="528.2"/><use href="#m4" x="780" y="532"/><use href="#m4" x="766.4" y="535.1"/><use href="#m4" x="993.6" y="367"/><use href="#m4" x="995.8" y="370"/><use href="#m4" x="989.7" y="377.5"/><use href="#m4" x="993.2" y="376.6"/><use href="#m4" x="1006.3" y="374"/><use href="#m4" x="1007.2" y="377.5"/><use href="#m4" x="1002.8" y="380.1"/><use href="#m4" x="1013.3" y="381.8"/><use href="#m4" x="1017.6" y="378"/><use href="#m4" x="1026.3" y="380.9"/><use href="#m4" x="1027.2" y="385.7"/><use href="#m4" x="963.6" y="412.3"/><use href="#m4" x="976.1" y="417.2"/><use href="#m4" x="981.4" y="416.3"/><use href="#m4" x="990.6" y="412.3"/><use href="#m4" x="998.4" y="424.2"/><use href="#m4" x="1005.4" y="375.7"/><use href="#m4" x="816" y="214.6"/><use href="#m4" x="791.6" y="198.9"/><use href="#m4" x="868.4" y="222.3"/><use href="#m4" x="861.7" y="246.2"/><use href="#m4" x="858.3" y="211.1"/><use href="#m4" x="857.4" y="209.4"/><use href="#m4" x="816.3" y="215.7"/><use href="#m4" x="811.1" y="223.2"/><use href="#m4" x="781.5" y="224.4"/><use href="#m4" x="785.5" y="229.7"/><use href="#m4" x="798.9" y="221.8"/><use href="#m4" x="788.4" y="244.5"/><use href="#m4" x="818.1" y="245.9"/><use href="#m4" x="816.3" y="255.3"/><use href="#m4" x="805" y="258.4"/><use href="#m4" x="805.9" y="261.9"/><use href="#m4" x="771" y="295"/><use href="#m4" x="768.4" y="302.8"/><use href="#m4" x="772.8" y="302"/><use href="#m4" x="781.5" y="304.2"/><use href="#m4" x="824.2" y="284.5"/><use href="#m4" x="817.2" y="289.8"/><use href="#m4" x="833.8" y="248"/><use href="#m4" x="846" y="244.5"/><use href="#m4" x="853.8" y="245.3"/><use href="#m4" x="849.4" y="239.2"/><use href="#m4" x="845.1" y="254.9"/><use href="#m4" x="857.3" y="211"/><use href="#m4" x="867.7" y="222.7"/><use href="#m4" x="791.1" y="198.8"/><use href="#m4" x="825.9" y="282.8"/><use href="#m4" x="825" y="286.3"/><use href="#m4" x="797.2" y="220.9"/><use href="#m4" x="759.7" y="192.2"/><use href="#m4" x="795.5" y="296.8"/><use href="#m4" x="789.1" y="310"/><use href="#m4" x="800.1" y="294.4"/><use href="#m4" x="804.5" y="295.2"/><use href="#m4" x="796.3" y="295.8"/><use href="#m4" x="791.2" y="303.4"/><use href="#m4" x="797.6" y="289.7"/><use href="#m4" x="808.6" y="300.9"/><use href="#m4" x="802.2" y="291.3"/><use href="#m4" x="790.2" y="300.4"/><use href="#m4" x="810.4" y="300.8"/><use href="#m4" x="797.7" y="294.9"/><use href="#m4" x="807.9" y="303.9"/></g>
<g fill="#adff2f"><use href="#m0" x="647.4" y="320.1"/><use href="#m0" x="642.2" y="322.1"/><use href="#m0" x="644.1" y="323.6"/><use href="#m0" x="631.3" y="327"/><use href="#m0" x="630.3" y="343.1"/><use href="#m0" x="622.1" y="346.6"/><use href="#m0" x="618.3" y="338.9"/><use href="#m0" x="613.5" y="339.9"/><use href="#m0" x="608.3" y="341.8"/><use href="#m0" x="617.3" y="350.4"/><use href="#m0" x="617.3" y="357.1"/><use href="#m0" x="621.5" y="358.4"/><use href="#m0" x="598.2" y="361.5"/><use href="#m0" x="765.7" y="473.9"/><use href="#m0" x="768.9" y="475.5"/><use href="#m0" x="774.7" y="493.7"/><use href="#m0" x="773.5" y="526.8"/><use href="#m0" x="770.3" y="542.5"/><use href="#m0" x="774.5" y="541.8"/><use href="#m0" x="773.1" y="552.3"/><use href="#m0" x="776.2" y="553.3"/><use href="#m0" x="990.3" y="391.1"/><use href="#m0" x="1000.5" y="394"/><use href="#m0" x="989.7" y="418.4"/><use href="#m0" x="998.4" y="426.3"/><use href="#m0" x="1009.3" y="416.1"/><use href="#m0" x="1017.6" y="418.4"/><use href="#m0" x="1021.6" y="423.3"/><use href="#m0" x="1035.6" y="439.3"/><use href="#m0" x="762.7" y="312.3"/><use href="#m0" x="784.5" y="310.6"/><use href="#m0" x="794.1" y="311.8"/><use href="#m0" x="820.2" y="310"/><use href="#m0" x="826.3" y="306.6"/><use href="#m0" x="774.6" y="324"/><use href="#m0" x="785.4" y="327.1"/><use href="#m0" x="794.6" y="324.8"/><use href="#m0" x="797.6" y="329.2"/><use href="#m0" x="817.6" y="330.1"/><use href="#m0" x="757.5" y="340.5"/><use href="#m0" x="777.5" y="340.2"/><use href="#m0" x="786.6" y="344.4"/><use href="#m0" x="818.5" y="340.5"/><use href="#m0" x="819.7" y="349.2"/><use href="#m0" x="815.9" y="354.1"/><use href="#m0" x="784.5" y="358.3"/><use href="#m0" x="785.4" y="373.3"/><use href="#m0" x="792.4" y="370.5"/><use href="#m0" x="798.4" y="373.3"/><use href="#m0" x="790.6" y="377.1"/><use href="#m0" x="805.4" y="379.4"/><use href="#m0" x="808.6" y="376.8"/><use href="#m0" x="842.5" y="378"/><use href="#m0" x="820.6" y="407.3"/><use href="#m0" x="827.5" y="408.1"/><use href="#m0" x="792.4" y="313.5"/><use href="#m0" x="795.5" y="310.9"/><use href="#m0" x="985.4" y="135.3"/><use href="#m0" x="976.4" y="129.2"/><use href="#m0" x="973.5" y="131.2"/><use href="#m0" x="974.2" y="135.4"/><use href="#m0" x="975.8" y="141.2"/><use href="#m0" x="989.5" y="128.7"/><use href="#m0" x="976.4" y="136.2"/><use href="#m0" x="973.1" y="132.4"/><use href="#m0" x="968.9" y="130.7"/><use href="#m0" x="982.8" y="127.4"/><use href="#m0" x="983.1" y="130.4"/><use href="#m0" x="979.9" y="134"/><use href="#m0" x="956.8" y="136.8"/><use href="#m0" x="984.7" y="140.6"/><use href="#m0" x="991.1" y="128.7"/><use href="#m0" x="965.9" y="134.6"/><use href="#m0" x="976.7" y="133.5"/><use href="#m0" x="979" y="122.2"/><use href="#m0" x="982.6" y="128.6"/><use href="#m0" x="969.2" y="126"/><use href="#m0" x="979.2" y="128"/><use href="#m0" x="957.5" y="140.2"/><use href="#m0" x="972.6" y="121.9"/><use href="#m0" x="983.6" y="128.1"/><use href="#m0" x="979" y="122.6"/><use href="#m0" x="974.1" y="136.3"/><use href="#m0" x="982.8" y="125.2"/><use href="#m0" x="979.4" y="141.9"/><use href="#m0" x="969.7" y="138.6"/><use href="#m0" x="965" y="139"/><use href="#m0" x="975.2" y="134.7"/><use href="#m0" x="977" y="131.1"/><use href="#m0" x="962" y="110.1"/><use href="#m0" x="974.2" y="119.7"/><use href="#m0" x="964.6" y="124.9"/><use href="#m0" x="988.1" y="113.6"/><use href="#m0" x="993.3" y="120.5"/><use href="#m0" x="1002" y="113.6"/><use href="#m0" x="932.4" y="112.7"/><use href="#m0" x="947.2" y="128.4"/><use href="#m0" x="935" y="136.2"/><use href="#m0" x="881.8" y="155.4"/><use href="#m0" x="910.5" y="226.2"/><use href="#m0" x="921" y="227.9"/><use href="#m0" x="914.9" y="234"/><use href="#m0" x="863.5" y="249.7"/><use href="#m0" x="792.3" y="293.7"/><use href="#m0" x="803.4" y="276.8"/><use href="#m0" x="791.6" y="288.2"/><use href="#m0" x="799.5" y="291"/><use href="#m0" x="788.4" y="297.7"/><use href="#m0" x="797" y="291.7"/><use href="#m0" x="805.8" y="300.5"/><use href="#m0" x="800.3" y="293.4"/><use href="#m0" x="805.2" y="288"/><use href="#m0" x="795.6" y="290.1"/><use href="#m0" x="790.9" y="291.6"/><use href="#m0" x="796" y="296.8"/><use href="#m0" x="815.1" y="297.4"/><use href="#m0" x="782.5" y="296.7"/><use href="#m0" x="791.6" y="281.6"/><use href="#m0" x="793.3" y="297.7"/><use href="#m0" x="789.7" y="281.7"/><use href="#m0" x="802.7" y="282.8"/><use href="#m0" x="793" y="281.3"/><use href="#m0" x="802.1" y="299.3"/><use href="#m0" x="811.7" y="293.9"/><use href="#m0" x="800.7" y="284.1"/><use href="#m0" x="791.8" y="310.2"/><use href="#m0" x="784" y="293.5"/><use href="#m0" x="806.7" y="289.6"/><use href="#m0" x="810" y="282.9"/><use href="#m0" x="793.7" y="296"/><use href="#m0" x="793.8" y="294.8"/><use href="#m0" x="798.3" y="300.5"/><use href="#m0" x="809.4" y="289.6"/><use href="#m0" x="803.7" y="281.8"/><use href="#m0" x="801.7" y="286.7"/><use href="#m0" x="811.6" y="289.7"/><use href="#m0" x="781.9" y="303.3"/><use href="#m0" x="786.5" y="298"/><use href="#m0" x="817.6" y="301.4"/><use href="#m0" x="806.3" y="293.9"/><use href="#m0" x="804.2" y="288.6"/><use href="#m0" x="785.7" y="309"/><use href="#m0" x="802.3" y="291.8"/><use href="#m0" x="805" y="294.5"/><use href="#m0" x="805.4" y="299.3"/><use href="#m0" x="804.3" y="301"/><use href="#m0" x="795.7" y="292.2"/><use href="#m0" x="787" y="293.2"/><use href="#m0" x="801.3" y="300.7"/><use href="#m0" x="790.6" y="295.4"/><use href="#m0" x="798.2" y="293.6"/><use href="#m0" x="763.2" y="258.9"/><use href="#m0" x="795.3" y="250.6"/><use href="#m0" x="774.1" y="257.6"/><use href="#m0" x="784.1" y="249.1"/><use href="#m0" x="782.6" y="252.4"/><use href="#m0" x="772.8" y="257.6"/><use href="#m0" x="769.9" y="258.3"/><use href="#m0" x="778.7" y="250"/><use href="#m0" x="782" y="253.4"/><use href="#m0" x="777" y="251.5"/><use href="#m0" x="773" y="258"/><use href="#m0" x="781.9" y="258.4"/><use href="#m0" x="766.7" y="262.5"/><use href="#m0" x="774.7" y="252.9"/><use href="#m0" x="782.9" y="251.5"/><use href="#m0" x="776.7" y="244"/><use href="#m0" x="777.9" y="255.6"/><use href="#m0" x="773.9" y="247.2"/><use href="#m0" x="780.6" y="263.9"/><use href="#m0" x="785.9" y="252.3"/><use href="#m0" x="812.1" y="263.6"/><use href="#m0" x="793" y="274.1"/><use href="#m0" x="804.8" y="259.2"/><use href="#m0" x="803.7" y="269.1"/><use href="#m0" x="800.9" y="258.9"/><use href="#m0" x="794.6" y="266.3"/><use href="#m0" x="818.6" y="262.9"/><use href="#m0" x="798.6" y="274.6"/><use href="#m0" x="790.5" y="271.8"/><use href="#m0" x="810.6" y="261.7"/><use href="#m0" x="795.3" y="263.4"/><use href="#m0" x="800.8" y="274.3"/><use href="#m0" x="812.2" y="271.3"/><use href="#m0" x="789.8" y="269"/><use href="#m0" x="762.3" y="312.4"/><use href="#m0" x="774.5" y="323.8"/><use href="#m0" x="785" y="309.8"/><use href="#m0" x="792.8" y="313.3"/><use href="#m0" x="795.4" y="310.7"/><use href="#m0" x="794.5" y="323.8"/><use href="#m0" x="785" y="326.4"/><use href="#m0" x="820.7" y="309.8"/><use href="#m0" x="826.8" y="306.3"/><use href="#m0" x="810.2" y="243.6"/><use href="#m0" x="829.4" y="234.9"/><use href="#m0" x="826.8" y="256.7"/><use href="#m0" x="826.8" y="263.6"/><use href="#m0" x="841.6" y="246.2"/><use href="#m0" x="856.4" y="235.4"/><use href="#m0" x="863.4" y="249.7"/><use href="#m0" x="780.6" y="282.8"/><use href="#m0" x="788.4" y="280.2"/><use href="#m0" x="777.1" y="291.5"/></g>
<g fill="#adff2f"><use href="#m1" x="248.4" y="268.3"/><use href="#m1" x="244" y="276.5"/><use href="#m1" x="243.1" y="277.9"/><use href="#m1" x="206" y="306.1"/><use href="#m1" x="206.7" y="306.8"/><use href="#m1" x="205.3" y="305.8"/><use href="#m1" x="207.4" y="306.1"/><use href="#m1" x="292.8" y="321.4"/><use href="#m1" x="267.5" y="333.3"/><use href="#m1" x="266.7" y="335.4"/><use href="#m1" x="268.4" y="331.5"/><use href="#m1" x="285.5" y="329.3"/><use href="#m1" x="285.5" y="335"/><use href="#m1" x="269.6" y="351.4"/><use href="#m1" x="285.5" y="357.5"/><use href="#m1" x="225.7" y="373.7"/><use href="#m1" x="226.6" y="378.1"/><use href="#m1" x="234.4" y="381"/><use href="#m1" x="265.3" y="375.1"/><use href="#m1" x="291.4" y="378.6"/><use href="#m1" x="275.4" y="304.9"/><use href="#m1" x="228.1" y="562.7"/><use href="#m1" x="229" y="565.4"/><use href="#m1" x="229" y="571"/><use href="#m1" x="228.1" y="572.9"/><use href="#m1" x="239.2" y="567.3"/><use href="#m1" x="247.6" y="570.1"/><use href="#m1" x="209.5" y="575.7"/><use href="#m1" x="213.2" y="580.3"/><use href="#m1" x="189.4" y="588.1"/><use href="#m1" x="181.6" y="594.2"/><use href="#m1" x="229.9" y="589.6"/><use href="#m1" x="233.6" y="593.7"/><use href="#m1" x="235.5" y="598.9"/><use href="#m1" x="241.1" y="602.6"/><use href="#m1" x="207.6" y="609.1"/><use href="#m1" x="216.5" y="612.3"/><use href="#m1" x="225.3" y="611"/><use href="#m1" x="155.6" y="619.3"/><use href="#m1" x="159.3" y="620.3"/><use href="#m1" x="129.6" y="631.4"/><use href="#m1" x="233.6" y="614.7"/><use href="#m1" x="235.5" y="616.5"/><use href="#m1" x="597.2" y="675.3"/><use href="#m1" x="600.4" y="679"/><use href="#m1" x="613.4" y="682.4"/><use href="#m1" x="579" y="752.4"/><use href="#m1" x="581.8" y="754.3"/><use href="#m1" x="589.2" y="751.1"/><use href="#m1" x="588.7" y="755.2"/><use href="#m1" x="590.2" y="760.8"/><use href="#m1" x="591.1" y="766.3"/><use href="#m1" x="586.5" y="770.1"/><use href="#m1" x="584.6" y="771.9"/><use href="#m1" x="579.9" y="751.5"/><use href="#m1" x="787.7" y="517.4"/><use href="#m1" x="789.8" y="520.5"/><use href="#m1" x="786.6" y="534.5"/><use href="#m1" x="790.4" y="534.1"/><use href="#m1" x="788.3" y="519"/><use href="#m1" x="770.2" y="339.7"/><use href="#m1" x="809.4" y="337.4"/><use href="#m1" x="794.1" y="353.9"/><use href="#m1" x="795.5" y="353.6"/><use href="#m1" x="925.3" y="258.4"/></g>
<g fill="#adff2f"><use href="#m2" x="248.4" y="318.3"/><use href="#m2" x="263.5" y="324.4"/><use href="#m2" x="295.1" y="335.4"/><use href="#m2" x="298" y="336.8"/><use href="#m2" x="301.5" y="338.5"/><use href="#m2" x="305" y="338"/><use href="#m2" x="309.9" y="339.7"/><use href="#m2" x="366.5" y="308.4"/><use href="#m2" x="346.8" y="323.5"/><use href="#m2" x="359" y="327.5"/><use href="#m2" x="364.2" y="350.7"/><use href="#m2" x="271.9" y="375.8"/><use href="#m2" x="278" y="374.6"/><use href="#m2" x="371.2" y="317.1"/><use href="#m2" x="339" y="320.6"/><use href="#m2" x="222.5" y="598.9"/><use href="#m2" x="177.9" y="614.1"/><use href="#m2" x="191.3" y="613.4"/><use href="#m2" x="205.8" y="609.1"/><use href="#m2" x="233.6" y="611.9"/><use href="#m2" x="242.9" y="611.9"/><use href="#m2" x="133.3" y="635.1"/><use href="#m2" x="220.6" y="580.3"/><use href="#m2" x="793.6" y="499.6"/><use href="#m2" x="788.7" y="518.4"/><use href="#m2" x="790.8" y="516.3"/><use href="#m2" x="809.9" y="126.6"/><use href="#m2" x="806.4" y="151.9"/><use href="#m2" x="845.6" y="121.4"/><use href="#m2" x="740.2" y="192.8"/><use href="#m2" x="799.4" y="144.9"/><use href="#m2" x="859.2" y="119.7"/><use href="#m2" x="845.2" y="121.4"/><use href="#m2" x="862.7" y="149.3"/><use href="#m2" x="985.5" y="151"/><use href="#m2" x="992.5" y="149.3"/><use href="#m2" x="960.2" y="169.3"/><use href="#m2" x="940.2" y="172.8"/><use href="#m2" x="919.3" y="200.7"/><use href="#m2" x="888.8" y="199.8"/><use href="#m2" x="843.5" y="204.2"/><use href="#m2" x="866.1" y="178.9"/><use href="#m2" x="1018.6" y="158.9"/><use href="#m2" x="987.2" y="217.2"/><use href="#m2" x="987.2" y="217.1"/><use href="#m2" x="887.9" y="200"/><use href="#m2" x="919.2" y="200.9"/><use href="#m2" x="914" y="241"/><use href="#m2" x="887" y="266.3"/><use href="#m2" x="885.3" y="260.2"/><use href="#m2" x="740.5" y="192.2"/><use href="#m2" x="887.8" y="266.3"/><use href="#m2" x="931.2" y="150"/><use href="#m2" x="878.9" y="249.1"/><use href="#m2" x="900.6" y="234.1"/><use href="#m2" x="876.4" y="188.2"/><use href="#m2" x="895.8" y="138.9"/><use href="#m2" x="891.4" y="226.8"/><use href="#m2" x="907.6" y="166"/><use href="#m2" x="971.2" y="121.2"/><use href="#m2" x="909.6" y="215.1"/><use href="#m2" x="894.2" y="203.3"/><use href="#m2" x="832" y="205.6"/><use href="#m2" x="890.5" y="145.2"/><use href="#m2" x="849.8" y="183.3"/><use href="#m2" x="888.7" y="196.6"/><use href="#m2" x="863.3" y="143.3"/></g>
<g fill="#adff2f"><use href="#m3" x="254.5" y="274.4"/><use href="#m3" x="256.7" y="285.7"/><use href="#m3" x="254.5" y="280.5"/><use href="#m3" x="275.4" y="289.7"/><use href="#m3" x="255.3" y="314.8"/><use href="#m3" x="275.4" y="320.6"/><use href="#m3" x="346.3" y="291.8"/><use href="#m3" x="356.4" y="302.3"/><use href="#m3" x="364.2" y="340.6"/><use href="#m3" x="372.1" y="344.1"/><use href="#m3" x="375.6" y="330.2"/><use href="#m3" x="379.9" y="327.5"/><use href="#m3" x="382.5" y="327.5"/><use href="#m3" x="396.5" y="327.5"/><use href="#m3" x="406.9" y="326.7"/><use href="#m3" x="406.1" y="337.1"/><use href="#m3" x="411.3" y="340.6"/><use href="#m3" x="413.9" y="334.5"/><use href="#m3" x="400.8" y="335.4"/><use href="#m3" x="407.8" y="341.5"/><use href="#m3" x="410.4" y="338.9"/><use href="#m3" x="416.5" y="338"/><use href="#m3" x="418.3" y="339.7"/><use href="#m3" x="419.7" y="341.5"/><use href="#m3" x="382.9" y="327.4"/><use href="#m3" x="396.3" y="327.4"/><use href="#m3" x="407.4" y="327"/><use href="#m3" x="407.4" y="330.3"/><use href="#m3" x="424" y="326.5"/><use href="#m3" x="427.8" y="327"/><use href="#m3" x="433.6" y="326.5"/><use href="#m3" x="437.4" y="326.1"/><use href="#m3" x="440.3" y="326.5"/><use href="#m3" x="445.1" y="326.5"/><use href="#m3" x="428.8" y="332.2"/><use href="#m3" x="425.9" y="337"/><use href="#m3" x="421.1" y="337.9"/><use href="#m3" x="413.5" y="334.1"/><use href="#m3" x="406.8" y="337"/><use href="#m3" x="411.6" y="340.8"/><use href="#m3" x="408.7" y="342.3"/><use href="#m3" x="416.4" y="339.9"/><use href="#m3" x="422.5" y="345.6"/><use href="#m3" x="443.5" y="343.3"/><use href="#m3" x="401.1" y="333.2"/><use href="#m3" x="410.6" y="338.9"/><use href="#m3" x="414.4" y="341.2"/><use href="#m3" x="418.3" y="337"/><use href="#m3" x="407.8" y="341.2"/><use href="#m3" x="412.5" y="342.7"/><use href="#m3" x="454.6" y="353.6"/><use href="#m3" x="459.4" y="354.2"/><use href="#m3" x="469" y="355.6"/><use href="#m3" x="473.8" y="353.6"/><use href="#m3" x="472.8" y="347.5"/><use href="#m3" x="474.7" y="348.1"/><use href="#m3" x="479.5" y="353.3"/><use href="#m3" x="484.9" y="354.2"/><use href="#m3" x="486.8" y="354.2"/><use href="#m3" x="492" y="354.2"/><use href="#m3" x="498.7" y="354.2"/><use href="#m3" x="450.8" y="357.1"/><use href="#m3" x="456.6" y="356.1"/><use href="#m3" x="471.9" y="350.4"/><use href="#m3" x="462.3" y="355.6"/><use href="#m3" x="235.5" y="580.3"/><use href="#m3" x="755.3" y="466.1"/><use href="#m3" x="759.5" y="466.8"/><use href="#m3" x="765.3" y="468.9"/><use href="#m3" x="661.8" y="170.2"/><use href="#m3" x="675.7" y="187.6"/><use href="#m3" x="752.4" y="186.7"/><use href="#m3" x="757.6" y="194.6"/><use href="#m3" x="775.9" y="196.3"/><use href="#m3" x="784.6" y="183.3"/><use href="#m3" x="804.7" y="214.6"/><use href="#m3" x="825.6" y="116.7"/><use href="#m3" x="757.6" y="200.7"/><use href="#m3" x="948.9" y="90.6"/><use href="#m3" x="1010.8" y="111.8"/><use href="#m3" x="1002" y="112.7"/><use href="#m3" x="982.9" y="136.2"/><use href="#m3" x="936.7" y="192.8"/><use href="#m3" x="954.1" y="189.4"/><use href="#m3" x="936.7" y="193.1"/><use href="#m3" x="900.9" y="241"/><use href="#m3" x="752.7" y="186.6"/><use href="#m3" x="775.4" y="196.6"/><use href="#m3" x="758" y="194.8"/><use href="#m3" x="749.2" y="214.8"/><use href="#m3" x="751.9" y="224.4"/><use href="#m3" x="748.4" y="224.4"/><use href="#m3" x="742.3" y="227.9"/><use href="#m3" x="735.3" y="227.9"/><use href="#m3" x="738.8" y="232.3"/><use href="#m3" x="736.2" y="234"/><use href="#m3" x="730.9" y="237.5"/><use href="#m3" x="733.6" y="241"/><use href="#m3" x="734.4" y="244.5"/><use href="#m3" x="727.5" y="247.1"/><use href="#m3" x="713.5" y="248"/><use href="#m3" x="731.8" y="255.8"/><use href="#m3" x="720.5" y="272.4"/><use href="#m3" x="716.1" y="275"/><use href="#m3" x="730.1" y="293.3"/><use href="#m3" x="734.4" y="304.6"/><use href="#m3" x="730.1" y="314.2"/><use href="#m3" x="725.7" y="315.9"/><use href="#m3" x="723.1" y="318.5"/><use href="#m3" x="804.1" y="215.7"/><use href="#m3" x="795.4" y="227"/><use href="#m3" x="828.5" y="226.2"/><use href="#m3" x="833.8" y="224.4"/><use href="#m3" x="806.7" y="203.5"/><use href="#m3" x="737" y="230.5"/><use href="#m3" x="732.7" y="240.1"/><use href="#m3" x="731.8" y="235.8"/><use href="#m3" x="720.5" y="319.4"/><use href="#m3" x="717.9" y="320.3"/></g>
<g fill="#adff2f"><use href="#m4" x="273.6" y="270.6"/><use href="#m4" x="240.5" y="285.7"/><use href="#m4" x="249.2" y="287.5"/><use href="#m4" x="253.6" y="293.6"/><use href="#m4" x="257.1" y="278.8"/><use href="#m4" x="263.2" y="280.5"/><use href="#m4" x="267.9" y="278.8"/><use href="#m4" x="270.2" y="293.6"/><use href="#m4" x="270.5" y="298.8"/><use href="#m4" x="279.7" y="306.1"/><use href="#m4" x="295.4" y="286.6"/><use href="#m4" x="312.8" y="291.5"/><use href="#m4" x="312.8" y="297.9"/><use href="#m4" x="319.3" y="289.2"/><use href="#m4" x="320.7" y="303.1"/><use href="#m4" x="325.6" y="285.4"/><use href="#m4" x="335.5" y="290.4"/><use href="#m4" x="333.2" y="301.8"/><use href="#m4" x="335" y="303.1"/><use href="#m4" x="341.6" y="301.4"/><use href="#m4" x="341.2" y="304"/><use href="#m4" x="361.6" y="292.7"/><use href="#m4" x="361.6" y="297"/><use href="#m4" x="352.9" y="314.5"/><use href="#m4" x="358.1" y="310.1"/><use href="#m4" x="360.4" y="315.9"/><use href="#m4" x="363.7" y="321.4"/><use href="#m4" x="373" y="324.1"/><use href="#m4" x="286.4" y="322.3"/><use href="#m4" x="318.4" y="333.6"/><use href="#m4" x="332.5" y="341.1"/><use href="#m4" x="337.8" y="340.3"/><use href="#m4" x="339.5" y="348.4"/><use href="#m4" x="324.2" y="365.4"/><use href="#m4" x="305.5" y="382.4"/><use href="#m4" x="378.5" y="342.4"/><use href="#m4" x="400" y="333.6"/><use href="#m4" x="371.2" y="323.2"/><use href="#m4" x="611.2" y="294.5"/><use href="#m4" x="610.2" y="299.3"/><use href="#m4" x="619.2" y="292.6"/><use href="#m4" x="620.2" y="293.3"/><use href="#m4" x="380" y="342.3"/><use href="#m4" x="400.1" y="333.2"/><use href="#m4" x="218.8" y="579.4"/><use href="#m4" x="176" y="599.3"/><use href="#m4" x="827.5" y="326.2"/><use href="#m4" x="698.4" y="189.4"/><use href="#m4" x="743.7" y="185.9"/><use href="#m4" x="772.4" y="185.9"/><use href="#m4" x="718.4" y="206.8"/><use href="#m4" x="721.9" y="206.3"/><use href="#m4" x="731.5" y="205"/><use href="#m4" x="748" y="160.3"/><use href="#m4" x="758.5" y="164.1"/><use href="#m4" x="750.6" y="210.3"/><use href="#m4" x="760.2" y="205"/><use href="#m4" x="800.3" y="205"/><use href="#m4" x="806.4" y="203.3"/><use href="#m4" x="788.1" y="141.1"/><use href="#m4" x="802.9" y="134.5"/><use href="#m4" x="807.3" y="134.8"/><use href="#m4" x="812.5" y="135.3"/><use href="#m4" x="820.3" y="137.1"/><use href="#m4" x="819.5" y="146.7"/><use href="#m4" x="831.7" y="124.4"/><use href="#m4" x="833.4" y="135.3"/><use href="#m4" x="850.3" y="118.4"/><use href="#m4" x="856.1" y="146.3"/><use href="#m4" x="833.4" y="164.1"/><use href="#m4" x="799.4" y="174.5"/><use href="#m4" x="838.6" y="197.2"/><use href="#m4" x="858.7" y="198.1"/><use href="#m4" x="934.1" y="100"/><use href="#m4" x="927.1" y="112.3"/><use href="#m4" x="949.4" y="112.7"/><use href="#m4" x="915.3" y="123.1"/><use href="#m4" x="980.8" y="105.4"/><use href="#m4" x="984.6" y="103.1"/><use href="#m4" x="1000.3" y="105.4"/><use href="#m4" x="1005.5" y="116.7"/><use href="#m4" x="999.4" y="124.4"/><use href="#m4" x="1004.7" y="124.4"/><use href="#m4" x="1010.8" y="124.4"/><use href="#m4" x="996.3" y="137.1"/><use href="#m4" x="1020.3" y="141.1"/><use href="#m4" x="981.5" y="145.8"/><use href="#m4" x="912.3" y="146.3"/><use href="#m4" x="934.6" y="151"/><use href="#m4" x="926.6" y="159.2"/><use href="#m4" x="850.5" y="117.9"/><use href="#m4" x="856.6" y="145.8"/><use href="#m4" x="875.4" y="151"/><use href="#m4" x="875.7" y="165.5"/><use href="#m4" x="887.4" y="164.6"/><use href="#m4" x="899.2" y="182.4"/><use href="#m4" x="904.5" y="185.9"/><use href="#m4" x="906.2" y="198.1"/><use href="#m4" x="862.7" y="198.1"/><use href="#m4" x="870.5" y="209.4"/><use href="#m4" x="862.7" y="212"/><use href="#m4" x="867.9" y="214.6"/><use href="#m4" x="902.7" y="210.3"/><use href="#m4" x="910.6" y="210.3"/><use href="#m4" x="927.1" y="210.3"/><use href="#m4" x="934.1" y="208.5"/><use href="#m4" x="923.6" y="214.6"/><use href="#m4" x="927.1" y="216.4"/><use href="#m4" x="943.7" y="214.6"/><use href="#m4" x="953.3" y="193.7"/><use href="#m4" x="966.3" y="190.2"/><use href="#m4" x="963.7" y="197.2"/><use href="#m4" x="982.5" y="174.2"/><use href="#m4" x="993.3" y="176.3"/><use href="#m4" x="863.5" y="198.3"/><use href="#m4" x="870.5" y="209.6"/><use href="#m4" x="862.6" y="211.4"/><use href="#m4" x="867" y="214.3"/><use href="#m4" x="861.7" y="217.5"/><use href="#m4" x="868.4" y="221.8"/><use href="#m4" x="906.2" y="197.4"/><use href="#m4" x="903.2" y="210.5"/><use href="#m4" x="910.5" y="210.5"/><use href="#m4" x="927.1" y="209.6"/><use href="#m4" x="934.1" y="207.9"/><use href="#m4" x="924.5" y="214"/><use href="#m4" x="927.1" y="216.6"/><use href="#m4" x="943.6" y="214.8"/><use href="#m4" x="954.1" y="193.1"/><use href="#m4" x="962.8" y="197.4"/><use href="#m4" x="966.3" y="190.5"/><use href="#m4" x="893.1" y="221.8"/><use href="#m4" x="890.5" y="227"/><use href="#m4" x="899.7" y="227.9"/><use href="#m4" x="878.3" y="234"/><use href="#m4" x="881.8" y="237.5"/><use href="#m4" x="885.3" y="240.1"/><use href="#m4" x="889.6" y="240.1"/><use href="#m4" x="902.7" y="246.2"/><use href="#m4" x="901.8" y="255.8"/><use href="#m4" x="906.7" y="258.4"/><use href="#m4" x="878.8" y="243.6"/><use href="#m4" x="875.7" y="251.4"/><use href="#m4" x="868.4" y="263.6"/><use href="#m4" x="743.1" y="186.6"/><use href="#m4" x="772.8" y="186.6"/><use href="#m4" x="698.7" y="189.6"/><use href="#m4" x="717.9" y="207"/><use href="#m4" x="721.4" y="206.5"/><use href="#m4" x="731.8" y="205.3"/><use href="#m4" x="750.1" y="210.5"/><use href="#m4" x="760.6" y="205.3"/><use href="#m4" x="800.6" y="205.3"/><use href="#m4" x="806.4" y="203.5"/><use href="#m4" x="769.3" y="226.2"/><use href="#m4" x="838.1" y="197.4"/><use href="#m4" x="862.5" y="197.4"/><use href="#m4" x="870.3" y="208.8"/><use href="#m4" x="867.7" y="214"/><use href="#m4" x="862.5" y="211.4"/><use href="#m4" x="859" y="218.3"/><use href="#m4" x="763.2" y="240.1"/><use href="#m4" x="767.5" y="245.3"/><use href="#m4" x="771.9" y="245.3"/><use href="#m4" x="772.8" y="250.6"/><use href="#m4" x="782.4" y="273.2"/><use href="#m4" x="776.3" y="278.1"/><use href="#m4" x="814.6" y="276.7"/><use href="#m4" x="868.6" y="263.3"/><use href="#m4" x="827.7" y="326"/><use href="#m4" x="876.4" y="234"/><use href="#m4" x="880.8" y="237.5"/><use href="#m4" x="879.1" y="244.5"/><use href="#m4" x="875.6" y="250.6"/></g>
</g>
<rect x="49.5" y="55.5" width="1085.0" height="770.0" fill="none" stroke="#808080" stroke-width="1"/>
<path d="M228.5 825.5v5M443.5 825.5v5M658.5 825.5v5M874.5 825.5v5M1089.5 825.5v5M49.5 87.5h-5M49.5 237.5h-5M49.5 386.5h-5M49.5 536.5h-5M49.5 686.5h-5" stroke="#000" stroke-width="1.1" fill="none"/>
<g font-size="16.3">
<text x="227.4" y="847.3" text-anchor="middle">−20</text>
<text x="442.4" y="847.3" text-anchor="middle">−10</text>
<text x="658.5" y="847.3" text-anchor="middle">0</text>
<text x="874.5" y="847.3" text-anchor="middle">10</text>
<text x="1089.5" y="847.3" text-anchor="middle">20</text>
<text x="38.4" y="93.3" text-anchor="end">20</text>
<text x="38.4" y="243.3" text-anchor="end">10</text>
<text x="38.4" y="392.3" text-anchor="end">0</text>
<text x="38.4" y="542.3" text-anchor="end">−10</text>
<text x="38.4" y="692.3" text-anchor="end">−20</text>
</g>
<g font-size="19.67" text-anchor="middle"><text x="589.3" y="24.6">High mass classifier</text><text x="593.6" y="47.4">Glitch &amp; chirp clustering of 5000 points</text></g>
<rect x="917.5" y="447.5" width="209" height="370" fill="#fff" fill-opacity=".8" stroke="#999" stroke-width="1"/>
<g stroke="#000" stroke-opacity=".72" fill-opacity=".6" stroke-width="1.15">
<use href="#m0" x="932.5" y="461.5" fill="#00bfff"/>
<use href="#m1" x="932.5" y="485.9" fill="#00bfff"/>
<use href="#m2" x="932.5" y="510.2" fill="#00bfff"/>
<use href="#m3" x="932.5" y="534.6" fill="#00bfff"/>
<use href="#m4" x="932.5" y="558.9" fill="#00bfff"/>
<use href="#m0" x="932.5" y="583.3" fill="#4b0082"/>
<use href="#m1" x="932.5" y="607.6" fill="#4b0082"/>
<use href="#m2" x="932.5" y="632" fill="#4b0082"/>
<use href="#m3" x="932.5" y="656.4" fill="#4b0082"/>
<use href="#m4" x="932.5" y="680.7" fill="#4b0082"/>
<use href="#m0" x="932.5" y="705.1" fill="#adff2f"/>
<use href="#m1" x="932.5" y="729.4" fill="#adff2f"/>
<use href="#m2" x="932.5" y="753.8" fill="#adff2f"/>
<use href="#m3" x="932.5" y="778.1" fill="#adff2f"/>
<use href="#m4" x="932.5" y="802.5" fill="#adff2f"/>
</g>
<g font-size="16.3">
<text x="955.1" y="465.9">1080Lines</text>
<text x="955.1" y="490.3">1400Ripples</text>
<text x="953.9" y="514.6">Air_Compressor</text>
<text x="953.9" y="539">Extremely_Loud</text>
<text x="953.9" y="563.3">Helix</text>
<text x="953.9" y="587.7">Light_Modulation</text>
<text x="953.9" y="612">Low_Frequency_Burst</text>
<text x="953.9" y="636.4">Low_Frequency_Lines</text>
<text x="953.9" y="660.8">None_of_the_Above</text>
<text x="953.9" y="685.1">Paired_Doves</text>
<text x="953.9" y="709.5">Power_Line</text>
<text x="953.9" y="733.8">Repeating_Blips</text>
<text x="953.9" y="758.2">Violin_Mode</text>
<text x="953.9" y="782.5">Wandering_Line</text>
<text x="953.9" y="806.9">Whistle</text>
</g>
<rect x="1202.5" y="777.38" width="38.0" height="48.42" fill="#aec7e8"/>
<rect x="1202.5" y="729.25" width="38.0" height="48.42" fill="#ff7f0e"/>
<rect x="1202.5" y="681.12" width="38.0" height="48.42" fill="#ffbb78"/>
<rect x="1202.5" y="633.00" width="38.0" height="48.42" fill="#2ca02c"/>
<rect x="1202.5" y="584.88" width="38.0" height="48.42" fill="#98df8a"/>
<rect x="1202.5" y="536.75" width="38.0" height="48.42" fill="#d62728"/>
<rect x="1202.5" y="488.62" width="38.0" height="48.42" fill="#ff9896"/>
<rect x="1202.5" y="440.50" width="38.0" height="48.42" fill="#9467bd"/>
<rect x="1202.5" y="392.38" width="38.0" height="48.42" fill="#c5b0d5"/>
<rect x="1202.5" y="344.25" width="38.0" height="48.42" fill="#8c564b"/>
<rect x="1202.5" y="296.12" width="38.0" height="48.42" fill="#c49c94"/>
<rect x="1202.5" y="248.00" width="38.0" height="48.42" fill="#e377c2"/>
<rect x="1202.5" y="199.88" width="38.0" height="48.42" fill="#f7b6d2"/>
<rect x="1202.5" y="151.75" width="38.0" height="48.42" fill="#7f7f7f"/>
<rect x="1202.5" y="103.62" width="38.0" height="48.42" fill="#c7c7c7"/>
<rect x="1202.5" y="55.50" width="38.0" height="48.42" fill="#bcbd22"/>
<rect x="1202.5" y="55.5" width="38.0" height="2.3" fill="#dbdb8d"/>
<path d="M1202.5 801.5H1240.5M1202.5 753.5H1240.5M1202.5 705.5H1240.5M1202.5 657.5H1240.5M1202.5 608.5H1240.5M1202.5 560.5H1240.5M1202.5 512.5H1240.5M1202.5 464.5H1240.5M1202.5 416.5H1240.5M1202.5 368.5H1240.5M1202.5 320.5H1240.5M1202.5 272.5H1240.5M1202.5 223.5H1240.5M1202.5 175.5H1240.5M1202.5 127.5H1240.5M1202.5 79.5H1240.5" stroke="#b0b0b0" stroke-opacity=".65" stroke-width="1" fill="none"/>
<rect x="1202.5" y="55.5" width="38.0" height="770.0" fill="none" stroke="#808080" stroke-width="1"/>
<path d="M1240.5 801.5h5M1240.5 753.5h5M1240.5 705.5h5M1240.5 657.5h5M1240.5 608.5h5M1240.5 560.5h5M1240.5 512.5h5M1240.5 464.5h5M1240.5 416.5h5M1240.5 368.5h5M1240.5 320.5h5M1240.5 272.5h5M1240.5 223.5h5M1240.5 175.5h5M1240.5 127.5h5M1240.5 79.5h5" stroke="#000" stroke-width="1.1" fill="none"/>
<g font-size="16.3">
<text x="1251.4" y="807">GW</text>
<text x="1251.4" y="758.9">Blip_Low_Frequency</text>
<text x="1251.4" y="710.8">Blip_Low_Frequency+GW</text>
<text x="1251.4" y="662.7">Blip</text>
<text x="1251.4" y="614.5">Blip+GW</text>
<text x="1251.4" y="566.4">Tomte</text>
<text x="1251.4" y="518.3">Tomte+GW</text>
<text x="1251.4" y="470.2">Koi_Fish</text>
<text x="1251.4" y="422">Koi_Fish+GW</text>
<text x="1251.4" y="373.9">Light_Scattering</text>
<text x="1251.4" y="325.8">Light_Scattering+GW</text>
<text x="1251.4" y="277.7">Fast_Scattering</text>
<text x="1251.4" y="229.5">Fast_Scattering+GW</text>
<text x="1251.4" y="181.4">Low_Frequency_Lines</text>
<text x="1251.4" y="133.3">Low_Frequency_Lines+GW</text>
<text x="1251.4" y="85.2">No_Glitch</text>
</g>
</svg></body></html>
